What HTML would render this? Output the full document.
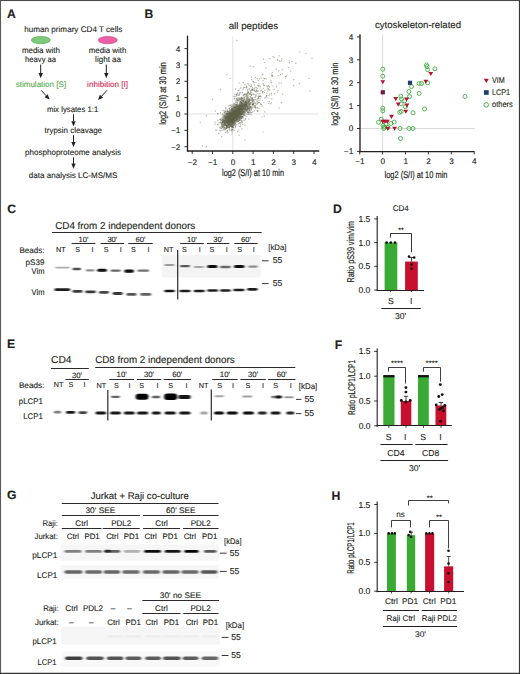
<!DOCTYPE html>
<html><head><meta charset="utf-8"><style>
html,body{margin:0;padding:0;background:#fff;}
svg{display:block;}
text{font-family:"Liberation Sans",sans-serif;stroke:#231f20;stroke-width:0.12px;text-rendering:geometricPrecision;}
</style></head><body>
<svg width="520" height="674" viewBox="0 0 520 674" fill="#231f20">
<defs><filter id="bl" x="-20%" y="-100%" width="140%" height="300%"><feGaussianBlur stdDeviation="0.9 0.55"/></filter></defs>
<rect x="0" y="0" width="520" height="674" fill="#fff"/>
<text x="7.0" y="18.1" font-size="12.2" font-weight="bold">A</text>
<text x="73.3" y="31.7" font-size="8.1" text-anchor="middle" textLength="98" lengthAdjust="spacingAndGlyphs">human primary CD4 T cells</text>
<ellipse cx="40.8" cy="40.1" rx="9.5" ry="3.6" fill="#7ccb7a" stroke="#5aa65a" stroke-width="0.7"/>
<ellipse cx="107.7" cy="40.1" rx="9.6" ry="3.6" fill="#ee5fa4" stroke="#c44a86" stroke-width="0.7"/>
<text x="40.9" y="52.5" font-size="8.1" text-anchor="middle" textLength="38" lengthAdjust="spacingAndGlyphs">media with</text>
<text x="40.6" y="62.2" font-size="8.1" text-anchor="middle" textLength="31" lengthAdjust="spacingAndGlyphs">heavy aa</text>
<text x="107.5" y="52.5" font-size="8.1" text-anchor="middle" textLength="37.5" lengthAdjust="spacingAndGlyphs">media with</text>
<text x="108.1" y="62.2" font-size="8.1" text-anchor="middle" textLength="26" lengthAdjust="spacingAndGlyphs">light aa</text>
<line x1="40.7" y1="64.5" x2="40.7" y2="73.1" stroke="#231f20" stroke-width="1.0"/>
<path d="M40.70,78.30 L38.55,73.10 L42.85,73.10Z" fill="#231f20"/>
<line x1="106.3" y1="64.5" x2="106.3" y2="73.1" stroke="#231f20" stroke-width="1.0"/>
<path d="M106.30,78.30 L104.15,73.10 L108.45,73.10Z" fill="#231f20"/>
<text x="40.9" y="86.8" font-size="8.1" text-anchor="middle" fill="#5aad4e" style="stroke:#5aad4e" textLength="50.5" lengthAdjust="spacingAndGlyphs">stimulation [S]</text>
<text x="107.6" y="86.8" font-size="8.1" text-anchor="middle" fill="#d42a55" style="stroke:#d42a55" textLength="41" lengthAdjust="spacingAndGlyphs">inhibition [I]</text>
<line x1="41.2" y1="90.3" x2="46.1145114585624" y2="95.74106625769407" stroke="#231f20" stroke-width="1.0"/>
<path d="M49.60,99.60 L44.52,97.18 L47.71,94.30Z" fill="#231f20"/>
<line x1="107" y1="90.3" x2="101.51730599779873" y2="96.27004458017471" stroke="#231f20" stroke-width="1.0"/>
<path d="M98.00,100.10 L99.93,94.82 L103.10,97.72Z" fill="#231f20"/>
<text x="72.6" y="111.9" font-size="8.1" text-anchor="middle" textLength="51.3" lengthAdjust="spacingAndGlyphs">mix lysates 1:1</text>
<line x1="73.5" y1="114.3" x2="73.5" y2="121.2" stroke="#231f20" stroke-width="1.0"/>
<path d="M73.50,126.40 L71.35,121.20 L75.65,121.20Z" fill="#231f20"/>
<text x="73.3" y="133" font-size="8.1" text-anchor="middle" textLength="57.5" lengthAdjust="spacingAndGlyphs">trypsin cleavage</text>
<line x1="73.5" y1="135.3" x2="73.5" y2="141.9" stroke="#231f20" stroke-width="1.0"/>
<path d="M73.50,147.10 L71.35,141.90 L75.65,141.90Z" fill="#231f20"/>
<text x="73.1" y="154.5" font-size="8.1" text-anchor="middle" textLength="96" lengthAdjust="spacingAndGlyphs">phosphoproteome analysis</text>
<line x1="73.5" y1="157.3" x2="73.5" y2="163.60000000000002" stroke="#231f20" stroke-width="1.0"/>
<path d="M73.50,168.80 L71.35,163.60 L75.65,163.60Z" fill="#231f20"/>
<text x="73.1" y="177.5" font-size="8.1" text-anchor="middle" textLength="88.5" lengthAdjust="spacingAndGlyphs">data analysis LC-MS/MS</text>
<text x="144.4" y="17.7" font-size="12.2" font-weight="bold">B</text>
<line x1="232.8" y1="36.5" x2="232.8" y2="151" stroke="#d4d4d4" stroke-width="0.7" />
<line x1="187.5" y1="114" x2="319" y2="114" stroke="#d4d4d4" stroke-width="0.7" />
<path d="M233.0 117.3h1.2v1.2h-1.2zM227.1 124.6h1.2v1.2h-1.2zM235.8 114.0h1.2v1.2h-1.2zM229.1 115.1h1.2v1.2h-1.2zM231.0 113.8h1.2v1.2h-1.2zM235.6 110.1h1.2v1.2h-1.2zM219.1 118.8h1.2v1.2h-1.2zM237.4 113.1h1.2v1.2h-1.2zM230.3 124.5h1.2v1.2h-1.2zM231.0 121.1h1.2v1.2h-1.2zM230.8 120.0h1.2v1.2h-1.2zM238.8 111.7h1.2v1.2h-1.2zM228.4 120.8h1.2v1.2h-1.2zM232.0 115.9h1.2v1.2h-1.2zM232.9 117.9h1.2v1.2h-1.2zM238.2 110.6h1.2v1.2h-1.2zM235.8 115.0h1.2v1.2h-1.2zM230.9 112.7h1.2v1.2h-1.2zM236.4 113.5h1.2v1.2h-1.2zM241.0 106.1h1.2v1.2h-1.2zM235.0 117.4h1.2v1.2h-1.2zM232.2 115.8h1.2v1.2h-1.2zM224.2 121.5h1.2v1.2h-1.2zM227.4 117.7h1.2v1.2h-1.2zM220.9 123.7h1.2v1.2h-1.2zM241.1 112.4h1.2v1.2h-1.2zM238.3 113.6h1.2v1.2h-1.2zM227.5 117.3h1.2v1.2h-1.2zM226.2 126.2h1.2v1.2h-1.2zM247.8 104.7h1.2v1.2h-1.2zM234.0 116.3h1.2v1.2h-1.2zM230.3 117.9h1.2v1.2h-1.2zM233.8 110.4h1.2v1.2h-1.2zM230.7 119.7h1.2v1.2h-1.2zM234.0 117.2h1.2v1.2h-1.2zM233.4 118.4h1.2v1.2h-1.2zM234.5 113.9h1.2v1.2h-1.2zM236.4 111.6h1.2v1.2h-1.2zM224.2 123.8h1.2v1.2h-1.2zM244.4 108.6h1.2v1.2h-1.2zM231.6 115.3h1.2v1.2h-1.2zM226.5 122.5h1.2v1.2h-1.2zM238.1 111.3h1.2v1.2h-1.2zM246.2 100.7h1.2v1.2h-1.2zM239.6 112.4h1.2v1.2h-1.2zM240.1 108.2h1.2v1.2h-1.2zM240.1 105.3h1.2v1.2h-1.2zM244.5 108.4h1.2v1.2h-1.2zM222.8 118.7h1.2v1.2h-1.2zM235.5 111.8h1.2v1.2h-1.2zM236.0 114.3h1.2v1.2h-1.2zM232.8 116.9h1.2v1.2h-1.2zM238.2 111.3h1.2v1.2h-1.2zM243.0 102.9h1.2v1.2h-1.2zM234.9 106.1h1.2v1.2h-1.2zM228.2 121.4h1.2v1.2h-1.2zM235.4 113.8h1.2v1.2h-1.2zM236.6 108.5h1.2v1.2h-1.2zM223.8 116.3h1.2v1.2h-1.2zM237.8 109.7h1.2v1.2h-1.2zM223.1 116.5h1.2v1.2h-1.2zM224.4 109.7h1.2v1.2h-1.2zM233.6 114.9h1.2v1.2h-1.2zM240.2 109.4h1.2v1.2h-1.2zM235.4 113.1h1.2v1.2h-1.2zM233.2 118.0h1.2v1.2h-1.2zM231.5 118.7h1.2v1.2h-1.2zM233.1 118.6h1.2v1.2h-1.2zM242.1 98.0h1.2v1.2h-1.2zM229.1 111.1h1.2v1.2h-1.2zM243.7 111.5h1.2v1.2h-1.2zM225.2 124.2h1.2v1.2h-1.2zM235.8 109.1h1.2v1.2h-1.2zM235.8 118.0h1.2v1.2h-1.2zM236.1 112.9h1.2v1.2h-1.2zM233.3 119.8h1.2v1.2h-1.2zM227.2 124.5h1.2v1.2h-1.2zM231.1 120.6h1.2v1.2h-1.2zM246.2 98.1h1.2v1.2h-1.2zM227.9 124.7h1.2v1.2h-1.2zM241.2 108.4h1.2v1.2h-1.2zM228.4 122.5h1.2v1.2h-1.2zM231.2 117.4h1.2v1.2h-1.2zM231.6 116.5h1.2v1.2h-1.2zM221.7 127.0h1.2v1.2h-1.2zM233.5 112.6h1.2v1.2h-1.2zM225.0 115.3h1.2v1.2h-1.2zM251.8 104.3h1.2v1.2h-1.2zM232.5 114.4h1.2v1.2h-1.2zM228.0 117.3h1.2v1.2h-1.2zM237.1 116.4h1.2v1.2h-1.2zM237.7 105.3h1.2v1.2h-1.2zM237.8 119.3h1.2v1.2h-1.2zM238.4 115.2h1.2v1.2h-1.2zM244.7 103.8h1.2v1.2h-1.2zM226.4 114.3h1.2v1.2h-1.2zM233.7 114.0h1.2v1.2h-1.2zM226.0 117.6h1.2v1.2h-1.2zM237.9 115.8h1.2v1.2h-1.2zM228.1 114.6h1.2v1.2h-1.2zM242.8 100.4h1.2v1.2h-1.2zM235.9 113.4h1.2v1.2h-1.2zM239.4 107.7h1.2v1.2h-1.2zM234.2 112.7h1.2v1.2h-1.2zM238.1 114.5h1.2v1.2h-1.2zM244.0 107.7h1.2v1.2h-1.2zM236.0 115.3h1.2v1.2h-1.2zM232.3 118.9h1.2v1.2h-1.2zM235.4 110.8h1.2v1.2h-1.2zM232.9 117.6h1.2v1.2h-1.2zM238.7 115.0h1.2v1.2h-1.2zM240.4 112.2h1.2v1.2h-1.2zM231.4 110.5h1.2v1.2h-1.2zM229.6 116.3h1.2v1.2h-1.2zM220.9 128.1h1.2v1.2h-1.2zM226.3 121.5h1.2v1.2h-1.2zM232.8 116.5h1.2v1.2h-1.2zM239.0 107.4h1.2v1.2h-1.2zM240.7 118.0h1.2v1.2h-1.2zM234.6 111.0h1.2v1.2h-1.2zM228.4 122.3h1.2v1.2h-1.2zM232.4 115.3h1.2v1.2h-1.2zM239.7 104.4h1.2v1.2h-1.2zM225.0 121.9h1.2v1.2h-1.2zM227.8 120.6h1.2v1.2h-1.2zM235.3 112.5h1.2v1.2h-1.2zM234.1 113.4h1.2v1.2h-1.2zM229.1 121.5h1.2v1.2h-1.2zM232.8 118.6h1.2v1.2h-1.2zM237.1 111.2h1.2v1.2h-1.2zM230.6 115.1h1.2v1.2h-1.2zM234.5 107.2h1.2v1.2h-1.2zM236.3 112.4h1.2v1.2h-1.2zM231.8 117.4h1.2v1.2h-1.2zM234.2 114.5h1.2v1.2h-1.2zM225.8 117.8h1.2v1.2h-1.2zM233.4 120.9h1.2v1.2h-1.2zM231.0 121.6h1.2v1.2h-1.2zM227.0 113.9h1.2v1.2h-1.2zM222.6 120.4h1.2v1.2h-1.2zM233.8 106.7h1.2v1.2h-1.2zM239.4 115.3h1.2v1.2h-1.2zM244.2 107.9h1.2v1.2h-1.2zM239.9 114.0h1.2v1.2h-1.2zM232.8 113.0h1.2v1.2h-1.2zM232.2 111.7h1.2v1.2h-1.2zM222.9 122.4h1.2v1.2h-1.2zM221.8 118.5h1.2v1.2h-1.2zM241.1 102.0h1.2v1.2h-1.2zM229.9 115.2h1.2v1.2h-1.2zM232.6 115.0h1.2v1.2h-1.2zM247.0 106.6h1.2v1.2h-1.2zM229.3 113.8h1.2v1.2h-1.2zM233.0 123.2h1.2v1.2h-1.2zM228.5 129.2h1.2v1.2h-1.2zM233.3 111.4h1.2v1.2h-1.2zM240.7 113.9h1.2v1.2h-1.2zM233.6 109.6h1.2v1.2h-1.2zM232.4 115.8h1.2v1.2h-1.2zM240.4 108.0h1.2v1.2h-1.2zM245.8 105.5h1.2v1.2h-1.2zM237.0 118.8h1.2v1.2h-1.2zM237.2 106.3h1.2v1.2h-1.2zM239.9 112.5h1.2v1.2h-1.2zM232.3 112.3h1.2v1.2h-1.2zM245.2 100.5h1.2v1.2h-1.2zM242.5 104.4h1.2v1.2h-1.2zM221.7 124.1h1.2v1.2h-1.2zM239.3 107.5h1.2v1.2h-1.2zM240.8 110.1h1.2v1.2h-1.2zM233.3 117.7h1.2v1.2h-1.2zM236.1 123.9h1.2v1.2h-1.2zM237.4 112.7h1.2v1.2h-1.2zM229.3 112.2h1.2v1.2h-1.2zM221.2 127.1h1.2v1.2h-1.2zM230.2 121.3h1.2v1.2h-1.2zM231.0 116.3h1.2v1.2h-1.2zM227.2 119.1h1.2v1.2h-1.2zM230.4 125.8h1.2v1.2h-1.2zM228.1 122.2h1.2v1.2h-1.2zM238.3 106.0h1.2v1.2h-1.2zM226.8 117.3h1.2v1.2h-1.2zM235.2 108.5h1.2v1.2h-1.2zM236.5 113.4h1.2v1.2h-1.2zM232.1 112.5h1.2v1.2h-1.2zM246.3 104.8h1.2v1.2h-1.2zM233.6 111.4h1.2v1.2h-1.2zM225.3 123.6h1.2v1.2h-1.2zM232.2 116.8h1.2v1.2h-1.2zM241.0 112.5h1.2v1.2h-1.2zM228.3 127.1h1.2v1.2h-1.2zM232.0 118.5h1.2v1.2h-1.2zM228.8 118.0h1.2v1.2h-1.2zM233.4 116.2h1.2v1.2h-1.2zM237.6 113.0h1.2v1.2h-1.2zM230.2 116.1h1.2v1.2h-1.2zM238.5 110.5h1.2v1.2h-1.2zM235.3 106.8h1.2v1.2h-1.2zM232.3 114.1h1.2v1.2h-1.2zM228.7 111.8h1.2v1.2h-1.2zM227.2 113.9h1.2v1.2h-1.2zM233.3 117.0h1.2v1.2h-1.2zM240.0 112.3h1.2v1.2h-1.2zM238.0 112.5h1.2v1.2h-1.2zM232.3 117.8h1.2v1.2h-1.2zM230.9 118.3h1.2v1.2h-1.2zM243.8 105.6h1.2v1.2h-1.2zM233.0 117.6h1.2v1.2h-1.2zM234.2 108.2h1.2v1.2h-1.2zM223.5 128.5h1.2v1.2h-1.2zM234.7 119.4h1.2v1.2h-1.2zM228.5 118.3h1.2v1.2h-1.2zM233.3 113.6h1.2v1.2h-1.2zM237.2 111.5h1.2v1.2h-1.2zM236.8 113.1h1.2v1.2h-1.2zM237.0 116.5h1.2v1.2h-1.2zM232.3 113.9h1.2v1.2h-1.2zM232.8 114.0h1.2v1.2h-1.2zM236.5 107.9h1.2v1.2h-1.2zM227.3 110.9h1.2v1.2h-1.2zM237.5 114.9h1.2v1.2h-1.2zM232.1 117.7h1.2v1.2h-1.2zM233.2 114.0h1.2v1.2h-1.2zM238.7 111.2h1.2v1.2h-1.2zM241.0 107.4h1.2v1.2h-1.2zM235.4 118.1h1.2v1.2h-1.2zM232.0 118.8h1.2v1.2h-1.2zM228.0 118.9h1.2v1.2h-1.2zM245.3 103.3h1.2v1.2h-1.2zM237.4 109.3h1.2v1.2h-1.2zM240.3 109.8h1.2v1.2h-1.2zM223.2 120.0h1.2v1.2h-1.2zM238.3 114.6h1.2v1.2h-1.2zM239.6 110.1h1.2v1.2h-1.2zM235.1 113.0h1.2v1.2h-1.2zM226.5 120.4h1.2v1.2h-1.2zM229.9 107.1h1.2v1.2h-1.2zM237.3 110.7h1.2v1.2h-1.2zM236.4 113.9h1.2v1.2h-1.2zM233.1 110.8h1.2v1.2h-1.2zM226.8 126.4h1.2v1.2h-1.2zM235.0 125.8h1.2v1.2h-1.2zM223.7 125.2h1.2v1.2h-1.2zM234.6 111.6h1.2v1.2h-1.2zM236.8 112.8h1.2v1.2h-1.2zM232.2 115.0h1.2v1.2h-1.2zM238.9 112.6h1.2v1.2h-1.2zM241.8 116.9h1.2v1.2h-1.2zM233.0 115.7h1.2v1.2h-1.2zM224.9 128.7h1.2v1.2h-1.2zM231.8 118.6h1.2v1.2h-1.2zM233.2 125.0h1.2v1.2h-1.2zM230.1 114.1h1.2v1.2h-1.2zM226.3 123.0h1.2v1.2h-1.2zM241.7 113.3h1.2v1.2h-1.2zM237.0 113.7h1.2v1.2h-1.2zM225.4 123.8h1.2v1.2h-1.2zM238.1 115.2h1.2v1.2h-1.2zM237.1 115.2h1.2v1.2h-1.2zM233.5 111.2h1.2v1.2h-1.2zM231.4 112.8h1.2v1.2h-1.2zM224.2 125.4h1.2v1.2h-1.2zM230.9 110.3h1.2v1.2h-1.2zM229.6 114.0h1.2v1.2h-1.2zM251.0 97.7h1.2v1.2h-1.2zM237.5 105.2h1.2v1.2h-1.2zM233.1 112.5h1.2v1.2h-1.2zM234.4 120.0h1.2v1.2h-1.2zM234.1 112.9h1.2v1.2h-1.2zM234.0 112.3h1.2v1.2h-1.2zM231.0 115.0h1.2v1.2h-1.2zM236.7 109.6h1.2v1.2h-1.2zM239.9 110.8h1.2v1.2h-1.2zM233.9 117.9h1.2v1.2h-1.2zM236.2 120.6h1.2v1.2h-1.2zM232.6 119.5h1.2v1.2h-1.2zM227.6 118.0h1.2v1.2h-1.2zM244.2 112.5h1.2v1.2h-1.2zM239.6 111.7h1.2v1.2h-1.2zM223.3 124.8h1.2v1.2h-1.2zM239.4 109.6h1.2v1.2h-1.2zM236.2 117.6h1.2v1.2h-1.2zM238.1 108.6h1.2v1.2h-1.2zM231.8 126.1h1.2v1.2h-1.2zM236.1 106.2h1.2v1.2h-1.2zM239.3 105.1h1.2v1.2h-1.2zM235.6 111.9h1.2v1.2h-1.2zM227.3 115.0h1.2v1.2h-1.2zM232.2 120.7h1.2v1.2h-1.2zM232.8 117.9h1.2v1.2h-1.2zM241.8 110.7h1.2v1.2h-1.2zM230.3 120.8h1.2v1.2h-1.2zM226.0 124.3h1.2v1.2h-1.2zM241.8 109.0h1.2v1.2h-1.2zM229.0 127.6h1.2v1.2h-1.2zM233.0 117.2h1.2v1.2h-1.2zM231.9 112.9h1.2v1.2h-1.2zM233.9 116.7h1.2v1.2h-1.2zM233.2 116.2h1.2v1.2h-1.2zM237.7 112.5h1.2v1.2h-1.2zM233.2 117.1h1.2v1.2h-1.2zM229.5 116.3h1.2v1.2h-1.2zM230.3 111.7h1.2v1.2h-1.2zM241.0 104.8h1.2v1.2h-1.2zM238.2 112.8h1.2v1.2h-1.2zM232.1 108.5h1.2v1.2h-1.2zM241.8 111.1h1.2v1.2h-1.2zM222.5 115.7h1.2v1.2h-1.2zM239.9 109.9h1.2v1.2h-1.2zM238.9 116.5h1.2v1.2h-1.2zM225.6 117.8h1.2v1.2h-1.2zM235.4 112.7h1.2v1.2h-1.2zM239.6 114.9h1.2v1.2h-1.2zM244.2 101.0h1.2v1.2h-1.2zM240.0 113.2h1.2v1.2h-1.2zM241.9 112.1h1.2v1.2h-1.2zM235.8 115.4h1.2v1.2h-1.2zM234.1 114.6h1.2v1.2h-1.2zM238.7 111.1h1.2v1.2h-1.2zM236.9 113.2h1.2v1.2h-1.2zM226.9 115.6h1.2v1.2h-1.2zM236.0 116.2h1.2v1.2h-1.2zM238.7 118.9h1.2v1.2h-1.2zM241.8 105.4h1.2v1.2h-1.2zM223.7 121.9h1.2v1.2h-1.2zM232.7 114.6h1.2v1.2h-1.2zM232.7 117.0h1.2v1.2h-1.2zM233.0 114.7h1.2v1.2h-1.2zM228.7 112.3h1.2v1.2h-1.2zM227.5 123.0h1.2v1.2h-1.2zM237.4 99.6h1.2v1.2h-1.2zM230.9 108.8h1.2v1.2h-1.2zM226.0 121.1h1.2v1.2h-1.2zM237.9 110.6h1.2v1.2h-1.2zM242.6 106.7h1.2v1.2h-1.2zM234.3 114.2h1.2v1.2h-1.2zM233.6 118.6h1.2v1.2h-1.2zM236.8 105.6h1.2v1.2h-1.2zM235.6 114.1h1.2v1.2h-1.2zM230.8 122.4h1.2v1.2h-1.2zM232.1 113.2h1.2v1.2h-1.2zM233.8 115.4h1.2v1.2h-1.2zM235.3 113.9h1.2v1.2h-1.2zM234.2 112.5h1.2v1.2h-1.2zM232.2 114.4h1.2v1.2h-1.2zM227.9 116.2h1.2v1.2h-1.2zM241.2 104.8h1.2v1.2h-1.2zM231.2 117.8h1.2v1.2h-1.2zM221.4 126.0h1.2v1.2h-1.2zM233.0 119.0h1.2v1.2h-1.2zM225.1 120.6h1.2v1.2h-1.2zM234.8 115.9h1.2v1.2h-1.2zM247.0 104.1h1.2v1.2h-1.2zM228.0 116.2h1.2v1.2h-1.2zM230.0 117.1h1.2v1.2h-1.2zM226.0 115.7h1.2v1.2h-1.2zM236.7 110.8h1.2v1.2h-1.2zM235.8 115.6h1.2v1.2h-1.2zM231.0 118.2h1.2v1.2h-1.2zM224.7 113.3h1.2v1.2h-1.2zM240.7 108.0h1.2v1.2h-1.2zM234.3 113.8h1.2v1.2h-1.2zM235.8 113.0h1.2v1.2h-1.2zM238.9 107.1h1.2v1.2h-1.2zM239.5 114.7h1.2v1.2h-1.2zM229.7 116.2h1.2v1.2h-1.2zM222.7 119.7h1.2v1.2h-1.2zM232.9 111.9h1.2v1.2h-1.2zM230.5 118.4h1.2v1.2h-1.2zM229.8 118.7h1.2v1.2h-1.2zM230.9 116.0h1.2v1.2h-1.2zM243.5 107.5h1.2v1.2h-1.2zM235.4 113.7h1.2v1.2h-1.2zM235.9 111.9h1.2v1.2h-1.2zM231.9 114.2h1.2v1.2h-1.2zM234.9 110.4h1.2v1.2h-1.2zM222.6 120.2h1.2v1.2h-1.2zM239.5 117.6h1.2v1.2h-1.2zM233.5 111.8h1.2v1.2h-1.2zM234.8 111.9h1.2v1.2h-1.2zM231.5 108.6h1.2v1.2h-1.2zM231.7 113.8h1.2v1.2h-1.2zM233.5 122.5h1.2v1.2h-1.2zM231.8 119.4h1.2v1.2h-1.2zM224.0 123.0h1.2v1.2h-1.2zM225.9 113.1h1.2v1.2h-1.2zM240.7 107.5h1.2v1.2h-1.2zM223.1 125.0h1.2v1.2h-1.2zM234.6 116.9h1.2v1.2h-1.2zM230.2 117.8h1.2v1.2h-1.2zM234.6 113.0h1.2v1.2h-1.2zM232.1 122.1h1.2v1.2h-1.2zM233.2 119.5h1.2v1.2h-1.2zM235.0 114.6h1.2v1.2h-1.2zM232.6 115.4h1.2v1.2h-1.2zM227.1 111.1h1.2v1.2h-1.2zM235.3 114.7h1.2v1.2h-1.2zM239.5 106.2h1.2v1.2h-1.2zM229.1 118.3h1.2v1.2h-1.2zM238.1 111.3h1.2v1.2h-1.2zM225.4 107.4h1.2v1.2h-1.2zM225.8 111.8h1.2v1.2h-1.2zM235.9 117.9h1.2v1.2h-1.2zM231.7 114.7h1.2v1.2h-1.2zM238.5 104.7h1.2v1.2h-1.2zM229.0 125.2h1.2v1.2h-1.2zM239.6 100.8h1.2v1.2h-1.2zM228.9 119.7h1.2v1.2h-1.2zM235.3 111.6h1.2v1.2h-1.2zM242.6 110.9h1.2v1.2h-1.2zM231.4 104.6h1.2v1.2h-1.2zM241.6 105.8h1.2v1.2h-1.2zM234.0 112.9h1.2v1.2h-1.2zM240.7 116.0h1.2v1.2h-1.2zM243.9 101.8h1.2v1.2h-1.2zM224.6 126.9h1.2v1.2h-1.2zM236.3 119.3h1.2v1.2h-1.2zM239.2 107.4h1.2v1.2h-1.2zM231.5 131.2h1.2v1.2h-1.2zM234.3 114.3h1.2v1.2h-1.2zM232.9 114.9h1.2v1.2h-1.2zM238.2 110.5h1.2v1.2h-1.2zM231.1 114.3h1.2v1.2h-1.2zM242.9 104.9h1.2v1.2h-1.2zM220.9 119.9h1.2v1.2h-1.2zM230.5 111.9h1.2v1.2h-1.2zM228.2 122.7h1.2v1.2h-1.2zM219.3 127.6h1.2v1.2h-1.2zM234.5 104.5h1.2v1.2h-1.2zM226.7 114.3h1.2v1.2h-1.2zM233.6 119.9h1.2v1.2h-1.2zM242.7 110.9h1.2v1.2h-1.2zM230.5 118.1h1.2v1.2h-1.2zM222.2 119.8h1.2v1.2h-1.2zM235.7 104.2h1.2v1.2h-1.2zM239.3 108.7h1.2v1.2h-1.2zM228.5 120.5h1.2v1.2h-1.2zM228.1 118.8h1.2v1.2h-1.2zM223.6 110.7h1.2v1.2h-1.2zM241.2 120.5h1.2v1.2h-1.2zM217.2 113.2h1.2v1.2h-1.2zM222.3 109.8h1.2v1.2h-1.2zM234.2 108.4h1.2v1.2h-1.2zM227.9 116.9h1.2v1.2h-1.2zM244.4 105.2h1.2v1.2h-1.2zM234.5 123.7h1.2v1.2h-1.2zM241.7 121.8h1.2v1.2h-1.2zM241.0 109.8h1.2v1.2h-1.2zM221.1 136.1h1.2v1.2h-1.2zM226.7 112.6h1.2v1.2h-1.2zM224.4 117.2h1.2v1.2h-1.2zM233.5 121.5h1.2v1.2h-1.2zM224.8 127.2h1.2v1.2h-1.2zM242.9 115.2h1.2v1.2h-1.2zM226.0 123.4h1.2v1.2h-1.2zM221.9 121.0h1.2v1.2h-1.2zM229.5 112.6h1.2v1.2h-1.2zM234.3 109.9h1.2v1.2h-1.2zM239.5 125.9h1.2v1.2h-1.2zM251.5 106.3h1.2v1.2h-1.2zM237.7 123.1h1.2v1.2h-1.2zM246.0 104.4h1.2v1.2h-1.2zM238.0 105.9h1.2v1.2h-1.2zM231.5 123.9h1.2v1.2h-1.2zM231.0 110.8h1.2v1.2h-1.2zM229.9 118.1h1.2v1.2h-1.2zM222.3 125.6h1.2v1.2h-1.2zM229.8 112.8h1.2v1.2h-1.2zM248.5 108.5h1.2v1.2h-1.2zM231.3 126.8h1.2v1.2h-1.2zM246.3 104.9h1.2v1.2h-1.2zM233.2 107.2h1.2v1.2h-1.2zM233.9 111.9h1.2v1.2h-1.2zM225.0 111.0h1.2v1.2h-1.2zM228.2 114.4h1.2v1.2h-1.2zM249.2 103.0h1.2v1.2h-1.2zM278.6 60.1h1.2v1.2h-1.2zM249.0 99.8h1.2v1.2h-1.2zM252.3 103.0h1.2v1.2h-1.2zM242.5 104.1h1.2v1.2h-1.2zM245.7 103.5h1.2v1.2h-1.2zM248.6 85.0h1.2v1.2h-1.2zM244.4 107.0h1.2v1.2h-1.2zM308.4 77.9h1.2v1.2h-1.2zM267.7 84.7h1.2v1.2h-1.2zM259.0 95.9h1.2v1.2h-1.2zM255.0 102.4h1.2v1.2h-1.2zM266.6 88.4h1.2v1.2h-1.2zM241.0 101.7h1.2v1.2h-1.2zM244.9 102.2h1.2v1.2h-1.2zM247.4 111.6h1.2v1.2h-1.2zM273.8 93.3h1.2v1.2h-1.2zM248.1 83.3h1.2v1.2h-1.2zM243.7 98.8h1.2v1.2h-1.2zM254.7 96.3h1.2v1.2h-1.2zM258.2 85.2h1.2v1.2h-1.2zM266.0 85.2h1.2v1.2h-1.2zM248.6 103.6h1.2v1.2h-1.2zM247.0 100.2h1.2v1.2h-1.2zM236.0 97.9h1.2v1.2h-1.2zM249.0 93.1h1.2v1.2h-1.2zM241.8 91.8h1.2v1.2h-1.2zM277.1 91.6h1.2v1.2h-1.2zM236.7 92.0h1.2v1.2h-1.2zM260.6 89.6h1.2v1.2h-1.2zM247.9 103.1h1.2v1.2h-1.2zM252.2 111.1h1.2v1.2h-1.2zM273.5 88.8h1.2v1.2h-1.2zM268.8 86.4h1.2v1.2h-1.2zM250.4 100.1h1.2v1.2h-1.2zM240.4 98.4h1.2v1.2h-1.2zM259.8 95.8h1.2v1.2h-1.2zM257.2 110.5h1.2v1.2h-1.2zM253.9 105.1h1.2v1.2h-1.2zM242.4 98.3h1.2v1.2h-1.2zM257.7 98.0h1.2v1.2h-1.2zM246.5 106.1h1.2v1.2h-1.2zM248.5 102.4h1.2v1.2h-1.2zM247.3 90.6h1.2v1.2h-1.2zM248.8 103.4h1.2v1.2h-1.2zM255.0 108.3h1.2v1.2h-1.2zM252.5 93.7h1.2v1.2h-1.2zM249.2 88.5h1.2v1.2h-1.2zM233.8 98.4h1.2v1.2h-1.2zM257.8 102.1h1.2v1.2h-1.2zM251.0 79.0h1.2v1.2h-1.2zM246.0 86.5h1.2v1.2h-1.2zM246.1 100.6h1.2v1.2h-1.2zM272.3 85.4h1.2v1.2h-1.2zM235.8 95.3h1.2v1.2h-1.2zM244.6 106.4h1.2v1.2h-1.2zM247.2 92.2h1.2v1.2h-1.2zM253.2 99.6h1.2v1.2h-1.2zM247.4 104.6h1.2v1.2h-1.2zM253.3 102.9h1.2v1.2h-1.2zM265.9 85.3h1.2v1.2h-1.2zM270.8 102.3h1.2v1.2h-1.2zM262.4 80.1h1.2v1.2h-1.2zM241.4 92.3h1.2v1.2h-1.2zM248.8 109.8h1.2v1.2h-1.2zM284.9 75.9h1.2v1.2h-1.2zM247.9 99.6h1.2v1.2h-1.2zM245.6 100.8h1.2v1.2h-1.2zM259.3 92.7h1.2v1.2h-1.2zM241.9 104.0h1.2v1.2h-1.2zM256.1 86.9h1.2v1.2h-1.2zM249.7 112.2h1.2v1.2h-1.2zM248.5 98.2h1.2v1.2h-1.2zM268.4 94.7h1.2v1.2h-1.2zM258.3 83.3h1.2v1.2h-1.2zM243.8 105.5h1.2v1.2h-1.2zM244.7 100.0h1.2v1.2h-1.2zM258.3 100.0h1.2v1.2h-1.2zM246.3 106.0h1.2v1.2h-1.2zM272.2 75.9h1.2v1.2h-1.2zM260.5 77.6h1.2v1.2h-1.2zM201.8 145.3h1.2v1.2h-1.2zM311.4 57.8h1.2v1.2h-1.2zM244.4 139.6h1.2v1.2h-1.2zM293.1 79.1h1.2v1.2h-1.2z" fill="#55583f" fill-opacity="0.42"/>
<path d="M231.5 115.4h1.2v1.2h-1.2zM237.2 113.1h1.2v1.2h-1.2zM233.6 121.6h1.2v1.2h-1.2zM233.3 119.9h1.2v1.2h-1.2zM236.0 112.0h1.2v1.2h-1.2zM228.5 114.5h1.2v1.2h-1.2zM233.8 111.4h1.2v1.2h-1.2zM228.5 125.0h1.2v1.2h-1.2zM236.1 111.5h1.2v1.2h-1.2zM240.9 105.5h1.2v1.2h-1.2zM241.6 110.1h1.2v1.2h-1.2zM245.7 103.9h1.2v1.2h-1.2zM236.0 113.2h1.2v1.2h-1.2zM219.4 126.8h1.2v1.2h-1.2zM234.1 103.1h1.2v1.2h-1.2zM235.9 118.6h1.2v1.2h-1.2zM222.9 119.1h1.2v1.2h-1.2zM241.0 113.8h1.2v1.2h-1.2zM239.9 104.1h1.2v1.2h-1.2zM221.6 125.0h1.2v1.2h-1.2zM245.3 109.5h1.2v1.2h-1.2zM230.9 118.3h1.2v1.2h-1.2zM240.7 110.7h1.2v1.2h-1.2zM225.8 122.0h1.2v1.2h-1.2zM234.0 112.4h1.2v1.2h-1.2zM230.8 115.4h1.2v1.2h-1.2zM228.8 119.1h1.2v1.2h-1.2zM251.2 101.7h1.2v1.2h-1.2zM233.7 111.7h1.2v1.2h-1.2zM224.8 117.8h1.2v1.2h-1.2zM229.5 118.2h1.2v1.2h-1.2zM233.0 115.8h1.2v1.2h-1.2zM224.4 124.0h1.2v1.2h-1.2zM236.5 112.4h1.2v1.2h-1.2zM234.0 118.6h1.2v1.2h-1.2zM239.0 109.3h1.2v1.2h-1.2zM233.5 117.5h1.2v1.2h-1.2zM229.2 113.2h1.2v1.2h-1.2zM233.3 107.7h1.2v1.2h-1.2zM226.0 120.1h1.2v1.2h-1.2zM231.3 113.7h1.2v1.2h-1.2zM231.2 111.3h1.2v1.2h-1.2zM227.0 115.6h1.2v1.2h-1.2zM239.9 108.8h1.2v1.2h-1.2zM235.9 111.7h1.2v1.2h-1.2zM229.9 119.3h1.2v1.2h-1.2zM236.2 110.1h1.2v1.2h-1.2zM235.4 122.1h1.2v1.2h-1.2zM239.2 107.2h1.2v1.2h-1.2zM229.3 119.6h1.2v1.2h-1.2zM240.8 116.0h1.2v1.2h-1.2zM235.1 116.3h1.2v1.2h-1.2zM236.0 111.8h1.2v1.2h-1.2zM233.8 113.8h1.2v1.2h-1.2zM237.3 110.4h1.2v1.2h-1.2zM244.0 105.9h1.2v1.2h-1.2zM226.6 120.7h1.2v1.2h-1.2zM235.2 116.1h1.2v1.2h-1.2zM234.0 115.3h1.2v1.2h-1.2zM233.7 111.8h1.2v1.2h-1.2zM238.4 113.1h1.2v1.2h-1.2zM237.2 109.5h1.2v1.2h-1.2zM234.3 117.7h1.2v1.2h-1.2zM229.2 125.6h1.2v1.2h-1.2zM236.4 110.3h1.2v1.2h-1.2zM243.1 105.2h1.2v1.2h-1.2zM229.3 121.0h1.2v1.2h-1.2zM232.9 113.7h1.2v1.2h-1.2zM233.9 116.0h1.2v1.2h-1.2zM231.1 115.3h1.2v1.2h-1.2zM228.7 117.8h1.2v1.2h-1.2zM236.4 104.2h1.2v1.2h-1.2zM236.2 119.1h1.2v1.2h-1.2zM230.2 115.7h1.2v1.2h-1.2zM230.1 121.3h1.2v1.2h-1.2zM231.8 119.7h1.2v1.2h-1.2zM227.5 125.4h1.2v1.2h-1.2zM237.4 113.4h1.2v1.2h-1.2zM231.7 116.6h1.2v1.2h-1.2zM233.8 112.1h1.2v1.2h-1.2zM232.7 114.4h1.2v1.2h-1.2zM229.2 120.5h1.2v1.2h-1.2zM239.1 112.3h1.2v1.2h-1.2zM228.6 119.5h1.2v1.2h-1.2zM235.6 111.3h1.2v1.2h-1.2zM222.6 125.5h1.2v1.2h-1.2zM241.4 113.1h1.2v1.2h-1.2zM228.5 116.7h1.2v1.2h-1.2zM233.7 111.7h1.2v1.2h-1.2zM222.9 124.6h1.2v1.2h-1.2zM229.8 117.0h1.2v1.2h-1.2zM231.1 118.9h1.2v1.2h-1.2zM240.8 108.7h1.2v1.2h-1.2zM226.4 121.6h1.2v1.2h-1.2zM230.7 112.9h1.2v1.2h-1.2zM230.8 114.3h1.2v1.2h-1.2zM234.5 116.7h1.2v1.2h-1.2zM221.7 116.7h1.2v1.2h-1.2zM246.7 105.7h1.2v1.2h-1.2zM227.5 114.3h1.2v1.2h-1.2zM237.2 112.8h1.2v1.2h-1.2zM232.0 113.4h1.2v1.2h-1.2zM235.8 107.9h1.2v1.2h-1.2zM233.6 112.3h1.2v1.2h-1.2zM231.3 123.3h1.2v1.2h-1.2zM227.1 114.3h1.2v1.2h-1.2zM237.4 108.0h1.2v1.2h-1.2zM242.8 111.9h1.2v1.2h-1.2zM236.6 114.8h1.2v1.2h-1.2zM242.0 105.1h1.2v1.2h-1.2zM237.2 112.7h1.2v1.2h-1.2zM228.7 123.3h1.2v1.2h-1.2zM236.0 107.2h1.2v1.2h-1.2zM229.7 120.6h1.2v1.2h-1.2zM240.9 108.5h1.2v1.2h-1.2zM234.4 109.4h1.2v1.2h-1.2zM234.5 117.8h1.2v1.2h-1.2zM238.9 116.6h1.2v1.2h-1.2zM231.5 121.4h1.2v1.2h-1.2zM231.7 118.7h1.2v1.2h-1.2zM229.2 115.8h1.2v1.2h-1.2zM248.0 100.9h1.2v1.2h-1.2zM243.1 112.7h1.2v1.2h-1.2zM225.8 125.6h1.2v1.2h-1.2zM223.1 123.1h1.2v1.2h-1.2zM226.6 117.1h1.2v1.2h-1.2zM229.1 113.5h1.2v1.2h-1.2zM234.0 111.2h1.2v1.2h-1.2zM233.9 119.5h1.2v1.2h-1.2zM238.9 106.6h1.2v1.2h-1.2zM228.6 115.6h1.2v1.2h-1.2zM229.2 117.8h1.2v1.2h-1.2zM233.5 109.7h1.2v1.2h-1.2zM230.1 115.9h1.2v1.2h-1.2zM231.0 114.2h1.2v1.2h-1.2zM223.8 126.7h1.2v1.2h-1.2zM242.6 112.6h1.2v1.2h-1.2zM228.3 116.8h1.2v1.2h-1.2zM232.5 120.6h1.2v1.2h-1.2zM233.3 111.7h1.2v1.2h-1.2zM229.1 117.7h1.2v1.2h-1.2zM236.5 110.5h1.2v1.2h-1.2zM232.3 112.9h1.2v1.2h-1.2zM231.3 120.9h1.2v1.2h-1.2zM228.6 117.5h1.2v1.2h-1.2zM241.5 104.4h1.2v1.2h-1.2zM223.5 127.3h1.2v1.2h-1.2zM229.1 115.5h1.2v1.2h-1.2zM233.6 113.5h1.2v1.2h-1.2zM224.7 119.8h1.2v1.2h-1.2zM231.2 114.3h1.2v1.2h-1.2zM235.3 108.1h1.2v1.2h-1.2zM243.8 111.0h1.2v1.2h-1.2zM249.2 106.5h1.2v1.2h-1.2zM246.5 101.6h1.2v1.2h-1.2zM233.5 114.9h1.2v1.2h-1.2zM231.1 114.4h1.2v1.2h-1.2zM234.6 115.1h1.2v1.2h-1.2zM237.6 108.1h1.2v1.2h-1.2zM228.7 121.2h1.2v1.2h-1.2zM239.1 107.7h1.2v1.2h-1.2zM236.0 112.6h1.2v1.2h-1.2zM236.4 112.4h1.2v1.2h-1.2zM231.9 113.8h1.2v1.2h-1.2zM235.4 116.5h1.2v1.2h-1.2zM235.4 117.1h1.2v1.2h-1.2zM239.7 106.2h1.2v1.2h-1.2zM229.5 116.5h1.2v1.2h-1.2zM234.9 117.9h1.2v1.2h-1.2zM235.1 108.3h1.2v1.2h-1.2zM236.9 116.2h1.2v1.2h-1.2zM234.3 120.7h1.2v1.2h-1.2zM241.7 104.8h1.2v1.2h-1.2zM231.3 112.3h1.2v1.2h-1.2zM227.9 118.5h1.2v1.2h-1.2zM231.3 119.3h1.2v1.2h-1.2zM236.9 109.6h1.2v1.2h-1.2zM240.4 104.4h1.2v1.2h-1.2zM228.4 115.3h1.2v1.2h-1.2zM238.5 109.6h1.2v1.2h-1.2zM235.2 101.7h1.2v1.2h-1.2zM229.4 129.2h1.2v1.2h-1.2zM230.5 115.3h1.2v1.2h-1.2zM232.4 113.9h1.2v1.2h-1.2zM230.4 114.1h1.2v1.2h-1.2zM220.3 122.7h1.2v1.2h-1.2zM220.5 121.4h1.2v1.2h-1.2zM234.6 116.1h1.2v1.2h-1.2zM243.7 109.8h1.2v1.2h-1.2zM238.0 112.0h1.2v1.2h-1.2zM241.8 116.1h1.2v1.2h-1.2zM229.8 116.6h1.2v1.2h-1.2zM232.2 117.1h1.2v1.2h-1.2zM233.3 117.6h1.2v1.2h-1.2zM242.5 106.9h1.2v1.2h-1.2zM245.9 108.3h1.2v1.2h-1.2zM230.3 115.9h1.2v1.2h-1.2zM233.5 115.9h1.2v1.2h-1.2zM229.7 114.7h1.2v1.2h-1.2zM228.0 117.0h1.2v1.2h-1.2zM235.4 118.0h1.2v1.2h-1.2zM228.4 113.9h1.2v1.2h-1.2zM232.1 122.6h1.2v1.2h-1.2zM232.2 118.1h1.2v1.2h-1.2zM234.1 114.4h1.2v1.2h-1.2zM232.5 115.5h1.2v1.2h-1.2zM234.4 110.9h1.2v1.2h-1.2zM233.9 111.0h1.2v1.2h-1.2zM242.1 100.5h1.2v1.2h-1.2zM234.9 113.9h1.2v1.2h-1.2zM228.1 119.7h1.2v1.2h-1.2zM234.8 115.0h1.2v1.2h-1.2zM227.8 115.4h1.2v1.2h-1.2zM229.0 115.2h1.2v1.2h-1.2zM237.3 107.7h1.2v1.2h-1.2zM240.1 111.3h1.2v1.2h-1.2zM242.4 105.4h1.2v1.2h-1.2zM235.6 116.5h1.2v1.2h-1.2zM241.5 102.6h1.2v1.2h-1.2zM232.4 114.6h1.2v1.2h-1.2zM235.0 108.6h1.2v1.2h-1.2zM236.6 108.0h1.2v1.2h-1.2zM241.1 114.0h1.2v1.2h-1.2zM240.1 116.6h1.2v1.2h-1.2zM233.1 115.8h1.2v1.2h-1.2zM220.7 125.7h1.2v1.2h-1.2zM232.6 107.7h1.2v1.2h-1.2zM238.8 110.7h1.2v1.2h-1.2zM229.0 120.5h1.2v1.2h-1.2zM238.7 106.9h1.2v1.2h-1.2zM236.0 110.2h1.2v1.2h-1.2zM230.3 115.8h1.2v1.2h-1.2zM237.1 107.0h1.2v1.2h-1.2zM241.9 107.9h1.2v1.2h-1.2zM225.4 118.5h1.2v1.2h-1.2zM225.7 120.4h1.2v1.2h-1.2zM230.1 119.1h1.2v1.2h-1.2zM232.4 114.0h1.2v1.2h-1.2zM227.8 111.2h1.2v1.2h-1.2zM232.6 123.5h1.2v1.2h-1.2zM240.0 106.3h1.2v1.2h-1.2zM237.4 116.0h1.2v1.2h-1.2zM240.5 113.0h1.2v1.2h-1.2zM240.7 97.5h1.2v1.2h-1.2zM231.5 115.0h1.2v1.2h-1.2zM229.7 118.4h1.2v1.2h-1.2zM239.9 114.0h1.2v1.2h-1.2zM238.0 105.7h1.2v1.2h-1.2zM227.8 114.8h1.2v1.2h-1.2zM231.0 119.8h1.2v1.2h-1.2zM235.1 115.0h1.2v1.2h-1.2zM242.9 105.3h1.2v1.2h-1.2zM226.4 120.9h1.2v1.2h-1.2zM227.6 120.0h1.2v1.2h-1.2zM227.4 122.2h1.2v1.2h-1.2zM238.8 111.8h1.2v1.2h-1.2zM232.2 113.6h1.2v1.2h-1.2zM237.1 112.0h1.2v1.2h-1.2zM232.6 110.1h1.2v1.2h-1.2zM230.3 121.4h1.2v1.2h-1.2zM227.4 120.0h1.2v1.2h-1.2zM229.0 121.0h1.2v1.2h-1.2zM237.2 112.9h1.2v1.2h-1.2zM242.7 107.6h1.2v1.2h-1.2zM234.2 117.1h1.2v1.2h-1.2zM234.8 111.0h1.2v1.2h-1.2zM238.5 107.2h1.2v1.2h-1.2zM233.1 109.9h1.2v1.2h-1.2zM230.0 116.7h1.2v1.2h-1.2zM236.0 110.8h1.2v1.2h-1.2zM242.8 107.6h1.2v1.2h-1.2zM234.0 112.2h1.2v1.2h-1.2zM230.4 113.5h1.2v1.2h-1.2zM230.8 112.6h1.2v1.2h-1.2zM234.4 111.4h1.2v1.2h-1.2zM236.7 118.2h1.2v1.2h-1.2zM240.6 108.6h1.2v1.2h-1.2zM232.2 122.9h1.2v1.2h-1.2zM239.1 113.4h1.2v1.2h-1.2zM247.7 101.5h1.2v1.2h-1.2zM229.1 118.7h1.2v1.2h-1.2zM234.8 113.2h1.2v1.2h-1.2zM232.0 117.2h1.2v1.2h-1.2zM243.5 104.5h1.2v1.2h-1.2zM242.8 109.0h1.2v1.2h-1.2zM235.2 106.6h1.2v1.2h-1.2zM242.6 104.2h1.2v1.2h-1.2zM229.1 123.7h1.2v1.2h-1.2zM235.5 106.5h1.2v1.2h-1.2zM230.9 123.6h1.2v1.2h-1.2zM244.7 105.4h1.2v1.2h-1.2zM239.2 107.6h1.2v1.2h-1.2zM235.1 116.9h1.2v1.2h-1.2zM223.9 127.9h1.2v1.2h-1.2zM245.0 105.9h1.2v1.2h-1.2zM243.8 101.9h1.2v1.2h-1.2zM227.9 119.1h1.2v1.2h-1.2zM223.6 121.1h1.2v1.2h-1.2zM233.8 118.3h1.2v1.2h-1.2zM230.8 119.9h1.2v1.2h-1.2zM231.2 112.4h1.2v1.2h-1.2zM232.8 114.2h1.2v1.2h-1.2zM227.9 124.2h1.2v1.2h-1.2zM232.4 119.3h1.2v1.2h-1.2zM239.6 110.3h1.2v1.2h-1.2zM240.8 112.4h1.2v1.2h-1.2zM228.6 114.1h1.2v1.2h-1.2zM233.1 111.4h1.2v1.2h-1.2zM223.9 121.8h1.2v1.2h-1.2zM239.9 115.9h1.2v1.2h-1.2zM228.1 118.0h1.2v1.2h-1.2zM230.9 117.6h1.2v1.2h-1.2zM228.0 119.8h1.2v1.2h-1.2zM228.7 113.1h1.2v1.2h-1.2zM238.1 109.9h1.2v1.2h-1.2zM220.2 130.2h1.2v1.2h-1.2zM246.5 102.9h1.2v1.2h-1.2zM237.6 115.9h1.2v1.2h-1.2zM223.3 118.9h1.2v1.2h-1.2zM227.9 121.7h1.2v1.2h-1.2zM236.7 117.4h1.2v1.2h-1.2zM232.1 108.7h1.2v1.2h-1.2zM237.9 116.3h1.2v1.2h-1.2zM240.7 114.3h1.2v1.2h-1.2zM226.6 121.5h1.2v1.2h-1.2zM235.1 106.6h1.2v1.2h-1.2zM228.1 112.2h1.2v1.2h-1.2zM236.2 112.9h1.2v1.2h-1.2zM240.7 103.4h1.2v1.2h-1.2zM234.9 116.8h1.2v1.2h-1.2zM231.6 113.3h1.2v1.2h-1.2zM232.8 110.6h1.2v1.2h-1.2zM221.3 124.6h1.2v1.2h-1.2zM224.1 112.0h1.2v1.2h-1.2zM235.9 115.4h1.2v1.2h-1.2zM232.4 117.5h1.2v1.2h-1.2zM229.2 114.8h1.2v1.2h-1.2zM229.9 115.4h1.2v1.2h-1.2zM238.7 109.0h1.2v1.2h-1.2zM242.6 111.1h1.2v1.2h-1.2zM236.0 114.9h1.2v1.2h-1.2zM231.4 117.5h1.2v1.2h-1.2zM231.6 120.2h1.2v1.2h-1.2zM239.0 107.4h1.2v1.2h-1.2zM229.8 119.5h1.2v1.2h-1.2zM240.1 108.8h1.2v1.2h-1.2zM235.2 110.0h1.2v1.2h-1.2zM239.9 114.7h1.2v1.2h-1.2zM219.0 129.9h1.2v1.2h-1.2zM231.9 121.4h1.2v1.2h-1.2zM237.2 113.3h1.2v1.2h-1.2zM227.6 118.3h1.2v1.2h-1.2zM234.3 114.4h1.2v1.2h-1.2zM237.5 112.8h1.2v1.2h-1.2zM230.4 114.8h1.2v1.2h-1.2zM240.0 108.5h1.2v1.2h-1.2zM225.9 127.9h1.2v1.2h-1.2zM236.5 112.2h1.2v1.2h-1.2zM232.4 115.9h1.2v1.2h-1.2zM239.8 115.0h1.2v1.2h-1.2zM231.0 114.0h1.2v1.2h-1.2zM246.7 107.8h1.2v1.2h-1.2zM235.3 114.4h1.2v1.2h-1.2zM236.8 112.2h1.2v1.2h-1.2zM233.2 108.1h1.2v1.2h-1.2zM235.1 117.4h1.2v1.2h-1.2zM236.3 115.3h1.2v1.2h-1.2zM233.2 121.0h1.2v1.2h-1.2zM240.0 111.6h1.2v1.2h-1.2zM230.3 115.4h1.2v1.2h-1.2zM227.6 122.2h1.2v1.2h-1.2zM231.8 112.0h1.2v1.2h-1.2zM239.1 113.4h1.2v1.2h-1.2zM236.1 118.8h1.2v1.2h-1.2zM243.2 114.7h1.2v1.2h-1.2zM240.7 113.5h1.2v1.2h-1.2zM237.6 109.5h1.2v1.2h-1.2zM229.1 122.2h1.2v1.2h-1.2zM229.0 115.9h1.2v1.2h-1.2zM240.9 104.7h1.2v1.2h-1.2zM236.2 115.6h1.2v1.2h-1.2zM229.1 120.1h1.2v1.2h-1.2zM230.8 116.6h1.2v1.2h-1.2zM241.1 105.4h1.2v1.2h-1.2zM232.7 111.8h1.2v1.2h-1.2zM236.3 115.2h1.2v1.2h-1.2zM233.0 112.7h1.2v1.2h-1.2zM242.1 100.2h1.2v1.2h-1.2zM229.4 121.1h1.2v1.2h-1.2zM222.4 120.4h1.2v1.2h-1.2zM238.4 108.3h1.2v1.2h-1.2zM234.7 116.2h1.2v1.2h-1.2zM238.1 114.4h1.2v1.2h-1.2zM224.4 113.6h1.2v1.2h-1.2zM236.1 106.8h1.2v1.2h-1.2zM238.2 113.1h1.2v1.2h-1.2zM239.4 104.4h1.2v1.2h-1.2zM229.3 119.4h1.2v1.2h-1.2zM232.2 122.6h1.2v1.2h-1.2zM229.2 112.5h1.2v1.2h-1.2zM232.4 118.0h1.2v1.2h-1.2zM237.9 113.3h1.2v1.2h-1.2zM253.9 90.3h1.2v1.2h-1.2zM226.5 126.8h1.2v1.2h-1.2zM237.8 114.1h1.2v1.2h-1.2zM222.3 120.6h1.2v1.2h-1.2zM229.3 104.9h1.2v1.2h-1.2zM235.1 111.6h1.2v1.2h-1.2zM232.0 112.7h1.2v1.2h-1.2zM229.8 113.0h1.2v1.2h-1.2zM224.4 128.0h1.2v1.2h-1.2zM231.0 113.1h1.2v1.2h-1.2zM228.0 122.2h1.2v1.2h-1.2zM233.4 118.7h1.2v1.2h-1.2zM224.9 116.2h1.2v1.2h-1.2zM246.7 97.3h1.2v1.2h-1.2zM222.0 121.8h1.2v1.2h-1.2zM227.5 118.7h1.2v1.2h-1.2zM224.9 116.1h1.2v1.2h-1.2zM228.7 117.8h1.2v1.2h-1.2zM241.6 109.1h1.2v1.2h-1.2zM245.6 115.9h1.2v1.2h-1.2zM233.3 95.8h1.2v1.2h-1.2zM229.4 115.0h1.2v1.2h-1.2zM241.6 114.4h1.2v1.2h-1.2zM233.0 110.1h1.2v1.2h-1.2zM239.3 104.0h1.2v1.2h-1.2zM235.6 117.1h1.2v1.2h-1.2zM243.2 114.1h1.2v1.2h-1.2zM230.4 114.9h1.2v1.2h-1.2zM228.9 114.5h1.2v1.2h-1.2zM229.7 118.9h1.2v1.2h-1.2zM224.2 112.9h1.2v1.2h-1.2zM233.1 124.9h1.2v1.2h-1.2zM247.8 113.5h1.2v1.2h-1.2zM239.9 100.9h1.2v1.2h-1.2zM231.8 123.1h1.2v1.2h-1.2zM228.6 107.6h1.2v1.2h-1.2zM224.8 124.8h1.2v1.2h-1.2zM223.6 115.0h1.2v1.2h-1.2zM232.3 110.6h1.2v1.2h-1.2zM235.1 100.4h1.2v1.2h-1.2zM235.5 99.6h1.2v1.2h-1.2zM240.7 108.5h1.2v1.2h-1.2zM227.5 116.5h1.2v1.2h-1.2zM225.0 117.6h1.2v1.2h-1.2zM238.7 119.8h1.2v1.2h-1.2zM240.0 119.0h1.2v1.2h-1.2zM242.2 110.7h1.2v1.2h-1.2zM237.2 110.5h1.2v1.2h-1.2zM234.3 117.1h1.2v1.2h-1.2zM238.7 107.6h1.2v1.2h-1.2zM231.2 126.0h1.2v1.2h-1.2zM228.9 113.7h1.2v1.2h-1.2zM239.7 113.5h1.2v1.2h-1.2zM232.3 122.3h1.2v1.2h-1.2zM233.7 110.5h1.2v1.2h-1.2zM236.3 107.7h1.2v1.2h-1.2zM240.6 98.8h1.2v1.2h-1.2zM224.1 120.6h1.2v1.2h-1.2zM233.2 109.8h1.2v1.2h-1.2zM224.9 107.4h1.2v1.2h-1.2zM223.0 124.6h1.2v1.2h-1.2zM238.8 117.6h1.2v1.2h-1.2zM236.1 101.7h1.2v1.2h-1.2zM243.4 120.1h1.2v1.2h-1.2zM250.4 99.7h1.2v1.2h-1.2zM223.4 119.9h1.2v1.2h-1.2zM233.9 112.5h1.2v1.2h-1.2zM230.8 113.6h1.2v1.2h-1.2zM226.8 130.9h1.2v1.2h-1.2zM239.9 115.4h1.2v1.2h-1.2zM231.2 128.8h1.2v1.2h-1.2zM241.4 117.5h1.2v1.2h-1.2zM231.5 110.3h1.2v1.2h-1.2zM254.5 102.6h1.2v1.2h-1.2zM270.9 92.7h1.2v1.2h-1.2zM240.2 101.0h1.2v1.2h-1.2zM250.1 93.7h1.2v1.2h-1.2zM243.8 104.7h1.2v1.2h-1.2zM250.4 114.1h1.2v1.2h-1.2zM241.8 98.8h1.2v1.2h-1.2zM239.9 98.4h1.2v1.2h-1.2zM262.9 58.8h1.2v1.2h-1.2zM256.7 98.6h1.2v1.2h-1.2zM281.7 69.0h1.2v1.2h-1.2zM298.7 83.1h1.2v1.2h-1.2zM257.2 84.8h1.2v1.2h-1.2zM245.3 100.3h1.2v1.2h-1.2zM249.0 100.1h1.2v1.2h-1.2zM256.8 100.7h1.2v1.2h-1.2zM262.8 87.8h1.2v1.2h-1.2zM249.6 90.6h1.2v1.2h-1.2zM242.5 82.4h1.2v1.2h-1.2zM251.8 88.9h1.2v1.2h-1.2zM281.1 60.1h1.2v1.2h-1.2zM239.1 97.4h1.2v1.2h-1.2zM242.5 106.0h1.2v1.2h-1.2zM248.4 111.6h1.2v1.2h-1.2zM273.5 57.1h1.2v1.2h-1.2zM262.1 92.5h1.2v1.2h-1.2zM279.4 60.9h1.2v1.2h-1.2zM244.8 108.9h1.2v1.2h-1.2zM252.5 81.1h1.2v1.2h-1.2zM245.1 102.4h1.2v1.2h-1.2zM248.1 104.2h1.2v1.2h-1.2zM241.8 100.4h1.2v1.2h-1.2zM237.3 93.1h1.2v1.2h-1.2zM253.5 89.6h1.2v1.2h-1.2zM240.7 102.8h1.2v1.2h-1.2zM239.8 92.0h1.2v1.2h-1.2zM249.1 105.6h1.2v1.2h-1.2zM243.5 94.0h1.2v1.2h-1.2zM247.2 100.4h1.2v1.2h-1.2zM248.4 99.0h1.2v1.2h-1.2zM251.4 88.9h1.2v1.2h-1.2zM236.2 98.8h1.2v1.2h-1.2zM251.6 98.9h1.2v1.2h-1.2zM243.9 101.8h1.2v1.2h-1.2zM235.7 94.1h1.2v1.2h-1.2zM241.9 98.1h1.2v1.2h-1.2zM249.6 108.1h1.2v1.2h-1.2zM247.8 107.5h1.2v1.2h-1.2zM263.9 92.1h1.2v1.2h-1.2zM234.9 88.3h1.2v1.2h-1.2zM247.2 95.9h1.2v1.2h-1.2zM258.0 96.2h1.2v1.2h-1.2zM238.2 98.5h1.2v1.2h-1.2zM256.6 88.1h1.2v1.2h-1.2zM245.8 110.1h1.2v1.2h-1.2zM255.5 99.6h1.2v1.2h-1.2zM244.0 105.4h1.2v1.2h-1.2zM246.1 94.3h1.2v1.2h-1.2zM252.6 99.4h1.2v1.2h-1.2zM246.0 98.6h1.2v1.2h-1.2zM244.3 87.1h1.2v1.2h-1.2zM250.4 103.6h1.2v1.2h-1.2zM278.4 55.2h1.2v1.2h-1.2zM240.9 98.0h1.2v1.2h-1.2zM247.7 91.5h1.2v1.2h-1.2zM236.4 100.2h1.2v1.2h-1.2zM252.6 102.6h1.2v1.2h-1.2zM250.4 102.3h1.2v1.2h-1.2zM258.8 101.9h1.2v1.2h-1.2zM245.7 85.4h1.2v1.2h-1.2zM247.3 98.7h1.2v1.2h-1.2zM248.5 101.3h1.2v1.2h-1.2zM270.5 81.7h1.2v1.2h-1.2zM236.7 98.6h1.2v1.2h-1.2zM262.2 73.6h1.2v1.2h-1.2zM256.5 100.9h1.2v1.2h-1.2zM246.6 98.7h1.2v1.2h-1.2zM242.1 99.8h1.2v1.2h-1.2zM248.9 104.0h1.2v1.2h-1.2zM264.3 111.2h1.2v1.2h-1.2zM219.9 89.0h1.2v1.2h-1.2zM205.8 146.1h1.2v1.2h-1.2zM309.3 90.5h1.2v1.2h-1.2zM238.3 134.7h1.2v1.2h-1.2z" fill="#55583f" fill-opacity="0.42"/>
<path d="M228.4 118.9h1.2v1.2h-1.2zM221.7 119.4h1.2v1.2h-1.2zM238.9 114.2h1.2v1.2h-1.2zM229.9 119.3h1.2v1.2h-1.2zM228.0 123.6h1.2v1.2h-1.2zM227.6 118.5h1.2v1.2h-1.2zM229.9 122.3h1.2v1.2h-1.2zM239.9 110.5h1.2v1.2h-1.2zM236.4 114.4h1.2v1.2h-1.2zM226.4 121.2h1.2v1.2h-1.2zM235.5 113.3h1.2v1.2h-1.2zM230.4 116.2h1.2v1.2h-1.2zM232.5 118.4h1.2v1.2h-1.2zM236.7 106.7h1.2v1.2h-1.2zM236.6 105.6h1.2v1.2h-1.2zM238.8 108.2h1.2v1.2h-1.2zM234.8 109.4h1.2v1.2h-1.2zM232.2 122.4h1.2v1.2h-1.2zM242.9 111.4h1.2v1.2h-1.2zM226.2 125.4h1.2v1.2h-1.2zM231.9 120.0h1.2v1.2h-1.2zM243.8 104.6h1.2v1.2h-1.2zM234.9 116.6h1.2v1.2h-1.2zM228.4 121.3h1.2v1.2h-1.2zM239.3 112.0h1.2v1.2h-1.2zM241.0 100.0h1.2v1.2h-1.2zM236.6 115.0h1.2v1.2h-1.2zM231.6 105.9h1.2v1.2h-1.2zM244.7 110.9h1.2v1.2h-1.2zM245.2 107.0h1.2v1.2h-1.2zM236.7 113.1h1.2v1.2h-1.2zM233.6 115.4h1.2v1.2h-1.2zM230.3 120.9h1.2v1.2h-1.2zM243.4 107.7h1.2v1.2h-1.2zM238.6 113.4h1.2v1.2h-1.2zM228.1 120.9h1.2v1.2h-1.2zM227.0 118.7h1.2v1.2h-1.2zM245.0 105.3h1.2v1.2h-1.2zM222.4 121.4h1.2v1.2h-1.2zM226.0 117.8h1.2v1.2h-1.2zM238.0 111.6h1.2v1.2h-1.2zM231.4 115.5h1.2v1.2h-1.2zM229.9 115.2h1.2v1.2h-1.2zM234.9 103.6h1.2v1.2h-1.2zM234.0 109.8h1.2v1.2h-1.2zM238.1 113.0h1.2v1.2h-1.2zM231.4 119.7h1.2v1.2h-1.2zM234.8 116.6h1.2v1.2h-1.2zM232.3 114.6h1.2v1.2h-1.2zM234.1 120.5h1.2v1.2h-1.2zM229.9 118.3h1.2v1.2h-1.2zM222.5 122.1h1.2v1.2h-1.2zM226.5 121.6h1.2v1.2h-1.2zM242.9 106.6h1.2v1.2h-1.2zM236.6 113.1h1.2v1.2h-1.2zM239.2 118.1h1.2v1.2h-1.2zM231.6 118.5h1.2v1.2h-1.2zM241.3 105.3h1.2v1.2h-1.2zM232.4 119.4h1.2v1.2h-1.2zM238.4 116.6h1.2v1.2h-1.2zM242.3 116.7h1.2v1.2h-1.2zM243.0 114.0h1.2v1.2h-1.2zM235.8 111.8h1.2v1.2h-1.2zM237.0 114.9h1.2v1.2h-1.2zM228.6 110.8h1.2v1.2h-1.2zM238.9 106.3h1.2v1.2h-1.2zM236.0 111.1h1.2v1.2h-1.2zM239.6 115.1h1.2v1.2h-1.2zM240.2 110.7h1.2v1.2h-1.2zM234.4 110.9h1.2v1.2h-1.2zM225.4 130.6h1.2v1.2h-1.2zM238.4 110.7h1.2v1.2h-1.2zM235.5 112.1h1.2v1.2h-1.2zM238.5 109.9h1.2v1.2h-1.2zM231.2 115.6h1.2v1.2h-1.2zM241.0 96.8h1.2v1.2h-1.2zM230.8 118.0h1.2v1.2h-1.2zM222.0 125.0h1.2v1.2h-1.2zM237.5 108.9h1.2v1.2h-1.2zM236.4 115.9h1.2v1.2h-1.2zM233.9 112.6h1.2v1.2h-1.2zM241.7 107.4h1.2v1.2h-1.2zM239.7 110.9h1.2v1.2h-1.2zM235.9 111.6h1.2v1.2h-1.2zM231.8 107.2h1.2v1.2h-1.2zM235.9 115.4h1.2v1.2h-1.2zM240.3 111.3h1.2v1.2h-1.2zM233.0 112.1h1.2v1.2h-1.2zM220.0 119.1h1.2v1.2h-1.2zM237.1 113.2h1.2v1.2h-1.2zM227.8 117.2h1.2v1.2h-1.2zM241.8 106.8h1.2v1.2h-1.2zM231.2 118.7h1.2v1.2h-1.2zM233.4 112.4h1.2v1.2h-1.2zM230.7 113.0h1.2v1.2h-1.2zM227.7 119.0h1.2v1.2h-1.2zM227.8 110.5h1.2v1.2h-1.2zM225.1 124.6h1.2v1.2h-1.2zM234.4 114.5h1.2v1.2h-1.2zM241.5 108.9h1.2v1.2h-1.2zM234.7 114.2h1.2v1.2h-1.2zM233.1 119.0h1.2v1.2h-1.2zM239.6 109.5h1.2v1.2h-1.2zM237.2 111.1h1.2v1.2h-1.2zM237.4 120.7h1.2v1.2h-1.2zM228.8 116.7h1.2v1.2h-1.2zM229.1 125.0h1.2v1.2h-1.2zM226.3 116.2h1.2v1.2h-1.2zM226.8 113.8h1.2v1.2h-1.2zM248.4 106.1h1.2v1.2h-1.2zM232.6 116.3h1.2v1.2h-1.2zM237.2 108.6h1.2v1.2h-1.2zM228.2 116.5h1.2v1.2h-1.2zM228.3 117.0h1.2v1.2h-1.2zM241.7 112.6h1.2v1.2h-1.2zM226.2 127.3h1.2v1.2h-1.2zM239.5 109.1h1.2v1.2h-1.2zM231.6 118.4h1.2v1.2h-1.2zM234.3 107.1h1.2v1.2h-1.2zM231.1 118.3h1.2v1.2h-1.2zM241.8 102.9h1.2v1.2h-1.2zM229.9 115.7h1.2v1.2h-1.2zM224.6 119.1h1.2v1.2h-1.2zM229.2 117.9h1.2v1.2h-1.2zM244.6 103.9h1.2v1.2h-1.2zM241.6 107.6h1.2v1.2h-1.2zM231.7 123.4h1.2v1.2h-1.2zM234.2 110.4h1.2v1.2h-1.2zM225.1 117.8h1.2v1.2h-1.2zM225.6 116.5h1.2v1.2h-1.2zM232.5 113.8h1.2v1.2h-1.2zM233.7 118.6h1.2v1.2h-1.2zM237.7 108.3h1.2v1.2h-1.2zM234.1 114.7h1.2v1.2h-1.2zM231.6 114.0h1.2v1.2h-1.2zM238.2 120.6h1.2v1.2h-1.2zM231.6 116.7h1.2v1.2h-1.2zM229.4 123.6h1.2v1.2h-1.2zM243.6 103.5h1.2v1.2h-1.2zM237.8 110.4h1.2v1.2h-1.2zM236.5 105.7h1.2v1.2h-1.2zM225.7 118.6h1.2v1.2h-1.2zM222.3 121.7h1.2v1.2h-1.2zM230.0 121.1h1.2v1.2h-1.2zM232.2 115.9h1.2v1.2h-1.2zM234.7 103.9h1.2v1.2h-1.2zM234.6 112.8h1.2v1.2h-1.2zM231.0 118.0h1.2v1.2h-1.2zM232.2 109.8h1.2v1.2h-1.2zM238.4 112.0h1.2v1.2h-1.2zM247.4 102.9h1.2v1.2h-1.2zM229.7 119.6h1.2v1.2h-1.2zM234.8 117.6h1.2v1.2h-1.2zM246.4 104.8h1.2v1.2h-1.2zM238.1 112.0h1.2v1.2h-1.2zM234.6 109.3h1.2v1.2h-1.2zM235.8 113.2h1.2v1.2h-1.2zM230.6 113.4h1.2v1.2h-1.2zM235.2 110.6h1.2v1.2h-1.2zM242.2 110.5h1.2v1.2h-1.2zM227.2 120.5h1.2v1.2h-1.2zM230.9 114.7h1.2v1.2h-1.2zM227.8 120.6h1.2v1.2h-1.2zM235.3 104.4h1.2v1.2h-1.2zM223.3 129.4h1.2v1.2h-1.2zM228.7 116.6h1.2v1.2h-1.2zM233.7 106.6h1.2v1.2h-1.2zM228.0 119.7h1.2v1.2h-1.2zM230.4 117.4h1.2v1.2h-1.2zM225.8 119.9h1.2v1.2h-1.2zM230.4 121.5h1.2v1.2h-1.2zM235.0 114.5h1.2v1.2h-1.2zM237.7 113.5h1.2v1.2h-1.2zM232.1 109.9h1.2v1.2h-1.2zM231.6 108.4h1.2v1.2h-1.2zM232.0 108.5h1.2v1.2h-1.2zM236.1 105.5h1.2v1.2h-1.2zM215.1 129.5h1.2v1.2h-1.2zM239.0 111.5h1.2v1.2h-1.2zM224.0 122.8h1.2v1.2h-1.2zM236.5 108.9h1.2v1.2h-1.2zM231.8 115.4h1.2v1.2h-1.2zM227.3 121.0h1.2v1.2h-1.2zM236.8 112.8h1.2v1.2h-1.2zM236.9 114.2h1.2v1.2h-1.2zM228.2 122.1h1.2v1.2h-1.2zM221.9 126.6h1.2v1.2h-1.2zM232.3 117.9h1.2v1.2h-1.2zM232.3 118.3h1.2v1.2h-1.2zM233.8 112.5h1.2v1.2h-1.2zM229.8 118.3h1.2v1.2h-1.2zM234.5 112.2h1.2v1.2h-1.2zM241.9 113.5h1.2v1.2h-1.2zM242.1 110.8h1.2v1.2h-1.2zM229.3 115.6h1.2v1.2h-1.2zM229.2 112.5h1.2v1.2h-1.2zM235.0 108.7h1.2v1.2h-1.2zM235.9 107.9h1.2v1.2h-1.2zM229.2 111.3h1.2v1.2h-1.2zM242.8 107.5h1.2v1.2h-1.2zM240.8 106.2h1.2v1.2h-1.2zM235.1 116.2h1.2v1.2h-1.2zM224.6 121.5h1.2v1.2h-1.2zM238.2 111.2h1.2v1.2h-1.2zM242.8 105.1h1.2v1.2h-1.2zM239.2 106.2h1.2v1.2h-1.2zM239.2 114.4h1.2v1.2h-1.2zM231.1 120.9h1.2v1.2h-1.2zM227.8 120.6h1.2v1.2h-1.2zM230.9 118.3h1.2v1.2h-1.2zM232.4 119.5h1.2v1.2h-1.2zM232.9 119.4h1.2v1.2h-1.2zM234.0 119.3h1.2v1.2h-1.2zM242.2 109.1h1.2v1.2h-1.2zM244.7 108.8h1.2v1.2h-1.2zM231.1 116.2h1.2v1.2h-1.2zM244.4 108.5h1.2v1.2h-1.2zM241.3 107.4h1.2v1.2h-1.2zM240.9 113.2h1.2v1.2h-1.2zM230.9 116.1h1.2v1.2h-1.2zM234.4 114.4h1.2v1.2h-1.2zM226.6 114.7h1.2v1.2h-1.2zM229.3 115.2h1.2v1.2h-1.2zM231.7 115.9h1.2v1.2h-1.2zM221.4 129.8h1.2v1.2h-1.2zM234.7 113.4h1.2v1.2h-1.2zM240.3 105.6h1.2v1.2h-1.2zM232.5 126.7h1.2v1.2h-1.2zM228.9 117.9h1.2v1.2h-1.2zM237.0 112.4h1.2v1.2h-1.2zM233.6 115.5h1.2v1.2h-1.2zM226.7 111.0h1.2v1.2h-1.2zM236.1 110.8h1.2v1.2h-1.2zM232.5 119.8h1.2v1.2h-1.2zM233.0 116.8h1.2v1.2h-1.2zM228.7 117.3h1.2v1.2h-1.2zM221.4 125.3h1.2v1.2h-1.2zM236.5 112.1h1.2v1.2h-1.2zM234.4 114.7h1.2v1.2h-1.2zM242.7 109.7h1.2v1.2h-1.2zM235.5 115.8h1.2v1.2h-1.2zM243.1 111.9h1.2v1.2h-1.2zM227.7 117.9h1.2v1.2h-1.2zM233.3 115.7h1.2v1.2h-1.2zM231.5 124.5h1.2v1.2h-1.2zM231.6 117.4h1.2v1.2h-1.2zM241.6 111.9h1.2v1.2h-1.2zM234.0 116.7h1.2v1.2h-1.2zM226.8 120.0h1.2v1.2h-1.2zM231.6 117.8h1.2v1.2h-1.2zM235.9 106.3h1.2v1.2h-1.2zM235.5 108.8h1.2v1.2h-1.2zM229.7 115.2h1.2v1.2h-1.2zM234.9 115.5h1.2v1.2h-1.2zM235.2 105.3h1.2v1.2h-1.2zM233.2 110.3h1.2v1.2h-1.2zM229.5 115.1h1.2v1.2h-1.2zM230.8 114.1h1.2v1.2h-1.2zM232.7 116.4h1.2v1.2h-1.2zM236.0 111.0h1.2v1.2h-1.2zM239.2 105.0h1.2v1.2h-1.2zM224.2 123.5h1.2v1.2h-1.2zM244.5 107.2h1.2v1.2h-1.2zM229.1 121.7h1.2v1.2h-1.2zM233.3 117.8h1.2v1.2h-1.2zM234.4 115.1h1.2v1.2h-1.2zM238.6 110.7h1.2v1.2h-1.2zM224.0 126.9h1.2v1.2h-1.2zM238.6 107.1h1.2v1.2h-1.2zM235.9 113.4h1.2v1.2h-1.2zM245.0 105.2h1.2v1.2h-1.2zM232.7 104.5h1.2v1.2h-1.2zM231.3 115.1h1.2v1.2h-1.2zM235.2 112.3h1.2v1.2h-1.2zM234.3 113.4h1.2v1.2h-1.2zM240.9 113.8h1.2v1.2h-1.2zM241.8 109.8h1.2v1.2h-1.2zM236.2 108.6h1.2v1.2h-1.2zM228.6 119.4h1.2v1.2h-1.2zM225.2 123.6h1.2v1.2h-1.2zM234.6 112.6h1.2v1.2h-1.2zM225.8 118.2h1.2v1.2h-1.2zM236.8 118.0h1.2v1.2h-1.2zM228.0 120.8h1.2v1.2h-1.2zM232.6 117.6h1.2v1.2h-1.2zM227.8 118.1h1.2v1.2h-1.2zM237.0 119.0h1.2v1.2h-1.2zM232.6 109.6h1.2v1.2h-1.2zM240.1 108.3h1.2v1.2h-1.2zM229.2 116.7h1.2v1.2h-1.2zM236.6 114.6h1.2v1.2h-1.2zM236.9 111.1h1.2v1.2h-1.2zM240.7 110.5h1.2v1.2h-1.2zM231.0 121.8h1.2v1.2h-1.2zM228.4 115.0h1.2v1.2h-1.2zM240.2 112.3h1.2v1.2h-1.2zM241.2 106.2h1.2v1.2h-1.2zM232.8 111.7h1.2v1.2h-1.2zM246.8 99.2h1.2v1.2h-1.2zM237.3 110.1h1.2v1.2h-1.2zM225.6 120.4h1.2v1.2h-1.2zM234.4 109.1h1.2v1.2h-1.2zM238.2 112.3h1.2v1.2h-1.2zM233.3 111.3h1.2v1.2h-1.2zM224.0 124.1h1.2v1.2h-1.2zM231.0 112.4h1.2v1.2h-1.2zM233.7 116.0h1.2v1.2h-1.2zM231.9 114.8h1.2v1.2h-1.2zM244.8 105.3h1.2v1.2h-1.2zM233.5 110.0h1.2v1.2h-1.2zM226.8 121.0h1.2v1.2h-1.2zM227.3 122.7h1.2v1.2h-1.2zM239.2 115.1h1.2v1.2h-1.2zM237.4 111.9h1.2v1.2h-1.2zM237.1 111.8h1.2v1.2h-1.2zM240.2 104.2h1.2v1.2h-1.2zM225.6 113.0h1.2v1.2h-1.2zM232.9 115.7h1.2v1.2h-1.2zM226.8 122.0h1.2v1.2h-1.2zM226.0 117.4h1.2v1.2h-1.2zM229.1 114.7h1.2v1.2h-1.2zM225.5 117.6h1.2v1.2h-1.2zM239.5 106.2h1.2v1.2h-1.2zM239.0 113.4h1.2v1.2h-1.2zM224.2 119.9h1.2v1.2h-1.2zM231.2 117.6h1.2v1.2h-1.2zM234.0 112.7h1.2v1.2h-1.2zM228.4 114.7h1.2v1.2h-1.2zM232.5 114.7h1.2v1.2h-1.2zM232.3 118.9h1.2v1.2h-1.2zM235.3 117.1h1.2v1.2h-1.2zM244.2 108.7h1.2v1.2h-1.2zM227.0 126.2h1.2v1.2h-1.2zM238.0 114.2h1.2v1.2h-1.2zM240.8 106.1h1.2v1.2h-1.2zM240.0 111.4h1.2v1.2h-1.2zM232.0 114.4h1.2v1.2h-1.2zM237.1 111.3h1.2v1.2h-1.2zM227.5 116.3h1.2v1.2h-1.2zM235.1 117.0h1.2v1.2h-1.2zM231.2 119.6h1.2v1.2h-1.2zM226.8 123.0h1.2v1.2h-1.2zM239.1 107.1h1.2v1.2h-1.2zM234.7 116.0h1.2v1.2h-1.2zM238.5 115.5h1.2v1.2h-1.2zM230.3 112.8h1.2v1.2h-1.2zM235.5 111.2h1.2v1.2h-1.2zM221.1 122.2h1.2v1.2h-1.2zM229.8 116.4h1.2v1.2h-1.2zM239.1 109.7h1.2v1.2h-1.2zM247.6 107.7h1.2v1.2h-1.2zM227.3 125.6h1.2v1.2h-1.2zM233.9 117.6h1.2v1.2h-1.2zM227.5 116.1h1.2v1.2h-1.2zM235.6 116.5h1.2v1.2h-1.2zM227.1 115.3h1.2v1.2h-1.2zM235.8 110.7h1.2v1.2h-1.2zM230.3 120.3h1.2v1.2h-1.2zM230.9 115.2h1.2v1.2h-1.2zM233.6 117.6h1.2v1.2h-1.2zM233.8 114.6h1.2v1.2h-1.2zM236.3 111.5h1.2v1.2h-1.2zM225.8 117.9h1.2v1.2h-1.2zM229.7 114.7h1.2v1.2h-1.2zM234.4 115.6h1.2v1.2h-1.2zM225.1 121.7h1.2v1.2h-1.2zM229.9 115.5h1.2v1.2h-1.2zM241.7 108.4h1.2v1.2h-1.2zM228.5 119.2h1.2v1.2h-1.2zM233.1 119.3h1.2v1.2h-1.2zM233.5 115.8h1.2v1.2h-1.2zM239.3 111.0h1.2v1.2h-1.2zM233.9 112.1h1.2v1.2h-1.2zM240.3 102.3h1.2v1.2h-1.2zM244.0 108.9h1.2v1.2h-1.2zM232.7 117.8h1.2v1.2h-1.2zM236.4 105.6h1.2v1.2h-1.2zM238.4 105.3h1.2v1.2h-1.2zM234.0 112.4h1.2v1.2h-1.2zM227.5 115.4h1.2v1.2h-1.2zM234.2 115.9h1.2v1.2h-1.2zM233.1 105.5h1.2v1.2h-1.2zM223.7 120.5h1.2v1.2h-1.2zM245.6 109.0h1.2v1.2h-1.2zM238.2 116.7h1.2v1.2h-1.2zM232.5 121.6h1.2v1.2h-1.2zM238.1 107.3h1.2v1.2h-1.2zM222.0 125.6h1.2v1.2h-1.2zM231.4 117.2h1.2v1.2h-1.2zM238.1 115.3h1.2v1.2h-1.2zM235.5 113.5h1.2v1.2h-1.2zM238.2 113.6h1.2v1.2h-1.2zM223.5 128.8h1.2v1.2h-1.2zM230.7 119.7h1.2v1.2h-1.2zM231.5 121.3h1.2v1.2h-1.2zM236.5 105.9h1.2v1.2h-1.2zM238.6 110.2h1.2v1.2h-1.2zM230.1 121.7h1.2v1.2h-1.2zM240.7 112.9h1.2v1.2h-1.2zM242.6 100.3h1.2v1.2h-1.2zM236.8 102.1h1.2v1.2h-1.2zM242.1 115.8h1.2v1.2h-1.2zM229.9 113.6h1.2v1.2h-1.2zM225.7 118.6h1.2v1.2h-1.2zM230.7 125.4h1.2v1.2h-1.2zM226.5 132.4h1.2v1.2h-1.2zM243.6 103.9h1.2v1.2h-1.2zM241.2 101.5h1.2v1.2h-1.2zM234.6 117.3h1.2v1.2h-1.2zM228.0 115.0h1.2v1.2h-1.2zM227.5 131.8h1.2v1.2h-1.2zM226.7 115.7h1.2v1.2h-1.2zM225.2 110.6h1.2v1.2h-1.2zM238.6 105.9h1.2v1.2h-1.2zM234.6 107.0h1.2v1.2h-1.2zM243.9 114.3h1.2v1.2h-1.2zM229.1 116.6h1.2v1.2h-1.2zM238.4 110.8h1.2v1.2h-1.2zM235.6 103.8h1.2v1.2h-1.2zM230.3 117.7h1.2v1.2h-1.2zM238.6 108.3h1.2v1.2h-1.2zM251.7 107.2h1.2v1.2h-1.2zM246.3 110.1h1.2v1.2h-1.2zM227.3 111.2h1.2v1.2h-1.2zM224.5 119.2h1.2v1.2h-1.2zM242.4 110.7h1.2v1.2h-1.2zM235.7 115.2h1.2v1.2h-1.2zM234.7 119.9h1.2v1.2h-1.2zM242.7 108.8h1.2v1.2h-1.2zM233.5 114.3h1.2v1.2h-1.2zM229.7 125.5h1.2v1.2h-1.2zM226.0 114.2h1.2v1.2h-1.2zM214.5 123.6h1.2v1.2h-1.2zM231.8 125.5h1.2v1.2h-1.2zM230.7 113.7h1.2v1.2h-1.2zM235.6 104.9h1.2v1.2h-1.2zM228.3 117.0h1.2v1.2h-1.2zM230.2 108.7h1.2v1.2h-1.2zM239.1 117.4h1.2v1.2h-1.2zM223.0 116.3h1.2v1.2h-1.2zM233.4 118.0h1.2v1.2h-1.2zM229.2 122.0h1.2v1.2h-1.2zM231.0 119.4h1.2v1.2h-1.2zM233.0 116.0h1.2v1.2h-1.2zM244.8 118.0h1.2v1.2h-1.2zM238.6 113.4h1.2v1.2h-1.2zM232.8 116.9h1.2v1.2h-1.2zM228.2 105.3h1.2v1.2h-1.2zM233.6 115.1h1.2v1.2h-1.2zM226.3 121.3h1.2v1.2h-1.2zM238.7 107.4h1.2v1.2h-1.2zM231.8 119.1h1.2v1.2h-1.2zM238.6 110.6h1.2v1.2h-1.2zM229.7 115.2h1.2v1.2h-1.2zM225.7 113.7h1.2v1.2h-1.2zM244.7 100.7h1.2v1.2h-1.2zM233.1 106.8h1.2v1.2h-1.2zM240.1 109.3h1.2v1.2h-1.2zM240.5 107.1h1.2v1.2h-1.2zM234.1 110.8h1.2v1.2h-1.2zM227.6 113.2h1.2v1.2h-1.2zM232.9 119.5h1.2v1.2h-1.2zM242.7 117.3h1.2v1.2h-1.2zM245.9 102.4h1.2v1.2h-1.2zM222.2 113.1h1.2v1.2h-1.2zM232.2 118.9h1.2v1.2h-1.2zM234.9 115.4h1.2v1.2h-1.2zM231.9 122.7h1.2v1.2h-1.2zM234.9 116.6h1.2v1.2h-1.2zM233.8 115.3h1.2v1.2h-1.2zM231.5 120.9h1.2v1.2h-1.2zM236.3 106.9h1.2v1.2h-1.2zM234.3 113.8h1.2v1.2h-1.2zM223.9 114.8h1.2v1.2h-1.2zM221.3 122.8h1.2v1.2h-1.2zM252.3 104.2h1.2v1.2h-1.2zM247.8 100.6h1.2v1.2h-1.2zM240.1 87.3h1.2v1.2h-1.2zM267.9 102.9h1.2v1.2h-1.2zM246.4 105.2h1.2v1.2h-1.2zM268.8 101.1h1.2v1.2h-1.2zM252.0 100.3h1.2v1.2h-1.2zM238.0 99.9h1.2v1.2h-1.2zM247.7 105.4h1.2v1.2h-1.2zM237.5 97.1h1.2v1.2h-1.2zM243.6 96.5h1.2v1.2h-1.2zM266.1 94.8h1.2v1.2h-1.2zM247.7 97.0h1.2v1.2h-1.2zM246.8 109.1h1.2v1.2h-1.2zM256.7 110.0h1.2v1.2h-1.2zM250.2 98.2h1.2v1.2h-1.2zM246.6 82.9h1.2v1.2h-1.2zM260.9 103.7h1.2v1.2h-1.2zM263.2 101.9h1.2v1.2h-1.2zM270.9 82.1h1.2v1.2h-1.2zM248.3 108.5h1.2v1.2h-1.2zM241.5 97.6h1.2v1.2h-1.2zM252.1 103.7h1.2v1.2h-1.2zM247.0 93.0h1.2v1.2h-1.2zM246.8 110.5h1.2v1.2h-1.2zM250.0 91.8h1.2v1.2h-1.2zM246.2 87.5h1.2v1.2h-1.2zM255.4 95.2h1.2v1.2h-1.2zM278.3 70.2h1.2v1.2h-1.2zM252.5 101.0h1.2v1.2h-1.2zM253.8 89.6h1.2v1.2h-1.2zM247.0 111.8h1.2v1.2h-1.2zM251.4 88.5h1.2v1.2h-1.2zM261.7 99.7h1.2v1.2h-1.2zM248.8 103.4h1.2v1.2h-1.2zM253.1 103.6h1.2v1.2h-1.2zM245.5 102.3h1.2v1.2h-1.2zM254.3 99.0h1.2v1.2h-1.2zM268.2 89.0h1.2v1.2h-1.2zM258.2 107.9h1.2v1.2h-1.2zM266.8 86.3h1.2v1.2h-1.2zM288.9 62.0h1.2v1.2h-1.2zM238.6 82.4h1.2v1.2h-1.2zM241.3 97.0h1.2v1.2h-1.2zM253.3 81.7h1.2v1.2h-1.2zM236.6 99.8h1.2v1.2h-1.2zM247.5 107.4h1.2v1.2h-1.2zM281.0 58.3h1.2v1.2h-1.2zM255.7 90.0h1.2v1.2h-1.2zM255.7 94.3h1.2v1.2h-1.2zM242.5 106.5h1.2v1.2h-1.2zM238.6 97.9h1.2v1.2h-1.2zM264.3 97.5h1.2v1.2h-1.2zM252.2 88.4h1.2v1.2h-1.2zM263.0 84.4h1.2v1.2h-1.2zM246.8 97.4h1.2v1.2h-1.2zM265.5 78.2h1.2v1.2h-1.2zM257.5 96.0h1.2v1.2h-1.2zM244.5 104.8h1.2v1.2h-1.2zM269.2 58.0h1.2v1.2h-1.2zM244.9 107.2h1.2v1.2h-1.2zM250.8 76.6h1.2v1.2h-1.2zM279.8 74.1h1.2v1.2h-1.2zM245.0 109.1h1.2v1.2h-1.2zM234.4 95.8h1.2v1.2h-1.2zM249.8 86.0h1.2v1.2h-1.2zM244.3 84.1h1.2v1.2h-1.2zM246.4 110.4h1.2v1.2h-1.2zM262.2 91.1h1.2v1.2h-1.2zM252.6 81.1h1.2v1.2h-1.2zM242.7 94.4h1.2v1.2h-1.2zM245.0 95.5h1.2v1.2h-1.2zM263.7 85.0h1.2v1.2h-1.2zM260.5 103.7h1.2v1.2h-1.2zM271.8 71.8h1.2v1.2h-1.2zM238.6 94.0h1.2v1.2h-1.2zM250.4 91.7h1.2v1.2h-1.2zM250.9 94.5h1.2v1.2h-1.2zM248.0 100.8h1.2v1.2h-1.2zM252.3 89.6h1.2v1.2h-1.2zM278.5 107.2h1.2v1.2h-1.2zM236.3 39.8h1.2v1.2h-1.2zM285.0 77.4h1.2v1.2h-1.2zM291.1 61.1h1.2v1.2h-1.2z" fill="#55583f" fill-opacity="0.42"/>
<path d="M240.6 109.3h1.2v1.2h-1.2zM228.1 118.2h1.2v1.2h-1.2zM228.8 116.4h1.2v1.2h-1.2zM232.6 109.4h1.2v1.2h-1.2zM239.1 113.0h1.2v1.2h-1.2zM236.6 103.3h1.2v1.2h-1.2zM240.0 108.9h1.2v1.2h-1.2zM222.6 123.0h1.2v1.2h-1.2zM236.3 116.6h1.2v1.2h-1.2zM231.9 115.1h1.2v1.2h-1.2zM235.3 115.3h1.2v1.2h-1.2zM235.0 117.0h1.2v1.2h-1.2zM233.8 112.3h1.2v1.2h-1.2zM234.8 117.3h1.2v1.2h-1.2zM234.1 107.9h1.2v1.2h-1.2zM247.0 96.5h1.2v1.2h-1.2zM225.4 116.8h1.2v1.2h-1.2zM238.6 108.8h1.2v1.2h-1.2zM241.4 106.1h1.2v1.2h-1.2zM233.8 111.9h1.2v1.2h-1.2zM222.2 121.6h1.2v1.2h-1.2zM238.4 113.9h1.2v1.2h-1.2zM231.8 111.6h1.2v1.2h-1.2zM222.8 126.8h1.2v1.2h-1.2zM237.8 111.8h1.2v1.2h-1.2zM240.9 117.2h1.2v1.2h-1.2zM232.6 114.8h1.2v1.2h-1.2zM237.8 112.3h1.2v1.2h-1.2zM225.2 120.2h1.2v1.2h-1.2zM245.5 106.0h1.2v1.2h-1.2zM237.4 111.7h1.2v1.2h-1.2zM230.0 113.0h1.2v1.2h-1.2zM222.7 114.7h1.2v1.2h-1.2zM234.3 116.3h1.2v1.2h-1.2zM237.4 121.2h1.2v1.2h-1.2zM237.6 115.2h1.2v1.2h-1.2zM230.2 112.0h1.2v1.2h-1.2zM237.8 106.8h1.2v1.2h-1.2zM227.4 115.1h1.2v1.2h-1.2zM232.8 115.4h1.2v1.2h-1.2zM231.4 114.0h1.2v1.2h-1.2zM237.2 113.6h1.2v1.2h-1.2zM227.7 120.0h1.2v1.2h-1.2zM230.2 119.0h1.2v1.2h-1.2zM238.0 106.0h1.2v1.2h-1.2zM233.2 122.2h1.2v1.2h-1.2zM241.0 107.2h1.2v1.2h-1.2zM230.1 117.9h1.2v1.2h-1.2zM230.4 113.3h1.2v1.2h-1.2zM237.5 110.3h1.2v1.2h-1.2zM245.8 94.8h1.2v1.2h-1.2zM231.1 112.9h1.2v1.2h-1.2zM234.8 111.2h1.2v1.2h-1.2zM237.1 108.3h1.2v1.2h-1.2zM225.7 121.6h1.2v1.2h-1.2zM229.4 116.1h1.2v1.2h-1.2zM232.5 115.4h1.2v1.2h-1.2zM233.3 115.8h1.2v1.2h-1.2zM230.7 115.0h1.2v1.2h-1.2zM234.8 123.1h1.2v1.2h-1.2zM234.9 114.3h1.2v1.2h-1.2zM232.7 114.5h1.2v1.2h-1.2zM236.8 110.8h1.2v1.2h-1.2zM234.1 113.5h1.2v1.2h-1.2zM232.6 118.4h1.2v1.2h-1.2zM234.3 113.6h1.2v1.2h-1.2zM233.1 108.7h1.2v1.2h-1.2zM234.0 115.7h1.2v1.2h-1.2zM229.8 114.1h1.2v1.2h-1.2zM228.2 118.3h1.2v1.2h-1.2zM229.7 118.3h1.2v1.2h-1.2zM236.9 113.1h1.2v1.2h-1.2zM226.2 118.8h1.2v1.2h-1.2zM230.7 115.1h1.2v1.2h-1.2zM240.6 113.0h1.2v1.2h-1.2zM232.2 118.1h1.2v1.2h-1.2zM240.8 107.8h1.2v1.2h-1.2zM240.0 111.2h1.2v1.2h-1.2zM238.3 106.7h1.2v1.2h-1.2zM228.4 119.4h1.2v1.2h-1.2zM226.9 118.3h1.2v1.2h-1.2zM229.9 118.5h1.2v1.2h-1.2zM231.8 116.3h1.2v1.2h-1.2zM240.0 97.5h1.2v1.2h-1.2zM239.0 110.8h1.2v1.2h-1.2zM229.0 119.0h1.2v1.2h-1.2zM228.8 116.4h1.2v1.2h-1.2zM240.7 107.2h1.2v1.2h-1.2zM225.7 119.4h1.2v1.2h-1.2zM232.3 115.2h1.2v1.2h-1.2zM245.9 109.5h1.2v1.2h-1.2zM228.4 118.3h1.2v1.2h-1.2zM244.0 106.8h1.2v1.2h-1.2zM233.4 118.1h1.2v1.2h-1.2zM234.6 115.5h1.2v1.2h-1.2zM232.5 110.9h1.2v1.2h-1.2zM231.3 113.3h1.2v1.2h-1.2zM226.4 114.2h1.2v1.2h-1.2zM246.7 107.4h1.2v1.2h-1.2zM230.4 123.5h1.2v1.2h-1.2zM236.3 105.8h1.2v1.2h-1.2zM237.9 110.7h1.2v1.2h-1.2zM227.1 123.8h1.2v1.2h-1.2zM228.8 108.1h1.2v1.2h-1.2zM233.9 117.1h1.2v1.2h-1.2zM230.6 120.0h1.2v1.2h-1.2zM236.1 116.6h1.2v1.2h-1.2zM238.2 113.9h1.2v1.2h-1.2zM236.1 114.1h1.2v1.2h-1.2zM239.0 111.6h1.2v1.2h-1.2zM228.7 123.8h1.2v1.2h-1.2zM224.7 120.5h1.2v1.2h-1.2zM233.3 120.2h1.2v1.2h-1.2zM224.1 115.7h1.2v1.2h-1.2zM238.9 107.5h1.2v1.2h-1.2zM238.4 115.8h1.2v1.2h-1.2zM228.3 122.9h1.2v1.2h-1.2zM242.8 110.6h1.2v1.2h-1.2zM229.7 119.2h1.2v1.2h-1.2zM242.6 105.7h1.2v1.2h-1.2zM244.9 106.0h1.2v1.2h-1.2zM236.5 113.1h1.2v1.2h-1.2zM224.5 116.1h1.2v1.2h-1.2zM234.6 115.8h1.2v1.2h-1.2zM227.8 121.4h1.2v1.2h-1.2zM224.4 115.1h1.2v1.2h-1.2zM231.4 120.3h1.2v1.2h-1.2zM229.4 118.7h1.2v1.2h-1.2zM243.1 106.7h1.2v1.2h-1.2zM238.5 106.7h1.2v1.2h-1.2zM234.4 114.8h1.2v1.2h-1.2zM233.1 119.1h1.2v1.2h-1.2zM239.2 109.4h1.2v1.2h-1.2zM242.2 106.2h1.2v1.2h-1.2zM243.9 106.5h1.2v1.2h-1.2zM232.8 114.8h1.2v1.2h-1.2zM231.0 121.1h1.2v1.2h-1.2zM241.7 104.1h1.2v1.2h-1.2zM228.9 117.2h1.2v1.2h-1.2zM229.0 121.8h1.2v1.2h-1.2zM224.9 115.0h1.2v1.2h-1.2zM230.4 118.4h1.2v1.2h-1.2zM236.9 108.0h1.2v1.2h-1.2zM234.7 114.4h1.2v1.2h-1.2zM252.0 98.8h1.2v1.2h-1.2zM233.7 115.6h1.2v1.2h-1.2zM228.2 117.7h1.2v1.2h-1.2zM249.6 95.9h1.2v1.2h-1.2zM220.2 118.5h1.2v1.2h-1.2zM234.1 116.2h1.2v1.2h-1.2zM240.4 117.2h1.2v1.2h-1.2zM234.1 109.9h1.2v1.2h-1.2zM237.2 113.7h1.2v1.2h-1.2zM230.4 115.4h1.2v1.2h-1.2zM234.4 113.0h1.2v1.2h-1.2zM237.7 114.6h1.2v1.2h-1.2zM227.4 117.8h1.2v1.2h-1.2zM232.2 114.6h1.2v1.2h-1.2zM241.1 114.2h1.2v1.2h-1.2zM234.2 106.5h1.2v1.2h-1.2zM232.2 115.8h1.2v1.2h-1.2zM241.4 107.4h1.2v1.2h-1.2zM233.8 116.5h1.2v1.2h-1.2zM230.8 120.1h1.2v1.2h-1.2zM233.3 106.4h1.2v1.2h-1.2zM231.3 116.6h1.2v1.2h-1.2zM234.0 113.5h1.2v1.2h-1.2zM237.3 109.9h1.2v1.2h-1.2zM236.2 113.5h1.2v1.2h-1.2zM239.1 115.3h1.2v1.2h-1.2zM238.8 109.7h1.2v1.2h-1.2zM236.0 109.0h1.2v1.2h-1.2zM231.4 121.7h1.2v1.2h-1.2zM235.3 111.8h1.2v1.2h-1.2zM228.4 117.3h1.2v1.2h-1.2zM228.1 120.1h1.2v1.2h-1.2zM236.7 110.8h1.2v1.2h-1.2zM227.3 120.4h1.2v1.2h-1.2zM229.8 121.4h1.2v1.2h-1.2zM237.2 114.1h1.2v1.2h-1.2zM237.3 113.7h1.2v1.2h-1.2zM228.1 123.9h1.2v1.2h-1.2zM235.5 118.6h1.2v1.2h-1.2zM224.0 123.1h1.2v1.2h-1.2zM246.1 107.3h1.2v1.2h-1.2zM233.8 115.6h1.2v1.2h-1.2zM235.5 116.8h1.2v1.2h-1.2zM237.7 109.9h1.2v1.2h-1.2zM236.5 114.8h1.2v1.2h-1.2zM226.2 124.7h1.2v1.2h-1.2zM231.1 117.7h1.2v1.2h-1.2zM227.1 120.6h1.2v1.2h-1.2zM232.9 120.7h1.2v1.2h-1.2zM234.3 118.0h1.2v1.2h-1.2zM228.9 122.4h1.2v1.2h-1.2zM235.0 113.5h1.2v1.2h-1.2zM230.9 114.2h1.2v1.2h-1.2zM237.9 111.2h1.2v1.2h-1.2zM233.7 116.3h1.2v1.2h-1.2zM229.2 121.1h1.2v1.2h-1.2zM229.4 118.0h1.2v1.2h-1.2zM227.9 119.9h1.2v1.2h-1.2zM240.1 113.4h1.2v1.2h-1.2zM239.2 115.0h1.2v1.2h-1.2zM242.9 108.6h1.2v1.2h-1.2zM222.1 119.2h1.2v1.2h-1.2zM236.9 103.5h1.2v1.2h-1.2zM230.0 123.9h1.2v1.2h-1.2zM237.4 113.7h1.2v1.2h-1.2zM233.0 114.9h1.2v1.2h-1.2zM225.5 116.1h1.2v1.2h-1.2zM245.0 101.6h1.2v1.2h-1.2zM238.9 107.9h1.2v1.2h-1.2zM230.9 121.2h1.2v1.2h-1.2zM234.1 116.0h1.2v1.2h-1.2zM232.1 117.0h1.2v1.2h-1.2zM231.7 118.0h1.2v1.2h-1.2zM236.0 115.5h1.2v1.2h-1.2zM231.8 122.3h1.2v1.2h-1.2zM224.0 122.0h1.2v1.2h-1.2zM243.7 109.3h1.2v1.2h-1.2zM234.0 114.0h1.2v1.2h-1.2zM230.7 117.9h1.2v1.2h-1.2zM237.6 114.0h1.2v1.2h-1.2zM236.7 112.2h1.2v1.2h-1.2zM224.4 121.2h1.2v1.2h-1.2zM233.8 120.9h1.2v1.2h-1.2zM229.0 119.7h1.2v1.2h-1.2zM234.9 114.6h1.2v1.2h-1.2zM218.1 124.2h1.2v1.2h-1.2zM237.0 114.0h1.2v1.2h-1.2zM231.2 116.0h1.2v1.2h-1.2zM232.6 121.6h1.2v1.2h-1.2zM229.3 117.0h1.2v1.2h-1.2zM236.0 114.1h1.2v1.2h-1.2zM231.4 113.6h1.2v1.2h-1.2zM233.9 114.7h1.2v1.2h-1.2zM240.5 109.5h1.2v1.2h-1.2zM232.5 112.7h1.2v1.2h-1.2zM242.1 108.4h1.2v1.2h-1.2zM235.0 117.6h1.2v1.2h-1.2zM235.2 110.7h1.2v1.2h-1.2zM222.6 121.5h1.2v1.2h-1.2zM248.9 106.4h1.2v1.2h-1.2zM227.0 112.9h1.2v1.2h-1.2zM251.8 98.0h1.2v1.2h-1.2zM230.9 117.3h1.2v1.2h-1.2zM233.8 115.9h1.2v1.2h-1.2zM222.9 114.5h1.2v1.2h-1.2zM233.8 114.4h1.2v1.2h-1.2zM234.4 113.1h1.2v1.2h-1.2zM216.8 124.1h1.2v1.2h-1.2zM227.3 117.2h1.2v1.2h-1.2zM238.6 107.4h1.2v1.2h-1.2zM233.9 113.4h1.2v1.2h-1.2zM231.5 117.2h1.2v1.2h-1.2zM229.6 118.2h1.2v1.2h-1.2zM233.0 117.9h1.2v1.2h-1.2zM229.7 119.9h1.2v1.2h-1.2zM241.7 105.3h1.2v1.2h-1.2zM241.4 107.7h1.2v1.2h-1.2zM226.5 115.7h1.2v1.2h-1.2zM235.8 113.5h1.2v1.2h-1.2zM244.0 104.1h1.2v1.2h-1.2zM235.9 108.3h1.2v1.2h-1.2zM228.3 119.0h1.2v1.2h-1.2zM228.1 119.3h1.2v1.2h-1.2zM225.6 125.5h1.2v1.2h-1.2zM233.1 110.6h1.2v1.2h-1.2zM231.4 107.0h1.2v1.2h-1.2zM233.7 117.4h1.2v1.2h-1.2zM232.6 116.3h1.2v1.2h-1.2zM233.7 112.7h1.2v1.2h-1.2zM224.3 124.7h1.2v1.2h-1.2zM220.1 121.9h1.2v1.2h-1.2zM233.4 116.3h1.2v1.2h-1.2zM240.4 111.8h1.2v1.2h-1.2zM235.5 114.2h1.2v1.2h-1.2zM237.1 115.0h1.2v1.2h-1.2zM225.4 120.1h1.2v1.2h-1.2zM229.5 117.3h1.2v1.2h-1.2zM233.6 111.2h1.2v1.2h-1.2zM231.0 115.1h1.2v1.2h-1.2zM231.1 108.3h1.2v1.2h-1.2zM241.1 105.8h1.2v1.2h-1.2zM234.7 107.1h1.2v1.2h-1.2zM235.0 115.9h1.2v1.2h-1.2zM242.1 103.4h1.2v1.2h-1.2zM236.1 112.3h1.2v1.2h-1.2zM238.0 111.9h1.2v1.2h-1.2zM238.1 109.1h1.2v1.2h-1.2zM233.8 112.2h1.2v1.2h-1.2zM235.9 108.6h1.2v1.2h-1.2zM228.7 116.6h1.2v1.2h-1.2zM226.9 123.5h1.2v1.2h-1.2zM231.6 116.0h1.2v1.2h-1.2zM233.3 109.1h1.2v1.2h-1.2zM239.6 112.4h1.2v1.2h-1.2zM236.8 114.7h1.2v1.2h-1.2zM241.2 115.6h1.2v1.2h-1.2zM231.6 113.3h1.2v1.2h-1.2zM230.3 125.6h1.2v1.2h-1.2zM221.4 118.3h1.2v1.2h-1.2zM241.7 114.1h1.2v1.2h-1.2zM227.8 115.7h1.2v1.2h-1.2zM240.7 102.3h1.2v1.2h-1.2zM223.9 119.7h1.2v1.2h-1.2zM234.4 110.7h1.2v1.2h-1.2zM237.4 112.7h1.2v1.2h-1.2zM243.9 105.7h1.2v1.2h-1.2zM239.0 117.3h1.2v1.2h-1.2zM229.7 114.2h1.2v1.2h-1.2zM236.2 115.0h1.2v1.2h-1.2zM245.2 103.7h1.2v1.2h-1.2zM230.5 124.6h1.2v1.2h-1.2zM225.1 124.2h1.2v1.2h-1.2zM239.2 108.5h1.2v1.2h-1.2zM235.0 106.9h1.2v1.2h-1.2zM235.9 115.3h1.2v1.2h-1.2zM231.9 116.9h1.2v1.2h-1.2zM244.8 110.4h1.2v1.2h-1.2zM235.9 112.7h1.2v1.2h-1.2zM236.4 110.2h1.2v1.2h-1.2zM243.5 109.1h1.2v1.2h-1.2zM235.3 113.6h1.2v1.2h-1.2zM230.2 115.7h1.2v1.2h-1.2zM231.8 119.0h1.2v1.2h-1.2zM227.8 119.9h1.2v1.2h-1.2zM225.7 115.2h1.2v1.2h-1.2zM239.7 111.0h1.2v1.2h-1.2zM237.6 111.0h1.2v1.2h-1.2zM233.3 120.2h1.2v1.2h-1.2zM223.7 114.6h1.2v1.2h-1.2zM227.5 114.9h1.2v1.2h-1.2zM225.8 119.1h1.2v1.2h-1.2zM241.4 105.6h1.2v1.2h-1.2zM237.3 109.3h1.2v1.2h-1.2zM235.4 111.5h1.2v1.2h-1.2zM234.3 115.4h1.2v1.2h-1.2zM230.8 117.1h1.2v1.2h-1.2zM228.1 116.5h1.2v1.2h-1.2zM236.2 113.1h1.2v1.2h-1.2zM237.6 111.9h1.2v1.2h-1.2zM234.8 111.3h1.2v1.2h-1.2zM232.5 117.3h1.2v1.2h-1.2zM236.3 116.7h1.2v1.2h-1.2zM237.1 116.6h1.2v1.2h-1.2zM229.2 122.6h1.2v1.2h-1.2zM234.0 111.8h1.2v1.2h-1.2zM242.3 112.5h1.2v1.2h-1.2zM236.0 114.0h1.2v1.2h-1.2zM224.8 116.4h1.2v1.2h-1.2zM244.0 102.5h1.2v1.2h-1.2zM233.0 106.9h1.2v1.2h-1.2zM225.8 121.5h1.2v1.2h-1.2zM230.4 115.7h1.2v1.2h-1.2zM230.9 113.5h1.2v1.2h-1.2zM241.3 109.4h1.2v1.2h-1.2zM228.8 127.1h1.2v1.2h-1.2zM234.2 109.0h1.2v1.2h-1.2zM240.2 113.6h1.2v1.2h-1.2zM232.4 120.1h1.2v1.2h-1.2zM236.1 119.3h1.2v1.2h-1.2zM231.1 114.2h1.2v1.2h-1.2zM227.8 115.9h1.2v1.2h-1.2zM243.1 106.4h1.2v1.2h-1.2zM236.7 113.9h1.2v1.2h-1.2zM235.1 113.8h1.2v1.2h-1.2zM229.5 113.7h1.2v1.2h-1.2zM227.9 113.5h1.2v1.2h-1.2zM245.4 101.7h1.2v1.2h-1.2zM248.7 105.4h1.2v1.2h-1.2zM240.9 113.5h1.2v1.2h-1.2zM222.5 127.5h1.2v1.2h-1.2zM232.6 118.2h1.2v1.2h-1.2zM227.5 124.5h1.2v1.2h-1.2zM234.7 117.4h1.2v1.2h-1.2zM238.3 119.1h1.2v1.2h-1.2zM228.6 118.7h1.2v1.2h-1.2zM245.8 104.9h1.2v1.2h-1.2zM233.1 115.9h1.2v1.2h-1.2zM233.5 120.1h1.2v1.2h-1.2zM227.6 120.1h1.2v1.2h-1.2zM241.5 107.9h1.2v1.2h-1.2zM233.2 112.3h1.2v1.2h-1.2zM238.4 114.5h1.2v1.2h-1.2zM229.8 110.2h1.2v1.2h-1.2zM230.3 117.0h1.2v1.2h-1.2zM238.6 109.7h1.2v1.2h-1.2zM228.4 113.1h1.2v1.2h-1.2zM232.8 109.5h1.2v1.2h-1.2zM229.1 116.8h1.2v1.2h-1.2zM222.4 126.7h1.2v1.2h-1.2zM230.2 119.8h1.2v1.2h-1.2zM237.4 108.8h1.2v1.2h-1.2zM225.6 119.3h1.2v1.2h-1.2zM228.1 120.8h1.2v1.2h-1.2zM232.7 112.4h1.2v1.2h-1.2zM237.2 111.4h1.2v1.2h-1.2zM221.7 123.6h1.2v1.2h-1.2zM214.4 121.6h1.2v1.2h-1.2zM217.1 112.9h1.2v1.2h-1.2zM237.0 115.3h1.2v1.2h-1.2zM236.7 104.4h1.2v1.2h-1.2zM246.1 102.5h1.2v1.2h-1.2zM246.4 96.9h1.2v1.2h-1.2zM235.2 124.9h1.2v1.2h-1.2zM245.6 113.2h1.2v1.2h-1.2zM235.4 106.7h1.2v1.2h-1.2zM230.8 130.1h1.2v1.2h-1.2zM230.7 118.1h1.2v1.2h-1.2zM240.4 122.1h1.2v1.2h-1.2zM233.5 129.8h1.2v1.2h-1.2zM231.5 110.9h1.2v1.2h-1.2zM250.9 107.2h1.2v1.2h-1.2zM226.4 119.1h1.2v1.2h-1.2zM235.9 107.4h1.2v1.2h-1.2zM239.5 113.1h1.2v1.2h-1.2zM232.3 124.0h1.2v1.2h-1.2zM233.7 104.6h1.2v1.2h-1.2zM232.3 115.5h1.2v1.2h-1.2zM239.9 124.2h1.2v1.2h-1.2zM235.0 117.6h1.2v1.2h-1.2zM232.0 129.1h1.2v1.2h-1.2zM229.7 123.6h1.2v1.2h-1.2zM231.6 121.2h1.2v1.2h-1.2zM240.4 111.2h1.2v1.2h-1.2zM239.3 102.4h1.2v1.2h-1.2zM233.4 117.9h1.2v1.2h-1.2zM238.3 117.6h1.2v1.2h-1.2zM231.2 118.9h1.2v1.2h-1.2zM232.3 109.9h1.2v1.2h-1.2zM245.7 106.0h1.2v1.2h-1.2zM241.2 128.2h1.2v1.2h-1.2zM231.0 125.1h1.2v1.2h-1.2zM242.1 104.0h1.2v1.2h-1.2zM236.6 120.7h1.2v1.2h-1.2zM242.2 123.8h1.2v1.2h-1.2zM232.8 120.6h1.2v1.2h-1.2zM234.3 116.7h1.2v1.2h-1.2zM230.4 105.6h1.2v1.2h-1.2zM236.9 130.7h1.2v1.2h-1.2zM230.4 110.3h1.2v1.2h-1.2zM231.3 126.4h1.2v1.2h-1.2zM236.0 109.1h1.2v1.2h-1.2zM234.7 120.9h1.2v1.2h-1.2zM230.1 104.5h1.2v1.2h-1.2zM226.7 119.2h1.2v1.2h-1.2zM236.7 113.4h1.2v1.2h-1.2zM231.0 128.4h1.2v1.2h-1.2zM244.7 111.0h1.2v1.2h-1.2zM223.9 114.5h1.2v1.2h-1.2zM242.1 103.2h1.2v1.2h-1.2zM229.0 116.1h1.2v1.2h-1.2zM221.4 117.8h1.2v1.2h-1.2zM230.1 115.0h1.2v1.2h-1.2zM248.8 101.0h1.2v1.2h-1.2zM236.3 113.1h1.2v1.2h-1.2zM231.8 110.3h1.2v1.2h-1.2zM227.1 112.9h1.2v1.2h-1.2zM236.7 116.9h1.2v1.2h-1.2zM233.1 125.4h1.2v1.2h-1.2zM232.6 126.9h1.2v1.2h-1.2zM240.3 122.6h1.2v1.2h-1.2zM227.7 125.1h1.2v1.2h-1.2zM241.7 115.9h1.2v1.2h-1.2zM229.2 109.0h1.2v1.2h-1.2zM244.7 107.9h1.2v1.2h-1.2zM234.8 116.7h1.2v1.2h-1.2zM233.5 117.9h1.2v1.2h-1.2zM252.8 103.7h1.2v1.2h-1.2zM225.1 114.6h1.2v1.2h-1.2zM223.7 116.6h1.2v1.2h-1.2zM241.3 108.0h1.2v1.2h-1.2zM246.0 110.6h1.2v1.2h-1.2zM249.8 106.1h1.2v1.2h-1.2zM239.6 101.6h1.2v1.2h-1.2zM275.9 86.0h1.2v1.2h-1.2zM246.9 108.9h1.2v1.2h-1.2zM245.2 104.9h1.2v1.2h-1.2zM254.5 106.7h1.2v1.2h-1.2zM250.1 107.0h1.2v1.2h-1.2zM256.6 90.9h1.2v1.2h-1.2zM238.8 98.2h1.2v1.2h-1.2zM244.5 106.9h1.2v1.2h-1.2zM258.4 94.6h1.2v1.2h-1.2zM263.3 84.2h1.2v1.2h-1.2zM266.1 92.3h1.2v1.2h-1.2zM250.6 109.3h1.2v1.2h-1.2zM248.1 101.6h1.2v1.2h-1.2zM290.1 70.6h1.2v1.2h-1.2zM241.2 102.0h1.2v1.2h-1.2zM247.4 92.1h1.2v1.2h-1.2zM245.6 96.2h1.2v1.2h-1.2zM251.7 100.2h1.2v1.2h-1.2zM244.0 108.4h1.2v1.2h-1.2zM254.4 94.3h1.2v1.2h-1.2zM272.5 55.9h1.2v1.2h-1.2zM251.8 104.2h1.2v1.2h-1.2zM240.9 98.0h1.2v1.2h-1.2zM280.7 82.2h1.2v1.2h-1.2zM251.8 98.3h1.2v1.2h-1.2zM244.2 97.5h1.2v1.2h-1.2zM253.2 106.3h1.2v1.2h-1.2zM262.4 83.0h1.2v1.2h-1.2zM259.7 85.7h1.2v1.2h-1.2zM236.9 99.3h1.2v1.2h-1.2zM242.8 87.5h1.2v1.2h-1.2zM265.9 95.8h1.2v1.2h-1.2zM240.9 103.9h1.2v1.2h-1.2zM245.8 104.0h1.2v1.2h-1.2zM243.2 98.6h1.2v1.2h-1.2zM242.6 100.3h1.2v1.2h-1.2zM240.6 102.3h1.2v1.2h-1.2zM265.4 67.5h1.2v1.2h-1.2zM257.7 80.1h1.2v1.2h-1.2zM252.6 104.6h1.2v1.2h-1.2zM252.5 104.5h1.2v1.2h-1.2zM288.6 60.3h1.2v1.2h-1.2zM253.0 99.6h1.2v1.2h-1.2zM242.6 101.3h1.2v1.2h-1.2zM257.0 107.3h1.2v1.2h-1.2zM248.3 88.6h1.2v1.2h-1.2zM260.0 95.6h1.2v1.2h-1.2zM250.3 96.2h1.2v1.2h-1.2zM246.0 95.5h1.2v1.2h-1.2zM255.8 89.2h1.2v1.2h-1.2zM248.5 109.5h1.2v1.2h-1.2zM275.6 68.6h1.2v1.2h-1.2zM270.3 79.9h1.2v1.2h-1.2zM266.1 95.1h1.2v1.2h-1.2zM271.0 73.4h1.2v1.2h-1.2zM254.6 106.1h1.2v1.2h-1.2zM251.2 92.6h1.2v1.2h-1.2zM282.1 93.6h1.2v1.2h-1.2zM259.4 87.4h1.2v1.2h-1.2zM247.5 103.7h1.2v1.2h-1.2zM255.7 91.3h1.2v1.2h-1.2zM240.6 104.4h1.2v1.2h-1.2zM247.0 111.8h1.2v1.2h-1.2zM243.8 104.9h1.2v1.2h-1.2zM245.9 93.5h1.2v1.2h-1.2zM263.6 77.7h1.2v1.2h-1.2zM267.3 90.3h1.2v1.2h-1.2zM271.3 75.1h1.2v1.2h-1.2zM249.5 103.6h1.2v1.2h-1.2zM242.6 100.9h1.2v1.2h-1.2zM260.2 96.2h1.2v1.2h-1.2zM248.4 98.4h1.2v1.2h-1.2zM250.8 94.3h1.2v1.2h-1.2zM247.1 107.1h1.2v1.2h-1.2zM239.1 103.1h1.2v1.2h-1.2zM251.3 112.0h1.2v1.2h-1.2zM244.5 93.9h1.2v1.2h-1.2zM245.8 107.1h1.2v1.2h-1.2zM199.7 121.9h1.2v1.2h-1.2zM226.1 74.2h1.2v1.2h-1.2zM280.9 102.0h1.2v1.2h-1.2zM276.9 59.4h1.2v1.2h-1.2z" fill="#55583f" fill-opacity="0.42"/>
<path d="M239.8 109.4h1.2v1.2h-1.2zM234.9 113.1h1.2v1.2h-1.2zM231.4 116.4h1.2v1.2h-1.2zM236.2 117.4h1.2v1.2h-1.2zM242.4 107.3h1.2v1.2h-1.2zM226.8 122.3h1.2v1.2h-1.2zM235.5 114.4h1.2v1.2h-1.2zM234.4 106.3h1.2v1.2h-1.2zM229.2 117.3h1.2v1.2h-1.2zM239.3 104.6h1.2v1.2h-1.2zM232.9 116.4h1.2v1.2h-1.2zM232.4 117.4h1.2v1.2h-1.2zM248.2 101.5h1.2v1.2h-1.2zM241.3 113.0h1.2v1.2h-1.2zM236.7 116.4h1.2v1.2h-1.2zM238.0 109.1h1.2v1.2h-1.2zM242.2 109.1h1.2v1.2h-1.2zM226.8 127.1h1.2v1.2h-1.2zM231.8 120.6h1.2v1.2h-1.2zM234.9 116.8h1.2v1.2h-1.2zM226.2 126.4h1.2v1.2h-1.2zM229.7 113.3h1.2v1.2h-1.2zM224.5 121.0h1.2v1.2h-1.2zM226.2 114.0h1.2v1.2h-1.2zM242.4 108.5h1.2v1.2h-1.2zM230.3 120.8h1.2v1.2h-1.2zM227.7 119.0h1.2v1.2h-1.2zM244.0 106.0h1.2v1.2h-1.2zM235.3 113.7h1.2v1.2h-1.2zM229.6 119.6h1.2v1.2h-1.2zM233.3 118.1h1.2v1.2h-1.2zM237.8 114.7h1.2v1.2h-1.2zM231.6 123.1h1.2v1.2h-1.2zM244.9 107.3h1.2v1.2h-1.2zM240.0 107.3h1.2v1.2h-1.2zM237.8 110.5h1.2v1.2h-1.2zM227.0 112.9h1.2v1.2h-1.2zM228.6 112.1h1.2v1.2h-1.2zM233.9 115.3h1.2v1.2h-1.2zM232.8 108.9h1.2v1.2h-1.2zM226.8 110.2h1.2v1.2h-1.2zM231.3 113.4h1.2v1.2h-1.2zM231.1 117.5h1.2v1.2h-1.2zM241.5 116.3h1.2v1.2h-1.2zM239.0 117.9h1.2v1.2h-1.2zM243.0 105.3h1.2v1.2h-1.2zM231.7 119.8h1.2v1.2h-1.2zM228.6 126.9h1.2v1.2h-1.2zM230.4 111.9h1.2v1.2h-1.2zM229.5 115.8h1.2v1.2h-1.2zM231.1 117.8h1.2v1.2h-1.2zM229.6 121.2h1.2v1.2h-1.2zM234.3 117.0h1.2v1.2h-1.2zM233.1 115.1h1.2v1.2h-1.2zM240.8 105.1h1.2v1.2h-1.2zM237.4 113.0h1.2v1.2h-1.2zM233.7 118.8h1.2v1.2h-1.2zM226.2 122.1h1.2v1.2h-1.2zM232.8 109.0h1.2v1.2h-1.2zM230.2 118.1h1.2v1.2h-1.2zM239.4 110.3h1.2v1.2h-1.2zM229.1 115.6h1.2v1.2h-1.2zM230.8 123.4h1.2v1.2h-1.2zM227.9 124.3h1.2v1.2h-1.2zM240.3 106.4h1.2v1.2h-1.2zM236.2 116.6h1.2v1.2h-1.2zM234.5 107.4h1.2v1.2h-1.2zM241.0 108.3h1.2v1.2h-1.2zM235.9 116.5h1.2v1.2h-1.2zM231.6 113.9h1.2v1.2h-1.2zM233.5 109.1h1.2v1.2h-1.2zM240.4 106.9h1.2v1.2h-1.2zM236.3 115.8h1.2v1.2h-1.2zM233.3 117.5h1.2v1.2h-1.2zM230.9 119.1h1.2v1.2h-1.2zM231.4 114.1h1.2v1.2h-1.2zM223.2 118.1h1.2v1.2h-1.2zM233.3 104.8h1.2v1.2h-1.2zM233.7 112.4h1.2v1.2h-1.2zM237.4 112.9h1.2v1.2h-1.2zM229.1 116.5h1.2v1.2h-1.2zM230.5 110.6h1.2v1.2h-1.2zM231.3 115.6h1.2v1.2h-1.2zM228.5 112.2h1.2v1.2h-1.2zM232.1 113.7h1.2v1.2h-1.2zM237.1 111.7h1.2v1.2h-1.2zM236.5 107.9h1.2v1.2h-1.2zM230.8 122.8h1.2v1.2h-1.2zM233.2 115.2h1.2v1.2h-1.2zM238.7 109.5h1.2v1.2h-1.2zM234.5 116.0h1.2v1.2h-1.2zM228.3 116.3h1.2v1.2h-1.2zM240.8 107.8h1.2v1.2h-1.2zM246.2 104.5h1.2v1.2h-1.2zM234.0 115.4h1.2v1.2h-1.2zM235.5 118.6h1.2v1.2h-1.2zM235.8 109.9h1.2v1.2h-1.2zM227.5 123.2h1.2v1.2h-1.2zM232.7 117.4h1.2v1.2h-1.2zM234.5 105.9h1.2v1.2h-1.2zM224.5 118.0h1.2v1.2h-1.2zM234.9 119.7h1.2v1.2h-1.2zM231.6 121.8h1.2v1.2h-1.2zM240.1 108.2h1.2v1.2h-1.2zM229.2 114.4h1.2v1.2h-1.2zM234.6 112.5h1.2v1.2h-1.2zM224.8 122.0h1.2v1.2h-1.2zM231.7 111.2h1.2v1.2h-1.2zM235.1 116.7h1.2v1.2h-1.2zM243.2 104.2h1.2v1.2h-1.2zM229.0 114.7h1.2v1.2h-1.2zM230.9 118.7h1.2v1.2h-1.2zM239.4 111.2h1.2v1.2h-1.2zM239.4 114.2h1.2v1.2h-1.2zM241.0 110.4h1.2v1.2h-1.2zM229.2 123.4h1.2v1.2h-1.2zM232.3 118.5h1.2v1.2h-1.2zM233.5 109.2h1.2v1.2h-1.2zM230.6 117.0h1.2v1.2h-1.2zM234.0 117.2h1.2v1.2h-1.2zM239.7 104.5h1.2v1.2h-1.2zM237.8 117.5h1.2v1.2h-1.2zM232.1 108.5h1.2v1.2h-1.2zM231.6 116.7h1.2v1.2h-1.2zM225.2 116.2h1.2v1.2h-1.2zM231.8 126.5h1.2v1.2h-1.2zM224.7 122.4h1.2v1.2h-1.2zM220.2 127.5h1.2v1.2h-1.2zM237.1 107.8h1.2v1.2h-1.2zM226.4 118.0h1.2v1.2h-1.2zM230.7 108.5h1.2v1.2h-1.2zM222.6 118.2h1.2v1.2h-1.2zM221.3 121.6h1.2v1.2h-1.2zM247.9 107.7h1.2v1.2h-1.2zM227.2 113.2h1.2v1.2h-1.2zM242.0 106.8h1.2v1.2h-1.2zM227.8 122.7h1.2v1.2h-1.2zM228.9 117.9h1.2v1.2h-1.2zM226.2 125.7h1.2v1.2h-1.2zM234.2 106.1h1.2v1.2h-1.2zM232.8 116.8h1.2v1.2h-1.2zM236.4 118.7h1.2v1.2h-1.2zM227.4 121.6h1.2v1.2h-1.2zM238.8 109.3h1.2v1.2h-1.2zM235.9 108.7h1.2v1.2h-1.2zM235.6 115.1h1.2v1.2h-1.2zM247.6 107.7h1.2v1.2h-1.2zM234.1 115.3h1.2v1.2h-1.2zM236.7 112.3h1.2v1.2h-1.2zM230.5 118.0h1.2v1.2h-1.2zM238.2 103.6h1.2v1.2h-1.2zM230.6 116.0h1.2v1.2h-1.2zM234.5 110.6h1.2v1.2h-1.2zM229.6 119.1h1.2v1.2h-1.2zM230.9 113.9h1.2v1.2h-1.2zM235.9 110.7h1.2v1.2h-1.2zM234.1 116.9h1.2v1.2h-1.2zM233.5 111.3h1.2v1.2h-1.2zM232.2 117.8h1.2v1.2h-1.2zM232.9 121.1h1.2v1.2h-1.2zM237.0 110.6h1.2v1.2h-1.2zM227.0 118.9h1.2v1.2h-1.2zM231.7 117.7h1.2v1.2h-1.2zM234.9 109.1h1.2v1.2h-1.2zM234.1 106.8h1.2v1.2h-1.2zM229.1 121.1h1.2v1.2h-1.2zM229.6 116.1h1.2v1.2h-1.2zM233.7 120.1h1.2v1.2h-1.2zM233.9 118.3h1.2v1.2h-1.2zM228.1 121.4h1.2v1.2h-1.2zM234.8 111.0h1.2v1.2h-1.2zM239.4 110.4h1.2v1.2h-1.2zM223.7 119.1h1.2v1.2h-1.2zM233.4 114.5h1.2v1.2h-1.2zM228.9 120.6h1.2v1.2h-1.2zM236.8 114.6h1.2v1.2h-1.2zM226.0 126.2h1.2v1.2h-1.2zM229.5 115.0h1.2v1.2h-1.2zM222.7 121.7h1.2v1.2h-1.2zM243.6 103.6h1.2v1.2h-1.2zM227.5 120.4h1.2v1.2h-1.2zM233.6 120.5h1.2v1.2h-1.2zM216.1 129.4h1.2v1.2h-1.2zM224.3 119.0h1.2v1.2h-1.2zM228.5 117.8h1.2v1.2h-1.2zM242.0 102.8h1.2v1.2h-1.2zM231.1 114.2h1.2v1.2h-1.2zM230.7 116.8h1.2v1.2h-1.2zM233.9 115.4h1.2v1.2h-1.2zM233.2 112.7h1.2v1.2h-1.2zM230.7 114.5h1.2v1.2h-1.2zM235.7 119.5h1.2v1.2h-1.2zM240.7 110.8h1.2v1.2h-1.2zM239.8 104.6h1.2v1.2h-1.2zM230.6 114.6h1.2v1.2h-1.2zM236.4 114.1h1.2v1.2h-1.2zM227.9 122.8h1.2v1.2h-1.2zM243.5 109.4h1.2v1.2h-1.2zM238.3 108.5h1.2v1.2h-1.2zM235.5 111.8h1.2v1.2h-1.2zM239.0 110.6h1.2v1.2h-1.2zM237.5 109.2h1.2v1.2h-1.2zM227.6 117.9h1.2v1.2h-1.2zM231.3 117.5h1.2v1.2h-1.2zM240.4 107.2h1.2v1.2h-1.2zM229.9 115.8h1.2v1.2h-1.2zM241.4 113.1h1.2v1.2h-1.2zM233.9 115.5h1.2v1.2h-1.2zM231.1 116.3h1.2v1.2h-1.2zM236.0 105.4h1.2v1.2h-1.2zM235.4 111.4h1.2v1.2h-1.2zM239.6 100.3h1.2v1.2h-1.2zM229.4 116.0h1.2v1.2h-1.2zM229.5 121.3h1.2v1.2h-1.2zM229.4 118.2h1.2v1.2h-1.2zM226.0 125.2h1.2v1.2h-1.2zM239.9 107.0h1.2v1.2h-1.2zM229.8 114.2h1.2v1.2h-1.2zM226.0 115.2h1.2v1.2h-1.2zM246.4 107.9h1.2v1.2h-1.2zM238.5 114.4h1.2v1.2h-1.2zM232.7 117.5h1.2v1.2h-1.2zM234.8 110.0h1.2v1.2h-1.2zM227.7 121.6h1.2v1.2h-1.2zM230.0 115.3h1.2v1.2h-1.2zM237.7 105.4h1.2v1.2h-1.2zM230.4 112.9h1.2v1.2h-1.2zM234.9 116.3h1.2v1.2h-1.2zM233.6 118.0h1.2v1.2h-1.2zM230.9 122.8h1.2v1.2h-1.2zM230.9 114.6h1.2v1.2h-1.2zM233.7 106.7h1.2v1.2h-1.2zM228.7 116.2h1.2v1.2h-1.2zM232.5 115.8h1.2v1.2h-1.2zM232.6 113.8h1.2v1.2h-1.2zM227.9 113.5h1.2v1.2h-1.2zM226.9 122.2h1.2v1.2h-1.2zM230.0 117.4h1.2v1.2h-1.2zM239.8 107.9h1.2v1.2h-1.2zM227.9 125.0h1.2v1.2h-1.2zM235.0 115.9h1.2v1.2h-1.2zM229.5 111.1h1.2v1.2h-1.2zM240.4 116.1h1.2v1.2h-1.2zM246.4 102.4h1.2v1.2h-1.2zM234.6 113.4h1.2v1.2h-1.2zM233.1 122.8h1.2v1.2h-1.2zM231.8 120.2h1.2v1.2h-1.2zM240.6 108.9h1.2v1.2h-1.2zM237.4 106.1h1.2v1.2h-1.2zM221.9 120.4h1.2v1.2h-1.2zM230.1 114.7h1.2v1.2h-1.2zM236.9 117.1h1.2v1.2h-1.2zM237.3 116.4h1.2v1.2h-1.2zM227.1 120.3h1.2v1.2h-1.2zM229.3 124.1h1.2v1.2h-1.2zM224.8 131.9h1.2v1.2h-1.2zM231.6 119.3h1.2v1.2h-1.2zM233.7 112.9h1.2v1.2h-1.2zM230.6 114.2h1.2v1.2h-1.2zM230.5 122.0h1.2v1.2h-1.2zM228.6 120.6h1.2v1.2h-1.2zM232.4 116.4h1.2v1.2h-1.2zM230.7 112.2h1.2v1.2h-1.2zM234.7 111.9h1.2v1.2h-1.2zM228.2 119.7h1.2v1.2h-1.2zM228.4 120.8h1.2v1.2h-1.2zM228.7 118.1h1.2v1.2h-1.2zM239.8 109.9h1.2v1.2h-1.2zM227.2 115.5h1.2v1.2h-1.2zM228.8 122.5h1.2v1.2h-1.2zM228.7 117.7h1.2v1.2h-1.2zM230.3 121.9h1.2v1.2h-1.2zM247.4 94.5h1.2v1.2h-1.2zM226.9 118.3h1.2v1.2h-1.2zM231.0 125.4h1.2v1.2h-1.2zM230.9 116.6h1.2v1.2h-1.2zM232.0 119.3h1.2v1.2h-1.2zM234.6 112.2h1.2v1.2h-1.2zM235.1 115.1h1.2v1.2h-1.2zM237.9 117.1h1.2v1.2h-1.2zM224.4 119.8h1.2v1.2h-1.2zM233.5 110.5h1.2v1.2h-1.2zM232.7 117.4h1.2v1.2h-1.2zM230.4 112.0h1.2v1.2h-1.2zM232.0 114.0h1.2v1.2h-1.2zM235.4 110.3h1.2v1.2h-1.2zM230.3 118.7h1.2v1.2h-1.2zM232.0 117.2h1.2v1.2h-1.2zM233.6 110.7h1.2v1.2h-1.2zM229.6 114.4h1.2v1.2h-1.2zM239.4 117.3h1.2v1.2h-1.2zM233.1 115.1h1.2v1.2h-1.2zM228.8 126.0h1.2v1.2h-1.2zM225.8 121.6h1.2v1.2h-1.2zM238.5 105.6h1.2v1.2h-1.2zM229.3 123.2h1.2v1.2h-1.2zM228.0 127.4h1.2v1.2h-1.2zM234.9 111.6h1.2v1.2h-1.2zM236.4 110.9h1.2v1.2h-1.2zM225.9 124.7h1.2v1.2h-1.2zM229.9 125.3h1.2v1.2h-1.2zM234.4 116.9h1.2v1.2h-1.2zM226.1 117.5h1.2v1.2h-1.2zM227.1 120.1h1.2v1.2h-1.2zM229.7 121.6h1.2v1.2h-1.2zM229.0 111.6h1.2v1.2h-1.2zM234.1 116.9h1.2v1.2h-1.2zM241.5 106.8h1.2v1.2h-1.2zM228.9 116.6h1.2v1.2h-1.2zM240.5 108.6h1.2v1.2h-1.2zM243.7 104.3h1.2v1.2h-1.2zM232.7 117.8h1.2v1.2h-1.2zM225.2 120.6h1.2v1.2h-1.2zM229.2 113.3h1.2v1.2h-1.2zM233.2 110.7h1.2v1.2h-1.2zM235.9 113.8h1.2v1.2h-1.2zM230.7 113.5h1.2v1.2h-1.2zM232.0 116.5h1.2v1.2h-1.2zM236.9 109.1h1.2v1.2h-1.2zM232.3 114.6h1.2v1.2h-1.2zM231.4 115.9h1.2v1.2h-1.2zM243.1 104.0h1.2v1.2h-1.2zM234.2 114.7h1.2v1.2h-1.2zM240.3 102.0h1.2v1.2h-1.2zM229.0 118.3h1.2v1.2h-1.2zM231.6 117.5h1.2v1.2h-1.2zM232.3 113.6h1.2v1.2h-1.2zM229.4 121.9h1.2v1.2h-1.2zM226.2 125.5h1.2v1.2h-1.2zM241.3 106.2h1.2v1.2h-1.2zM240.2 102.0h1.2v1.2h-1.2zM231.2 120.8h1.2v1.2h-1.2zM237.4 112.3h1.2v1.2h-1.2zM229.6 111.8h1.2v1.2h-1.2zM225.5 119.1h1.2v1.2h-1.2zM235.5 119.7h1.2v1.2h-1.2zM233.5 113.8h1.2v1.2h-1.2zM227.5 116.1h1.2v1.2h-1.2zM245.0 103.9h1.2v1.2h-1.2zM237.0 118.5h1.2v1.2h-1.2zM234.0 113.2h1.2v1.2h-1.2zM230.5 118.0h1.2v1.2h-1.2zM230.3 112.6h1.2v1.2h-1.2zM238.0 111.8h1.2v1.2h-1.2zM239.7 108.1h1.2v1.2h-1.2zM226.0 118.6h1.2v1.2h-1.2zM234.7 112.5h1.2v1.2h-1.2zM247.8 101.2h1.2v1.2h-1.2zM239.7 108.5h1.2v1.2h-1.2zM241.2 107.0h1.2v1.2h-1.2zM226.7 120.8h1.2v1.2h-1.2zM237.2 110.1h1.2v1.2h-1.2zM229.4 121.3h1.2v1.2h-1.2zM236.6 111.0h1.2v1.2h-1.2zM243.3 107.9h1.2v1.2h-1.2zM242.2 104.1h1.2v1.2h-1.2zM226.1 116.2h1.2v1.2h-1.2zM239.4 106.8h1.2v1.2h-1.2zM230.5 110.0h1.2v1.2h-1.2zM236.8 104.6h1.2v1.2h-1.2zM237.5 110.8h1.2v1.2h-1.2zM233.0 119.0h1.2v1.2h-1.2zM230.8 113.7h1.2v1.2h-1.2zM232.8 108.4h1.2v1.2h-1.2zM236.7 113.5h1.2v1.2h-1.2zM235.8 115.8h1.2v1.2h-1.2zM230.9 109.7h1.2v1.2h-1.2zM230.4 117.6h1.2v1.2h-1.2zM232.7 113.6h1.2v1.2h-1.2zM231.3 120.1h1.2v1.2h-1.2zM239.4 112.1h1.2v1.2h-1.2zM238.3 110.9h1.2v1.2h-1.2zM230.2 119.6h1.2v1.2h-1.2zM229.1 117.0h1.2v1.2h-1.2zM235.3 117.5h1.2v1.2h-1.2zM236.2 108.0h1.2v1.2h-1.2zM231.5 119.4h1.2v1.2h-1.2zM233.3 103.1h1.2v1.2h-1.2zM233.8 111.0h1.2v1.2h-1.2zM227.6 119.3h1.2v1.2h-1.2zM233.0 112.4h1.2v1.2h-1.2zM237.0 108.4h1.2v1.2h-1.2zM226.9 125.5h1.2v1.2h-1.2zM227.7 123.1h1.2v1.2h-1.2zM242.5 97.1h1.2v1.2h-1.2zM226.2 122.0h1.2v1.2h-1.2zM229.9 125.4h1.2v1.2h-1.2zM224.7 118.0h1.2v1.2h-1.2zM228.3 113.3h1.2v1.2h-1.2zM228.3 113.6h1.2v1.2h-1.2zM239.1 112.7h1.2v1.2h-1.2zM236.6 114.1h1.2v1.2h-1.2zM230.4 118.3h1.2v1.2h-1.2zM229.6 114.8h1.2v1.2h-1.2zM230.3 119.3h1.2v1.2h-1.2zM231.3 125.2h1.2v1.2h-1.2zM230.0 124.8h1.2v1.2h-1.2zM231.5 119.7h1.2v1.2h-1.2zM244.4 106.5h1.2v1.2h-1.2zM247.0 106.2h1.2v1.2h-1.2zM235.8 113.0h1.2v1.2h-1.2zM231.4 133.4h1.2v1.2h-1.2zM232.8 125.6h1.2v1.2h-1.2zM233.6 121.3h1.2v1.2h-1.2zM230.5 108.5h1.2v1.2h-1.2zM227.3 116.5h1.2v1.2h-1.2zM237.9 120.9h1.2v1.2h-1.2zM218.4 122.3h1.2v1.2h-1.2zM229.6 112.7h1.2v1.2h-1.2zM251.7 87.0h1.2v1.2h-1.2zM231.0 112.8h1.2v1.2h-1.2zM242.0 108.0h1.2v1.2h-1.2zM236.7 115.4h1.2v1.2h-1.2zM236.0 109.3h1.2v1.2h-1.2zM231.3 105.8h1.2v1.2h-1.2zM236.9 114.9h1.2v1.2h-1.2zM249.8 92.9h1.2v1.2h-1.2zM224.6 116.4h1.2v1.2h-1.2zM238.3 129.4h1.2v1.2h-1.2zM219.9 112.1h1.2v1.2h-1.2zM226.9 129.8h1.2v1.2h-1.2zM227.9 119.6h1.2v1.2h-1.2zM232.0 124.8h1.2v1.2h-1.2zM235.2 117.2h1.2v1.2h-1.2zM235.8 112.7h1.2v1.2h-1.2zM230.9 111.8h1.2v1.2h-1.2zM244.9 109.3h1.2v1.2h-1.2zM231.1 119.1h1.2v1.2h-1.2zM226.6 109.3h1.2v1.2h-1.2zM235.7 115.6h1.2v1.2h-1.2zM243.3 109.1h1.2v1.2h-1.2zM242.2 100.2h1.2v1.2h-1.2zM232.5 112.1h1.2v1.2h-1.2zM232.9 115.6h1.2v1.2h-1.2zM235.3 112.9h1.2v1.2h-1.2zM240.2 104.7h1.2v1.2h-1.2zM227.2 120.8h1.2v1.2h-1.2zM227.5 120.2h1.2v1.2h-1.2zM232.2 126.1h1.2v1.2h-1.2zM233.0 116.7h1.2v1.2h-1.2zM228.1 120.7h1.2v1.2h-1.2zM237.0 115.4h1.2v1.2h-1.2zM250.1 109.5h1.2v1.2h-1.2zM234.0 124.3h1.2v1.2h-1.2zM224.2 118.7h1.2v1.2h-1.2zM231.6 129.3h1.2v1.2h-1.2zM238.7 122.9h1.2v1.2h-1.2zM232.5 112.2h1.2v1.2h-1.2zM232.1 122.1h1.2v1.2h-1.2zM244.6 119.1h1.2v1.2h-1.2zM227.6 119.2h1.2v1.2h-1.2zM229.1 121.8h1.2v1.2h-1.2zM226.1 113.9h1.2v1.2h-1.2zM228.1 119.7h1.2v1.2h-1.2zM228.4 117.4h1.2v1.2h-1.2zM231.4 115.5h1.2v1.2h-1.2zM226.0 127.6h1.2v1.2h-1.2zM229.8 115.7h1.2v1.2h-1.2zM241.6 100.3h1.2v1.2h-1.2zM230.8 109.1h1.2v1.2h-1.2zM238.6 107.4h1.2v1.2h-1.2zM226.7 114.8h1.2v1.2h-1.2zM239.7 112.0h1.2v1.2h-1.2zM224.2 120.6h1.2v1.2h-1.2zM236.8 109.9h1.2v1.2h-1.2zM240.3 116.1h1.2v1.2h-1.2zM228.7 118.2h1.2v1.2h-1.2zM229.9 114.1h1.2v1.2h-1.2zM229.1 119.5h1.2v1.2h-1.2zM223.6 111.8h1.2v1.2h-1.2zM226.8 120.8h1.2v1.2h-1.2zM227.2 123.4h1.2v1.2h-1.2zM233.9 106.9h1.2v1.2h-1.2zM234.4 123.1h1.2v1.2h-1.2zM252.1 103.7h1.2v1.2h-1.2zM276.8 59.5h1.2v1.2h-1.2zM234.0 97.8h1.2v1.2h-1.2zM240.6 98.9h1.2v1.2h-1.2zM245.8 102.0h1.2v1.2h-1.2zM256.4 103.7h1.2v1.2h-1.2zM254.2 97.1h1.2v1.2h-1.2zM251.0 94.7h1.2v1.2h-1.2zM238.9 92.5h1.2v1.2h-1.2zM281.6 73.3h1.2v1.2h-1.2zM259.4 98.3h1.2v1.2h-1.2zM254.6 87.0h1.2v1.2h-1.2zM244.7 102.9h1.2v1.2h-1.2zM268.9 89.3h1.2v1.2h-1.2zM258.7 78.3h1.2v1.2h-1.2zM244.6 109.5h1.2v1.2h-1.2zM257.0 110.6h1.2v1.2h-1.2zM250.5 96.7h1.2v1.2h-1.2zM250.4 105.7h1.2v1.2h-1.2zM249.4 99.3h1.2v1.2h-1.2zM261.4 116.4h1.2v1.2h-1.2zM239.3 88.4h1.2v1.2h-1.2zM247.2 95.1h1.2v1.2h-1.2zM256.7 78.0h1.2v1.2h-1.2zM242.1 104.3h1.2v1.2h-1.2zM278.5 82.6h1.2v1.2h-1.2zM257.3 102.0h1.2v1.2h-1.2zM257.2 92.7h1.2v1.2h-1.2zM243.2 101.9h1.2v1.2h-1.2zM247.7 102.4h1.2v1.2h-1.2zM237.5 90.1h1.2v1.2h-1.2zM255.8 103.6h1.2v1.2h-1.2zM260.3 90.2h1.2v1.2h-1.2zM245.5 102.6h1.2v1.2h-1.2zM249.1 105.1h1.2v1.2h-1.2zM265.4 96.6h1.2v1.2h-1.2zM258.1 85.6h1.2v1.2h-1.2zM249.9 106.8h1.2v1.2h-1.2zM235.6 97.8h1.2v1.2h-1.2zM253.1 93.6h1.2v1.2h-1.2zM252.1 101.3h1.2v1.2h-1.2zM244.7 103.7h1.2v1.2h-1.2zM261.4 105.6h1.2v1.2h-1.2zM244.4 98.8h1.2v1.2h-1.2zM252.1 97.0h1.2v1.2h-1.2zM248.0 111.8h1.2v1.2h-1.2zM241.1 104.9h1.2v1.2h-1.2zM251.1 85.7h1.2v1.2h-1.2zM241.4 103.7h1.2v1.2h-1.2zM245.2 101.5h1.2v1.2h-1.2zM248.1 101.1h1.2v1.2h-1.2zM241.3 106.2h1.2v1.2h-1.2zM242.8 102.4h1.2v1.2h-1.2zM242.8 105.2h1.2v1.2h-1.2zM285.8 75.3h1.2v1.2h-1.2zM246.0 103.2h1.2v1.2h-1.2zM250.4 84.3h1.2v1.2h-1.2zM277.5 89.9h1.2v1.2h-1.2zM295.2 62.7h1.2v1.2h-1.2zM268.4 85.8h1.2v1.2h-1.2zM234.3 93.7h1.2v1.2h-1.2zM253.7 87.7h1.2v1.2h-1.2zM256.8 102.7h1.2v1.2h-1.2zM256.5 90.1h1.2v1.2h-1.2zM250.6 111.9h1.2v1.2h-1.2zM263.7 115.5h1.2v1.2h-1.2zM251.2 98.7h1.2v1.2h-1.2zM253.7 101.3h1.2v1.2h-1.2zM254.9 91.0h1.2v1.2h-1.2zM264.2 89.8h1.2v1.2h-1.2zM250.4 90.1h1.2v1.2h-1.2zM243.6 96.5h1.2v1.2h-1.2zM248.9 113.3h1.2v1.2h-1.2zM255.3 81.8h1.2v1.2h-1.2zM250.1 111.2h1.2v1.2h-1.2zM248.3 100.0h1.2v1.2h-1.2zM250.6 84.9h1.2v1.2h-1.2zM240.8 102.4h1.2v1.2h-1.2zM236.2 93.7h1.2v1.2h-1.2zM249.3 102.0h1.2v1.2h-1.2zM261.5 74.3h1.2v1.2h-1.2zM249.6 65.5h1.2v1.2h-1.2zM299.2 51.3h1.2v1.2h-1.2zM262.6 131.4h1.2v1.2h-1.2zM252.5 66.0h1.2v1.2h-1.2z" fill="#55583f" fill-opacity="0.42"/>
<path d="M235.9 113.1h1.2v1.2h-1.2zM234.9 110.6h1.2v1.2h-1.2zM237.4 111.8h1.2v1.2h-1.2zM223.1 123.8h1.2v1.2h-1.2zM231.2 111.6h1.2v1.2h-1.2zM242.9 107.7h1.2v1.2h-1.2zM243.8 106.9h1.2v1.2h-1.2zM234.4 118.0h1.2v1.2h-1.2zM239.4 108.9h1.2v1.2h-1.2zM238.0 105.0h1.2v1.2h-1.2zM236.6 111.6h1.2v1.2h-1.2zM238.7 99.0h1.2v1.2h-1.2zM230.4 117.4h1.2v1.2h-1.2zM224.5 122.3h1.2v1.2h-1.2zM232.9 116.1h1.2v1.2h-1.2zM235.4 115.7h1.2v1.2h-1.2zM239.9 104.4h1.2v1.2h-1.2zM231.5 114.2h1.2v1.2h-1.2zM234.1 114.6h1.2v1.2h-1.2zM236.4 117.3h1.2v1.2h-1.2zM227.4 120.8h1.2v1.2h-1.2zM232.8 119.8h1.2v1.2h-1.2zM237.5 108.4h1.2v1.2h-1.2zM236.9 110.2h1.2v1.2h-1.2zM231.6 108.1h1.2v1.2h-1.2zM244.0 103.7h1.2v1.2h-1.2zM238.6 110.0h1.2v1.2h-1.2zM234.0 116.4h1.2v1.2h-1.2zM229.3 114.9h1.2v1.2h-1.2zM221.5 123.6h1.2v1.2h-1.2zM231.8 113.0h1.2v1.2h-1.2zM235.4 112.1h1.2v1.2h-1.2zM228.6 114.0h1.2v1.2h-1.2zM237.0 106.8h1.2v1.2h-1.2zM239.1 119.8h1.2v1.2h-1.2zM239.3 111.1h1.2v1.2h-1.2zM231.2 119.4h1.2v1.2h-1.2zM239.7 112.3h1.2v1.2h-1.2zM238.4 112.7h1.2v1.2h-1.2zM227.3 120.8h1.2v1.2h-1.2zM228.7 119.7h1.2v1.2h-1.2zM232.4 115.5h1.2v1.2h-1.2zM235.4 111.1h1.2v1.2h-1.2zM237.7 115.7h1.2v1.2h-1.2zM232.2 116.1h1.2v1.2h-1.2zM233.9 112.5h1.2v1.2h-1.2zM233.6 115.9h1.2v1.2h-1.2zM238.7 104.5h1.2v1.2h-1.2zM233.5 116.0h1.2v1.2h-1.2zM228.1 118.7h1.2v1.2h-1.2zM234.9 114.9h1.2v1.2h-1.2zM231.5 119.4h1.2v1.2h-1.2zM230.4 120.4h1.2v1.2h-1.2zM227.8 126.3h1.2v1.2h-1.2zM225.6 117.0h1.2v1.2h-1.2zM226.0 117.4h1.2v1.2h-1.2zM240.6 106.1h1.2v1.2h-1.2zM230.8 118.9h1.2v1.2h-1.2zM230.0 118.1h1.2v1.2h-1.2zM236.3 116.1h1.2v1.2h-1.2zM240.4 102.7h1.2v1.2h-1.2zM231.6 119.3h1.2v1.2h-1.2zM234.0 110.3h1.2v1.2h-1.2zM232.8 114.2h1.2v1.2h-1.2zM235.9 118.8h1.2v1.2h-1.2zM245.9 99.6h1.2v1.2h-1.2zM228.8 117.1h1.2v1.2h-1.2zM232.3 126.1h1.2v1.2h-1.2zM226.0 118.0h1.2v1.2h-1.2zM234.8 116.5h1.2v1.2h-1.2zM235.9 112.2h1.2v1.2h-1.2zM237.5 109.0h1.2v1.2h-1.2zM236.8 113.6h1.2v1.2h-1.2zM232.8 110.4h1.2v1.2h-1.2zM233.8 123.9h1.2v1.2h-1.2zM246.0 102.5h1.2v1.2h-1.2zM241.7 109.6h1.2v1.2h-1.2zM235.2 115.0h1.2v1.2h-1.2zM232.7 112.7h1.2v1.2h-1.2zM227.3 112.3h1.2v1.2h-1.2zM229.1 121.7h1.2v1.2h-1.2zM230.7 118.2h1.2v1.2h-1.2zM228.8 112.3h1.2v1.2h-1.2zM244.4 114.7h1.2v1.2h-1.2zM236.0 110.3h1.2v1.2h-1.2zM244.6 111.8h1.2v1.2h-1.2zM222.6 121.5h1.2v1.2h-1.2zM230.9 118.2h1.2v1.2h-1.2zM236.7 112.0h1.2v1.2h-1.2zM238.7 111.9h1.2v1.2h-1.2zM241.8 109.8h1.2v1.2h-1.2zM240.7 104.9h1.2v1.2h-1.2zM235.8 111.6h1.2v1.2h-1.2zM231.9 109.9h1.2v1.2h-1.2zM232.1 121.9h1.2v1.2h-1.2zM236.9 110.7h1.2v1.2h-1.2zM238.5 118.6h1.2v1.2h-1.2zM228.8 117.9h1.2v1.2h-1.2zM235.0 113.4h1.2v1.2h-1.2zM245.7 105.9h1.2v1.2h-1.2zM229.3 116.4h1.2v1.2h-1.2zM231.7 119.1h1.2v1.2h-1.2zM229.7 117.9h1.2v1.2h-1.2zM225.0 123.6h1.2v1.2h-1.2zM241.5 110.4h1.2v1.2h-1.2zM233.9 113.7h1.2v1.2h-1.2zM230.4 111.9h1.2v1.2h-1.2zM239.4 112.0h1.2v1.2h-1.2zM230.3 117.6h1.2v1.2h-1.2zM230.5 113.3h1.2v1.2h-1.2zM228.0 116.8h1.2v1.2h-1.2zM227.4 112.5h1.2v1.2h-1.2zM231.9 110.0h1.2v1.2h-1.2zM232.2 112.0h1.2v1.2h-1.2zM225.2 121.4h1.2v1.2h-1.2zM249.5 106.9h1.2v1.2h-1.2zM238.1 116.8h1.2v1.2h-1.2zM227.8 121.4h1.2v1.2h-1.2zM234.3 110.6h1.2v1.2h-1.2zM233.7 118.9h1.2v1.2h-1.2zM243.2 111.0h1.2v1.2h-1.2zM232.6 117.5h1.2v1.2h-1.2zM239.1 115.1h1.2v1.2h-1.2zM230.9 117.8h1.2v1.2h-1.2zM231.3 120.0h1.2v1.2h-1.2zM227.6 120.2h1.2v1.2h-1.2zM236.9 115.6h1.2v1.2h-1.2zM225.5 116.7h1.2v1.2h-1.2zM238.5 110.8h1.2v1.2h-1.2zM228.5 114.5h1.2v1.2h-1.2zM229.1 115.9h1.2v1.2h-1.2zM241.2 108.7h1.2v1.2h-1.2zM239.5 108.1h1.2v1.2h-1.2zM245.5 107.1h1.2v1.2h-1.2zM232.1 114.4h1.2v1.2h-1.2zM233.4 113.3h1.2v1.2h-1.2zM242.5 111.5h1.2v1.2h-1.2zM250.0 102.3h1.2v1.2h-1.2zM230.3 122.3h1.2v1.2h-1.2zM244.9 105.3h1.2v1.2h-1.2zM224.1 121.7h1.2v1.2h-1.2zM232.7 111.1h1.2v1.2h-1.2zM235.9 114.8h1.2v1.2h-1.2zM241.5 110.3h1.2v1.2h-1.2zM229.2 117.7h1.2v1.2h-1.2zM235.2 113.7h1.2v1.2h-1.2zM235.6 117.9h1.2v1.2h-1.2zM234.9 117.1h1.2v1.2h-1.2zM228.8 109.7h1.2v1.2h-1.2zM234.6 115.9h1.2v1.2h-1.2zM239.0 112.6h1.2v1.2h-1.2zM234.2 115.3h1.2v1.2h-1.2zM238.6 113.7h1.2v1.2h-1.2zM234.4 116.5h1.2v1.2h-1.2zM234.2 113.9h1.2v1.2h-1.2zM230.4 116.8h1.2v1.2h-1.2zM225.5 118.5h1.2v1.2h-1.2zM236.2 105.2h1.2v1.2h-1.2zM230.8 121.3h1.2v1.2h-1.2zM229.8 123.1h1.2v1.2h-1.2zM235.2 114.7h1.2v1.2h-1.2zM231.6 114.7h1.2v1.2h-1.2zM223.2 120.6h1.2v1.2h-1.2zM227.3 126.8h1.2v1.2h-1.2zM240.7 109.1h1.2v1.2h-1.2zM236.5 112.0h1.2v1.2h-1.2zM230.1 115.2h1.2v1.2h-1.2zM240.8 111.2h1.2v1.2h-1.2zM233.9 117.3h1.2v1.2h-1.2zM227.7 117.5h1.2v1.2h-1.2zM227.3 119.3h1.2v1.2h-1.2zM227.3 123.3h1.2v1.2h-1.2zM234.0 109.7h1.2v1.2h-1.2zM231.3 111.5h1.2v1.2h-1.2zM230.9 114.0h1.2v1.2h-1.2zM240.0 112.4h1.2v1.2h-1.2zM235.1 113.2h1.2v1.2h-1.2zM231.4 121.1h1.2v1.2h-1.2zM239.3 107.9h1.2v1.2h-1.2zM230.9 117.2h1.2v1.2h-1.2zM235.8 114.8h1.2v1.2h-1.2zM238.2 110.0h1.2v1.2h-1.2zM227.9 118.4h1.2v1.2h-1.2zM234.2 114.3h1.2v1.2h-1.2zM229.4 120.0h1.2v1.2h-1.2zM233.3 123.0h1.2v1.2h-1.2zM233.6 122.4h1.2v1.2h-1.2zM228.2 119.1h1.2v1.2h-1.2zM229.4 115.6h1.2v1.2h-1.2zM231.3 122.1h1.2v1.2h-1.2zM237.9 107.1h1.2v1.2h-1.2zM230.0 122.1h1.2v1.2h-1.2zM231.5 120.4h1.2v1.2h-1.2zM239.1 103.6h1.2v1.2h-1.2zM234.8 110.3h1.2v1.2h-1.2zM233.6 118.4h1.2v1.2h-1.2zM233.2 115.2h1.2v1.2h-1.2zM240.8 116.2h1.2v1.2h-1.2zM240.0 105.5h1.2v1.2h-1.2zM232.7 114.3h1.2v1.2h-1.2zM231.2 118.4h1.2v1.2h-1.2zM234.3 122.0h1.2v1.2h-1.2zM230.5 110.0h1.2v1.2h-1.2zM232.9 119.4h1.2v1.2h-1.2zM240.0 111.2h1.2v1.2h-1.2zM234.4 116.0h1.2v1.2h-1.2zM234.9 107.4h1.2v1.2h-1.2zM226.0 119.9h1.2v1.2h-1.2zM231.0 114.9h1.2v1.2h-1.2zM232.5 111.5h1.2v1.2h-1.2zM233.9 118.6h1.2v1.2h-1.2zM240.5 106.4h1.2v1.2h-1.2zM231.3 124.0h1.2v1.2h-1.2zM228.1 118.5h1.2v1.2h-1.2zM227.4 121.1h1.2v1.2h-1.2zM225.1 121.0h1.2v1.2h-1.2zM232.6 113.4h1.2v1.2h-1.2zM237.6 106.9h1.2v1.2h-1.2zM238.6 112.3h1.2v1.2h-1.2zM230.2 115.2h1.2v1.2h-1.2zM234.4 119.8h1.2v1.2h-1.2zM223.6 124.5h1.2v1.2h-1.2zM236.8 107.4h1.2v1.2h-1.2zM231.1 119.6h1.2v1.2h-1.2zM234.8 118.2h1.2v1.2h-1.2zM226.6 117.3h1.2v1.2h-1.2zM228.9 116.4h1.2v1.2h-1.2zM232.6 117.4h1.2v1.2h-1.2zM229.8 113.3h1.2v1.2h-1.2zM226.5 125.3h1.2v1.2h-1.2zM231.5 118.3h1.2v1.2h-1.2zM232.8 117.3h1.2v1.2h-1.2zM229.7 115.2h1.2v1.2h-1.2zM238.7 107.1h1.2v1.2h-1.2zM233.6 110.6h1.2v1.2h-1.2zM232.3 112.4h1.2v1.2h-1.2zM232.1 112.2h1.2v1.2h-1.2zM237.7 109.1h1.2v1.2h-1.2zM228.9 116.4h1.2v1.2h-1.2zM241.2 108.9h1.2v1.2h-1.2zM230.7 111.6h1.2v1.2h-1.2zM234.1 117.7h1.2v1.2h-1.2zM230.7 123.0h1.2v1.2h-1.2zM241.5 112.1h1.2v1.2h-1.2zM237.8 117.6h1.2v1.2h-1.2zM239.8 111.7h1.2v1.2h-1.2zM237.0 109.3h1.2v1.2h-1.2zM229.6 121.4h1.2v1.2h-1.2zM230.9 119.4h1.2v1.2h-1.2zM235.8 118.0h1.2v1.2h-1.2zM227.5 116.5h1.2v1.2h-1.2zM231.0 113.2h1.2v1.2h-1.2zM236.7 120.4h1.2v1.2h-1.2zM233.5 111.9h1.2v1.2h-1.2zM233.5 112.8h1.2v1.2h-1.2zM229.4 114.6h1.2v1.2h-1.2zM232.8 115.9h1.2v1.2h-1.2zM224.0 118.0h1.2v1.2h-1.2zM229.1 122.3h1.2v1.2h-1.2zM233.0 116.6h1.2v1.2h-1.2zM234.6 110.0h1.2v1.2h-1.2zM228.3 115.2h1.2v1.2h-1.2zM242.6 107.7h1.2v1.2h-1.2zM232.5 120.0h1.2v1.2h-1.2zM238.5 110.8h1.2v1.2h-1.2zM228.3 117.9h1.2v1.2h-1.2zM235.6 119.9h1.2v1.2h-1.2zM231.7 115.5h1.2v1.2h-1.2zM233.7 117.3h1.2v1.2h-1.2zM237.2 119.9h1.2v1.2h-1.2zM230.2 117.1h1.2v1.2h-1.2zM237.0 116.3h1.2v1.2h-1.2zM238.9 107.4h1.2v1.2h-1.2zM236.5 112.9h1.2v1.2h-1.2zM231.8 115.3h1.2v1.2h-1.2zM224.2 121.7h1.2v1.2h-1.2zM230.7 115.4h1.2v1.2h-1.2zM227.4 120.9h1.2v1.2h-1.2zM238.1 118.4h1.2v1.2h-1.2zM237.1 113.7h1.2v1.2h-1.2zM232.1 114.7h1.2v1.2h-1.2zM233.8 114.1h1.2v1.2h-1.2zM235.9 115.0h1.2v1.2h-1.2zM238.5 115.1h1.2v1.2h-1.2zM235.5 104.2h1.2v1.2h-1.2zM239.6 107.4h1.2v1.2h-1.2zM223.2 125.5h1.2v1.2h-1.2zM224.9 116.9h1.2v1.2h-1.2zM227.7 117.7h1.2v1.2h-1.2zM225.5 116.4h1.2v1.2h-1.2zM222.8 119.9h1.2v1.2h-1.2zM244.0 113.0h1.2v1.2h-1.2zM238.2 106.3h1.2v1.2h-1.2zM237.6 107.9h1.2v1.2h-1.2zM232.7 114.5h1.2v1.2h-1.2zM229.5 116.1h1.2v1.2h-1.2zM228.4 113.8h1.2v1.2h-1.2zM231.7 114.0h1.2v1.2h-1.2zM233.0 119.2h1.2v1.2h-1.2zM225.2 117.6h1.2v1.2h-1.2zM229.1 118.5h1.2v1.2h-1.2zM241.0 109.4h1.2v1.2h-1.2zM232.1 112.1h1.2v1.2h-1.2zM224.4 116.0h1.2v1.2h-1.2zM235.8 120.3h1.2v1.2h-1.2zM224.1 117.3h1.2v1.2h-1.2zM234.5 115.5h1.2v1.2h-1.2zM237.5 113.2h1.2v1.2h-1.2zM232.6 120.3h1.2v1.2h-1.2zM232.0 116.8h1.2v1.2h-1.2zM237.9 109.5h1.2v1.2h-1.2zM231.0 119.1h1.2v1.2h-1.2zM242.2 104.8h1.2v1.2h-1.2zM234.7 117.3h1.2v1.2h-1.2zM236.0 113.3h1.2v1.2h-1.2zM227.1 119.2h1.2v1.2h-1.2zM233.8 107.1h1.2v1.2h-1.2zM237.1 107.8h1.2v1.2h-1.2zM241.1 110.4h1.2v1.2h-1.2zM228.9 120.0h1.2v1.2h-1.2zM240.5 119.8h1.2v1.2h-1.2zM235.2 113.4h1.2v1.2h-1.2zM232.4 113.9h1.2v1.2h-1.2zM244.7 103.6h1.2v1.2h-1.2zM232.9 115.6h1.2v1.2h-1.2zM240.1 107.3h1.2v1.2h-1.2zM219.5 121.7h1.2v1.2h-1.2zM223.3 117.6h1.2v1.2h-1.2zM243.6 113.4h1.2v1.2h-1.2zM240.8 104.5h1.2v1.2h-1.2zM232.5 121.9h1.2v1.2h-1.2zM236.3 111.3h1.2v1.2h-1.2zM235.2 121.7h1.2v1.2h-1.2zM234.8 116.5h1.2v1.2h-1.2zM233.3 116.3h1.2v1.2h-1.2zM235.2 114.7h1.2v1.2h-1.2zM233.9 111.7h1.2v1.2h-1.2zM230.5 115.5h1.2v1.2h-1.2zM247.4 108.5h1.2v1.2h-1.2zM234.1 118.0h1.2v1.2h-1.2zM225.2 116.3h1.2v1.2h-1.2zM236.2 116.4h1.2v1.2h-1.2zM239.7 100.9h1.2v1.2h-1.2zM237.9 108.2h1.2v1.2h-1.2zM233.8 114.9h1.2v1.2h-1.2zM242.6 111.4h1.2v1.2h-1.2zM234.1 115.2h1.2v1.2h-1.2zM236.2 116.6h1.2v1.2h-1.2zM240.6 117.9h1.2v1.2h-1.2zM235.2 117.5h1.2v1.2h-1.2zM234.3 113.0h1.2v1.2h-1.2zM238.1 108.6h1.2v1.2h-1.2zM236.4 105.8h1.2v1.2h-1.2zM246.3 105.9h1.2v1.2h-1.2zM227.8 117.1h1.2v1.2h-1.2zM236.0 116.5h1.2v1.2h-1.2zM237.1 113.1h1.2v1.2h-1.2zM231.2 122.0h1.2v1.2h-1.2zM226.8 116.9h1.2v1.2h-1.2zM229.8 116.9h1.2v1.2h-1.2zM235.7 118.9h1.2v1.2h-1.2zM229.8 118.8h1.2v1.2h-1.2zM230.2 118.1h1.2v1.2h-1.2zM241.2 110.0h1.2v1.2h-1.2zM230.8 116.5h1.2v1.2h-1.2zM226.2 117.2h1.2v1.2h-1.2zM225.6 112.4h1.2v1.2h-1.2zM242.4 102.3h1.2v1.2h-1.2zM239.3 110.6h1.2v1.2h-1.2zM243.4 100.6h1.2v1.2h-1.2zM229.1 116.7h1.2v1.2h-1.2zM232.5 113.5h1.2v1.2h-1.2zM237.4 112.9h1.2v1.2h-1.2zM226.6 123.0h1.2v1.2h-1.2zM236.5 111.6h1.2v1.2h-1.2zM243.4 105.3h1.2v1.2h-1.2zM232.2 117.3h1.2v1.2h-1.2zM228.7 112.7h1.2v1.2h-1.2zM236.2 105.4h1.2v1.2h-1.2zM231.9 122.4h1.2v1.2h-1.2zM235.5 113.3h1.2v1.2h-1.2zM238.9 105.3h1.2v1.2h-1.2zM230.4 115.4h1.2v1.2h-1.2zM231.7 117.3h1.2v1.2h-1.2zM229.8 120.0h1.2v1.2h-1.2zM246.4 109.9h1.2v1.2h-1.2zM234.0 115.1h1.2v1.2h-1.2zM228.8 121.9h1.2v1.2h-1.2zM235.1 116.2h1.2v1.2h-1.2zM235.8 120.1h1.2v1.2h-1.2zM217.2 120.0h1.2v1.2h-1.2zM237.2 112.4h1.2v1.2h-1.2zM230.4 116.6h1.2v1.2h-1.2zM243.3 111.6h1.2v1.2h-1.2zM225.7 120.5h1.2v1.2h-1.2zM228.0 118.9h1.2v1.2h-1.2zM231.8 120.4h1.2v1.2h-1.2zM229.9 125.2h1.2v1.2h-1.2zM236.9 113.6h1.2v1.2h-1.2zM230.9 118.4h1.2v1.2h-1.2zM234.8 114.5h1.2v1.2h-1.2zM229.6 121.7h1.2v1.2h-1.2zM243.0 108.6h1.2v1.2h-1.2zM243.6 99.2h1.2v1.2h-1.2zM246.1 102.6h1.2v1.2h-1.2zM232.2 120.4h1.2v1.2h-1.2zM247.2 113.8h1.2v1.2h-1.2zM226.0 118.0h1.2v1.2h-1.2zM226.6 110.4h1.2v1.2h-1.2zM228.8 123.9h1.2v1.2h-1.2zM231.2 114.6h1.2v1.2h-1.2zM248.9 107.1h1.2v1.2h-1.2zM232.8 111.8h1.2v1.2h-1.2zM238.3 103.9h1.2v1.2h-1.2zM230.2 112.3h1.2v1.2h-1.2zM227.6 122.3h1.2v1.2h-1.2zM243.1 113.0h1.2v1.2h-1.2zM241.5 102.9h1.2v1.2h-1.2zM244.3 124.7h1.2v1.2h-1.2zM243.5 104.1h1.2v1.2h-1.2zM220.4 120.1h1.2v1.2h-1.2zM239.4 107.1h1.2v1.2h-1.2zM251.3 89.8h1.2v1.2h-1.2zM237.2 114.7h1.2v1.2h-1.2zM230.9 120.0h1.2v1.2h-1.2zM221.6 113.7h1.2v1.2h-1.2zM230.4 120.9h1.2v1.2h-1.2zM237.2 112.1h1.2v1.2h-1.2zM229.6 118.3h1.2v1.2h-1.2zM214.8 110.5h1.2v1.2h-1.2zM248.5 98.6h1.2v1.2h-1.2zM230.5 118.4h1.2v1.2h-1.2zM233.5 117.0h1.2v1.2h-1.2zM246.2 108.9h1.2v1.2h-1.2zM232.5 128.3h1.2v1.2h-1.2zM240.5 116.6h1.2v1.2h-1.2zM229.2 114.7h1.2v1.2h-1.2zM235.6 120.3h1.2v1.2h-1.2zM230.2 112.8h1.2v1.2h-1.2zM240.5 105.5h1.2v1.2h-1.2zM236.8 120.3h1.2v1.2h-1.2zM239.4 126.1h1.2v1.2h-1.2zM229.4 121.7h1.2v1.2h-1.2zM228.8 115.8h1.2v1.2h-1.2zM233.5 116.6h1.2v1.2h-1.2zM256.3 107.1h1.2v1.2h-1.2zM218.2 133.0h1.2v1.2h-1.2zM239.1 122.1h1.2v1.2h-1.2zM228.4 119.5h1.2v1.2h-1.2zM232.7 120.9h1.2v1.2h-1.2zM234.6 126.8h1.2v1.2h-1.2zM241.4 120.5h1.2v1.2h-1.2zM229.9 119.1h1.2v1.2h-1.2zM229.7 117.2h1.2v1.2h-1.2zM225.8 127.6h1.2v1.2h-1.2zM246.3 93.5h1.2v1.2h-1.2zM226.1 113.2h1.2v1.2h-1.2zM239.1 114.6h1.2v1.2h-1.2zM230.0 112.7h1.2v1.2h-1.2zM248.2 118.4h1.2v1.2h-1.2zM226.3 121.4h1.2v1.2h-1.2zM229.6 117.9h1.2v1.2h-1.2zM225.6 115.9h1.2v1.2h-1.2zM229.7 115.6h1.2v1.2h-1.2zM241.4 111.5h1.2v1.2h-1.2zM226.3 119.9h1.2v1.2h-1.2zM231.1 110.6h1.2v1.2h-1.2zM222.5 121.8h1.2v1.2h-1.2zM235.4 121.1h1.2v1.2h-1.2zM238.0 110.1h1.2v1.2h-1.2zM226.8 126.5h1.2v1.2h-1.2zM238.4 119.7h1.2v1.2h-1.2zM239.7 113.3h1.2v1.2h-1.2zM233.4 118.3h1.2v1.2h-1.2zM245.4 104.8h1.2v1.2h-1.2zM248.0 106.6h1.2v1.2h-1.2zM247.3 106.6h1.2v1.2h-1.2zM240.5 104.5h1.2v1.2h-1.2zM246.4 100.0h1.2v1.2h-1.2zM254.8 106.7h1.2v1.2h-1.2zM241.0 104.2h1.2v1.2h-1.2zM258.0 98.1h1.2v1.2h-1.2zM250.5 107.7h1.2v1.2h-1.2zM237.6 100.4h1.2v1.2h-1.2zM257.9 97.5h1.2v1.2h-1.2zM247.7 92.3h1.2v1.2h-1.2zM264.3 62.1h1.2v1.2h-1.2zM238.5 98.9h1.2v1.2h-1.2zM253.8 110.0h1.2v1.2h-1.2zM244.4 102.2h1.2v1.2h-1.2zM242.7 104.3h1.2v1.2h-1.2zM248.7 108.4h1.2v1.2h-1.2zM241.2 103.4h1.2v1.2h-1.2zM239.3 101.3h1.2v1.2h-1.2zM243.7 94.4h1.2v1.2h-1.2zM254.3 106.3h1.2v1.2h-1.2zM269.0 93.5h1.2v1.2h-1.2zM239.0 103.5h1.2v1.2h-1.2zM243.6 86.5h1.2v1.2h-1.2zM236.6 94.6h1.2v1.2h-1.2zM251.9 89.2h1.2v1.2h-1.2zM246.1 101.6h1.2v1.2h-1.2zM246.9 89.3h1.2v1.2h-1.2zM248.6 93.8h1.2v1.2h-1.2zM239.6 102.8h1.2v1.2h-1.2zM270.9 94.4h1.2v1.2h-1.2zM254.8 76.7h1.2v1.2h-1.2zM248.9 110.2h1.2v1.2h-1.2zM262.1 91.4h1.2v1.2h-1.2zM246.2 108.9h1.2v1.2h-1.2zM242.4 89.0h1.2v1.2h-1.2zM244.3 93.4h1.2v1.2h-1.2zM243.6 104.4h1.2v1.2h-1.2zM242.8 81.7h1.2v1.2h-1.2zM271.4 75.2h1.2v1.2h-1.2zM242.7 94.8h1.2v1.2h-1.2zM245.8 86.5h1.2v1.2h-1.2zM277.4 75.0h1.2v1.2h-1.2zM245.2 105.8h1.2v1.2h-1.2zM258.9 95.7h1.2v1.2h-1.2zM257.8 90.6h1.2v1.2h-1.2zM260.1 103.2h1.2v1.2h-1.2zM267.7 88.0h1.2v1.2h-1.2zM253.8 84.2h1.2v1.2h-1.2zM240.7 99.9h1.2v1.2h-1.2zM267.3 97.4h1.2v1.2h-1.2zM246.6 109.0h1.2v1.2h-1.2zM250.9 108.2h1.2v1.2h-1.2zM246.7 102.2h1.2v1.2h-1.2zM249.4 103.3h1.2v1.2h-1.2zM271.2 98.3h1.2v1.2h-1.2zM246.4 104.7h1.2v1.2h-1.2zM248.4 112.2h1.2v1.2h-1.2zM261.9 91.9h1.2v1.2h-1.2zM240.3 102.1h1.2v1.2h-1.2zM254.6 106.7h1.2v1.2h-1.2zM243.5 106.3h1.2v1.2h-1.2zM271.9 74.8h1.2v1.2h-1.2zM244.3 103.4h1.2v1.2h-1.2zM248.3 110.5h1.2v1.2h-1.2zM263.7 78.3h1.2v1.2h-1.2zM241.7 106.1h1.2v1.2h-1.2zM238.4 94.6h1.2v1.2h-1.2zM244.2 103.4h1.2v1.2h-1.2zM244.5 92.9h1.2v1.2h-1.2zM287.9 66.9h1.2v1.2h-1.2zM238.1 94.8h1.2v1.2h-1.2zM245.7 104.2h1.2v1.2h-1.2zM245.1 108.2h1.2v1.2h-1.2zM270.0 103.3h1.2v1.2h-1.2zM293.1 85.1h1.2v1.2h-1.2zM245.0 101.1h1.2v1.2h-1.2zM247.5 107.9h1.2v1.2h-1.2zM238.2 89.7h1.2v1.2h-1.2zM254.9 104.8h1.2v1.2h-1.2zM229.5 78.0h1.2v1.2h-1.2zM305.3 52.9h1.2v1.2h-1.2zM211.9 98.7h1.2v1.2h-1.2zM205.8 115.0h1.2v1.2h-1.2z" fill="#55583f" fill-opacity="0.42"/>
<line x1="187.5" y1="35.6" x2="187.5" y2="151.6" stroke="#231f20" stroke-width="1.3" />
<line x1="186.9" y1="151" x2="319.3" y2="151" stroke="#231f20" stroke-width="1.3" />
<line x1="184.4" y1="146.7" x2="187.5" y2="146.7" stroke="#231f20" stroke-width="0.9" />
<line x1="192.20000000000002" y1="151" x2="192.20000000000002" y2="154" stroke="#231f20" stroke-width="0.9" />
<text x="180.3" y="149.6" font-size="8.2" text-anchor="end">−2</text>
<text x="192.4" y="164.6" font-size="8.2" text-anchor="middle">−2</text>
<line x1="184.4" y1="130.35" x2="187.5" y2="130.35" stroke="#231f20" stroke-width="0.9" />
<line x1="212.5" y1="151" x2="212.5" y2="154" stroke="#231f20" stroke-width="0.9" />
<text x="180.3" y="133.25" font-size="8.2" text-anchor="end">−1</text>
<text x="212.7" y="164.6" font-size="8.2" text-anchor="middle">−1</text>
<line x1="184.4" y1="114.0" x2="187.5" y2="114.0" stroke="#231f20" stroke-width="0.9" />
<line x1="232.8" y1="151" x2="232.8" y2="154" stroke="#231f20" stroke-width="0.9" />
<text x="180.3" y="116.9" font-size="8.2" text-anchor="end">0</text>
<text x="233.0" y="164.6" font-size="8.2" text-anchor="middle">0</text>
<line x1="184.4" y1="97.65" x2="187.5" y2="97.65" stroke="#231f20" stroke-width="0.9" />
<line x1="253.10000000000002" y1="151" x2="253.10000000000002" y2="154" stroke="#231f20" stroke-width="0.9" />
<text x="180.3" y="100.55000000000001" font-size="8.2" text-anchor="end">1</text>
<text x="253.3" y="164.6" font-size="8.2" text-anchor="middle">1</text>
<line x1="184.4" y1="81.3" x2="187.5" y2="81.3" stroke="#231f20" stroke-width="0.9" />
<line x1="273.40000000000003" y1="151" x2="273.40000000000003" y2="154" stroke="#231f20" stroke-width="0.9" />
<text x="180.3" y="84.2" font-size="8.2" text-anchor="end">2</text>
<text x="273.6" y="164.6" font-size="8.2" text-anchor="middle">2</text>
<line x1="184.4" y1="64.94999999999999" x2="187.5" y2="64.94999999999999" stroke="#231f20" stroke-width="0.9" />
<line x1="293.70000000000005" y1="151" x2="293.70000000000005" y2="154" stroke="#231f20" stroke-width="0.9" />
<text x="180.3" y="67.85" font-size="8.2" text-anchor="end">3</text>
<text x="293.90000000000003" y="164.6" font-size="8.2" text-anchor="middle">3</text>
<line x1="184.4" y1="48.599999999999994" x2="187.5" y2="48.599999999999994" stroke="#231f20" stroke-width="0.9" />
<line x1="314.0" y1="151" x2="314.0" y2="154" stroke="#231f20" stroke-width="0.9" />
<text x="180.3" y="51.49999999999999" font-size="8.2" text-anchor="end">4</text>
<text x="314.2" y="164.6" font-size="8.2" text-anchor="middle">4</text>
<text x="253.4" y="28.5" font-size="9.6" text-anchor="middle" textLength="49.4" lengthAdjust="spacingAndGlyphs">all peptides</text>
<text x="253" y="176.2" font-size="9.8" text-anchor="middle" textLength="62" lengthAdjust="spacingAndGlyphs" style="stroke-width:0.2px">log2 (S/I) at 10 min</text>
<text x="0" y="0" font-size="9.6" text-anchor="middle" textLength="62.5" lengthAdjust="spacingAndGlyphs" style="stroke-width:0.2px" transform="translate(165.6,93.6) rotate(-90)">log2 (S/I) at 30 min</text>
<line x1="382.6" y1="34.5" x2="382.6" y2="151.5" stroke="#cfcfcf" stroke-width="0.8" />
<line x1="359.8" y1="128.5" x2="475" y2="128.5" stroke="#cfcfcf" stroke-width="0.8" />
<line x1="360" y1="34.3" x2="360" y2="152.2" stroke="#231f20" stroke-width="1.35" />
<line x1="359.4" y1="151.6" x2="474.5" y2="151.6" stroke="#231f20" stroke-width="1.3" />
<line x1="357" y1="151.4" x2="360" y2="151.4" stroke="#231f20" stroke-width="0.9" />
<line x1="359.70000000000005" y1="151.6" x2="359.70000000000005" y2="154.4" stroke="#231f20" stroke-width="0.9" />
<text x="353.2" y="154.3" font-size="8.2" text-anchor="end">−1</text>
<text x="359.90000000000003" y="163.6" font-size="8.2" text-anchor="middle">−1</text>
<line x1="357" y1="128.5" x2="360" y2="128.5" stroke="#231f20" stroke-width="0.9" />
<line x1="382.6" y1="151.6" x2="382.6" y2="154.4" stroke="#231f20" stroke-width="0.9" />
<text x="353.2" y="131.4" font-size="8.2" text-anchor="end">0</text>
<text x="382.8" y="163.6" font-size="8.2" text-anchor="middle">0</text>
<line x1="357" y1="105.6" x2="360" y2="105.6" stroke="#231f20" stroke-width="0.9" />
<line x1="405.5" y1="151.6" x2="405.5" y2="154.4" stroke="#231f20" stroke-width="0.9" />
<text x="353.2" y="108.5" font-size="8.2" text-anchor="end">1</text>
<text x="405.7" y="163.6" font-size="8.2" text-anchor="middle">1</text>
<line x1="357" y1="82.7" x2="360" y2="82.7" stroke="#231f20" stroke-width="0.9" />
<line x1="428.40000000000003" y1="151.6" x2="428.40000000000003" y2="154.4" stroke="#231f20" stroke-width="0.9" />
<text x="353.2" y="85.60000000000001" font-size="8.2" text-anchor="end">2</text>
<text x="428.6" y="163.6" font-size="8.2" text-anchor="middle">2</text>
<line x1="357" y1="59.80000000000001" x2="360" y2="59.80000000000001" stroke="#231f20" stroke-width="0.9" />
<line x1="451.3" y1="151.6" x2="451.3" y2="154.4" stroke="#231f20" stroke-width="0.9" />
<text x="353.2" y="62.70000000000001" font-size="8.2" text-anchor="end">3</text>
<text x="451.5" y="163.6" font-size="8.2" text-anchor="middle">3</text>
<line x1="357" y1="36.900000000000006" x2="360" y2="36.900000000000006" stroke="#231f20" stroke-width="0.9" />
<line x1="474.20000000000005" y1="151.6" x2="474.20000000000005" y2="154.4" stroke="#231f20" stroke-width="0.9" />
<text x="353.2" y="39.800000000000004" font-size="8.2" text-anchor="end">4</text>
<text x="474.40000000000003" y="163.6" font-size="8.2" text-anchor="middle">4</text>
<text x="418" y="27.8" font-size="9.6" text-anchor="middle" textLength="86" lengthAdjust="spacingAndGlyphs">cytoskeleton-related</text>
<text x="416" y="178.2" font-size="9.8" text-anchor="middle" textLength="63" lengthAdjust="spacingAndGlyphs" style="stroke-width:0.2px">log2 (S/I) at 10 min</text>
<text x="0" y="0" font-size="9.6" text-anchor="middle" textLength="63" lengthAdjust="spacingAndGlyphs" style="stroke-width:0.2px" transform="translate(338.4,94.2) rotate(-90)">log2 (S/I) at 30 min</text>
<circle cx="382.8" cy="69.2" r="2.0" fill="none" stroke="#3aa83a" stroke-width="0.85"/>
<circle cx="382.8" cy="76.2" r="2.0" fill="none" stroke="#3aa83a" stroke-width="0.85"/>
<circle cx="382.8" cy="108.2" r="2.0" fill="none" stroke="#3aa83a" stroke-width="0.85"/>
<circle cx="382.8" cy="110.8" r="2.0" fill="none" stroke="#3aa83a" stroke-width="0.85"/>
<circle cx="381.2" cy="119.2" r="2.0" fill="none" stroke="#3aa83a" stroke-width="0.85"/>
<circle cx="378.5" cy="122.3" r="2.0" fill="none" stroke="#3aa83a" stroke-width="0.85"/>
<circle cx="383" cy="125.4" r="2.0" fill="none" stroke="#3aa83a" stroke-width="0.85"/>
<circle cx="383.8" cy="128.5" r="2.0" fill="none" stroke="#3aa83a" stroke-width="0.85"/>
<circle cx="390.8" cy="123.5" r="2.0" fill="none" stroke="#3aa83a" stroke-width="0.85"/>
<circle cx="394.2" cy="122" r="2.0" fill="none" stroke="#3aa83a" stroke-width="0.85"/>
<circle cx="400" cy="128.5" r="2.0" fill="none" stroke="#3aa83a" stroke-width="0.85"/>
<circle cx="400.5" cy="138.5" r="2.0" fill="none" stroke="#3aa83a" stroke-width="0.85"/>
<circle cx="408.9" cy="128.5" r="2.0" fill="none" stroke="#3aa83a" stroke-width="0.85"/>
<circle cx="413" cy="128.5" r="2.0" fill="none" stroke="#3aa83a" stroke-width="0.85"/>
<circle cx="413" cy="112.8" r="2.0" fill="none" stroke="#3aa83a" stroke-width="0.85"/>
<circle cx="401.2" cy="111.5" r="2.0" fill="none" stroke="#3aa83a" stroke-width="0.85"/>
<circle cx="399.7" cy="112.3" r="2.0" fill="none" stroke="#3aa83a" stroke-width="0.85"/>
<circle cx="400.8" cy="96.2" r="2.0" fill="none" stroke="#3aa83a" stroke-width="0.85"/>
<circle cx="401.5" cy="99" r="2.0" fill="none" stroke="#3aa83a" stroke-width="0.85"/>
<circle cx="404.6" cy="100.8" r="2.0" fill="none" stroke="#3aa83a" stroke-width="0.85"/>
<circle cx="401.2" cy="103.8" r="2.0" fill="none" stroke="#3aa83a" stroke-width="0.85"/>
<circle cx="405.4" cy="106.6" r="2.0" fill="none" stroke="#3aa83a" stroke-width="0.85"/>
<circle cx="408.9" cy="91.5" r="2.0" fill="none" stroke="#3aa83a" stroke-width="0.85"/>
<circle cx="409.5" cy="96.5" r="2.0" fill="none" stroke="#3aa83a" stroke-width="0.85"/>
<circle cx="411.5" cy="86.6" r="2.0" fill="none" stroke="#3aa83a" stroke-width="0.85"/>
<circle cx="419.2" cy="83.5" r="2.0" fill="none" stroke="#3aa83a" stroke-width="0.85"/>
<circle cx="421.5" cy="83.5" r="2.0" fill="none" stroke="#3aa83a" stroke-width="0.85"/>
<circle cx="427.7" cy="82.8" r="2.0" fill="none" stroke="#3aa83a" stroke-width="0.85"/>
<circle cx="419.2" cy="93.4" r="2.0" fill="none" stroke="#3aa83a" stroke-width="0.85"/>
<circle cx="424.6" cy="108.9" r="2.0" fill="none" stroke="#3aa83a" stroke-width="0.85"/>
<circle cx="426.5" cy="64.9" r="2.0" fill="none" stroke="#3aa83a" stroke-width="0.85"/>
<circle cx="427" cy="66.6" r="2.0" fill="none" stroke="#3aa83a" stroke-width="0.85"/>
<circle cx="427.7" cy="69.7" r="2.0" fill="none" stroke="#3aa83a" stroke-width="0.85"/>
<circle cx="434.9" cy="68.8" r="2.0" fill="none" stroke="#3aa83a" stroke-width="0.85"/>
<circle cx="465" cy="96.4" r="2.0" fill="none" stroke="#3aa83a" stroke-width="0.85"/>
<circle cx="386" cy="124" r="2.0" fill="none" stroke="#3aa83a" stroke-width="0.85"/>
<circle cx="388" cy="127.5" r="2.0" fill="none" stroke="#3aa83a" stroke-width="0.85"/>
<circle cx="384" cy="127" r="2.0" fill="none" stroke="#3aa83a" stroke-width="0.85"/>
<path d="M380.4,80.2h4.8l-2.4,4.1z" fill="#b5132f"/>
<path d="M393.4,97.1h4.8l-2.4,4.1z" fill="#b5132f"/>
<path d="M404.2,97.4h4.8l-2.4,4.1z" fill="#b5132f"/>
<path d="M395.8,102.4h4.8l-2.4,4.1z" fill="#b5132f"/>
<path d="M404.5,103.6h4.8l-2.4,4.1z" fill="#b5132f"/>
<path d="M403.4,109.7h4.8l-2.4,4.1z" fill="#b5132f"/>
<path d="M389.1,114.8h4.8l-2.4,4.1z" fill="#b5132f"/>
<path d="M380.4,119.7h4.8l-2.4,4.1z" fill="#b5132f"/>
<path d="M385.0,119.7h4.8l-2.4,4.1z" fill="#b5132f"/>
<path d="M385.3,126.7h4.8l-2.4,4.1z" fill="#b5132f"/>
<path d="M392.2,126.7h4.8l-2.4,4.1z" fill="#b5132f"/>
<path d="M428.4,72.0h4.8l-2.4,4.1z" fill="#b5132f"/>
<path d="M423.4,79.7h4.8l-2.4,4.1z" fill="#b5132f"/>
<path d="M382.6,119.7h4.8l-2.4,4.1z" fill="#b5132f"/>
<rect x="380.7" y="90.2" width="4.2" height="4.2" fill="#6e1d45"/>
<rect x="407.9" y="80.7" width="4.2" height="4.2" fill="#1d3f6b"/>
<path d="M483.8,78.7h5l-2.5,4.2z" fill="#a31a31"/>
<text x="492" y="83.2" font-size="8.2" textLength="12.7" lengthAdjust="spacingAndGlyphs">VIM</text>
<rect x="484" y="90.2" width="4.7" height="4.6" fill="#1d3f6b"/>
<text x="492" y="95" font-size="8.2" textLength="18" lengthAdjust="spacingAndGlyphs">LCP1</text>
<circle cx="486.2" cy="104.9" r="2.3" fill="none" stroke="#3aa83a" stroke-width="0.9"/>
<text x="492" y="107.2" font-size="8.2" textLength="20.8" lengthAdjust="spacingAndGlyphs">others</text>
<text x="7.2" y="213.4" font-size="12.2" font-weight="bold">C</text>
<text x="55.2" y="228.6" font-size="10" textLength="140" lengthAdjust="spacingAndGlyphs">CD4 from 2 independent donors</text>
<line x1="52" y1="232.5" x2="261.7" y2="232.5" stroke="#231f20" stroke-width="0.95" />
<text x="83.5" y="241.5" font-size="7.6" text-anchor="middle">10'</text>
<line x1="71.6" y1="243.5" x2="95.4" y2="243.5" stroke="#231f20" stroke-width="0.95" />
<text x="112.35" y="241.5" font-size="7.6" text-anchor="middle">30'</text>
<line x1="100.5" y1="243.5" x2="124.2" y2="243.5" stroke="#231f20" stroke-width="0.95" />
<text x="140.39999999999998" y="241.5" font-size="7.6" text-anchor="middle">60'</text>
<line x1="128.2" y1="243.5" x2="152.6" y2="243.5" stroke="#231f20" stroke-width="0.95" />
<text x="192.0" y="241.5" font-size="7.6" text-anchor="middle">10'</text>
<line x1="180.2" y1="243.5" x2="203.8" y2="243.5" stroke="#231f20" stroke-width="0.95" />
<text x="218.2" y="241.5" font-size="7.6" text-anchor="middle">30'</text>
<line x1="207" y1="243.5" x2="229.4" y2="243.5" stroke="#231f20" stroke-width="0.95" />
<text x="246.0" y="241.5" font-size="7.6" text-anchor="middle">60'</text>
<line x1="234.3" y1="243.5" x2="257.7" y2="243.5" stroke="#231f20" stroke-width="0.95" />
<text x="44.4" y="252.5" font-size="8.1" text-anchor="end" textLength="25" lengthAdjust="spacingAndGlyphs">Beads:</text>
<text x="60.8" y="252.2" font-size="7.2" text-anchor="middle">NT</text>
<text x="77.6" y="252.2" font-size="7.2" text-anchor="middle">S</text>
<text x="92.6" y="252.2" font-size="7.2" text-anchor="middle">I</text>
<text x="106.2" y="252.2" font-size="7.2" text-anchor="middle">S</text>
<text x="120.8" y="252.2" font-size="7.2" text-anchor="middle">I</text>
<text x="133.5" y="252.2" font-size="7.2" text-anchor="middle">S</text>
<text x="148.5" y="252.2" font-size="7.2" text-anchor="middle">I</text>
<text x="168.5" y="252.2" font-size="7.2" text-anchor="middle">NT</text>
<text x="184.5" y="252.2" font-size="7.2" text-anchor="middle">S</text>
<text x="199.8" y="252.2" font-size="7.2" text-anchor="middle">I</text>
<text x="212" y="252.2" font-size="7.2" text-anchor="middle">S</text>
<text x="226.7" y="252.2" font-size="7.2" text-anchor="middle">I</text>
<text x="239.7" y="252.2" font-size="7.2" text-anchor="middle">S</text>
<text x="253.7" y="252.2" font-size="7.2" text-anchor="middle">I</text>
<text x="268.3" y="249.6" font-size="8.01" textLength="18.2" lengthAdjust="spacingAndGlyphs">[kDa]</text>
<line x1="261.9" y1="260.8" x2="268.6" y2="260.8" stroke="#231f20" stroke-width="0.9" />
<text x="272.7" y="263.4" font-size="8.6">55</text>
<line x1="261.9" y1="283.6" x2="268.6" y2="283.6" stroke="#231f20" stroke-width="0.9" />
<text x="272.7" y="286.3" font-size="8.6">55</text>
<text x="44.4" y="265.4" font-size="8.1" text-anchor="end">pS39</text>
<text x="44.4" y="274.3" font-size="8.4" text-anchor="end" textLength="12.8" lengthAdjust="spacingAndGlyphs">Vim</text>
<text x="44.4" y="295" font-size="8.4" text-anchor="end" textLength="12.8" lengthAdjust="spacingAndGlyphs">Vim</text>
<rect x="162" y="255" width="98.5" height="22.5" fill="#f4f4f4" />
<rect x="55.1" y="266.65" width="14.7" height="1.90" rx="0.95" fill="#ababab" filter="url(#bl)"/>
<rect x="72.5" y="267.80" width="8.5" height="2.40" rx="1.20" fill="#4d4d4d" filter="url(#bl)"/>
<rect x="85.8" y="269.20" width="8.7" height="2.20" rx="1.10" fill="#8c8c8c" filter="url(#bl)"/>
<rect x="97.3" y="268.75" width="9.5" height="3.10" rx="1.55" fill="#080808" filter="url(#bl)"/>
<rect x="110.6" y="269.55" width="10.0" height="2.30" rx="1.15" fill="#666666" filter="url(#bl)"/>
<rect x="124.3" y="269.50" width="9.6" height="3.20" rx="1.60" fill="#080808" filter="url(#bl)"/>
<rect x="137.5" y="269.55" width="11.6" height="2.30" rx="1.15" fill="#737373" filter="url(#bl)"/>
<rect x="54.5" y="288.30" width="15.7" height="2.80" rx="1.40" fill="#1f1f1f" filter="url(#bl)"/>
<rect x="72.5" y="290.00" width="10.0" height="2.80" rx="1.40" fill="#383838" filter="url(#bl)"/>
<rect x="85.3" y="290.40" width="10.5" height="2.80" rx="1.40" fill="#383838" filter="url(#bl)"/>
<rect x="99.0" y="290.90" width="9.9" height="2.80" rx="1.40" fill="#424242" filter="url(#bl)"/>
<rect x="112.7" y="292.10" width="10.0" height="2.80" rx="1.40" fill="#383838" filter="url(#bl)"/>
<rect x="126.5" y="293.00" width="9.9" height="2.80" rx="1.40" fill="#525252" filter="url(#bl)"/>
<rect x="140.3" y="293.00" width="10.9" height="2.80" rx="1.40" fill="#616161" filter="url(#bl)"/>
<rect x="164.6" y="264.05" width="9.6" height="1.90" rx="0.95" fill="#999999" filter="url(#bl)"/>
<rect x="180.1" y="265.05" width="9.8" height="2.30" rx="1.15" fill="#595959" filter="url(#bl)"/>
<rect x="193.8" y="265.95" width="10.0" height="2.10" rx="1.05" fill="#a6a6a6" filter="url(#bl)"/>
<rect x="207.3" y="265.10" width="10.1" height="3.00" rx="1.50" fill="#080808" filter="url(#bl)"/>
<rect x="220.1" y="265.85" width="10.6" height="2.30" rx="1.15" fill="#666666" filter="url(#bl)"/>
<rect x="234.0" y="265.10" width="10.4" height="3.00" rx="1.50" fill="#080808" filter="url(#bl)"/>
<rect x="248.2" y="265.50" width="9.4" height="2.20" rx="1.10" fill="#8c8c8c" filter="url(#bl)"/>
<rect x="164.3" y="289.65" width="10.4" height="2.70" rx="1.35" fill="#191919" filter="url(#bl)"/>
<rect x="179.5" y="289.65" width="11.0" height="2.70" rx="1.35" fill="#1f1f1f" filter="url(#bl)"/>
<rect x="193.8" y="289.65" width="10.9" height="2.70" rx="1.35" fill="#1f1f1f" filter="url(#bl)"/>
<rect x="207.3" y="289.15" width="10.7" height="2.70" rx="1.35" fill="#1f1f1f" filter="url(#bl)"/>
<rect x="220.1" y="289.15" width="10.6" height="2.70" rx="1.35" fill="#1f1f1f" filter="url(#bl)"/>
<rect x="233.3" y="288.65" width="11.1" height="2.70" rx="1.35" fill="#1f1f1f" filter="url(#bl)"/>
<rect x="247.2" y="287.95" width="10.4" height="2.70" rx="1.35" fill="#1f1f1f" filter="url(#bl)"/>
<line x1="177.7" y1="250" x2="177.7" y2="299.4" stroke="#2a2a2a" stroke-width="1.2" />
<text x="333.0" y="212.7" font-size="12.2" font-weight="bold">D</text>
<text x="400.7" y="211" font-size="8.1" text-anchor="middle" textLength="16" lengthAdjust="spacingAndGlyphs">CD4</text>
<rect x="384.6" y="242.6" width="12.7" height="47.4" fill="#3aaa35" />
<rect x="405.1" y="261.56" width="12.7" height="28.439999999999998" fill="#c8102e" />
<line x1="377.2" y1="215.9" x2="377.2" y2="291" stroke="#231f20" stroke-width="1.1" />
<line x1="374.2" y1="290.0" x2="377.2" y2="290.0" stroke="#231f20" stroke-width="0.9" />
<text x="370.4" y="293.0" font-size="8.6" text-anchor="end">0.0</text>
<line x1="374.2" y1="266.3" x2="377.2" y2="266.3" stroke="#231f20" stroke-width="0.9" />
<text x="370.4" y="269.3" font-size="8.6" text-anchor="end">0.5</text>
<line x1="374.2" y1="242.6" x2="377.2" y2="242.6" stroke="#231f20" stroke-width="0.9" />
<text x="370.4" y="245.6" font-size="8.6" text-anchor="end">1.0</text>
<line x1="374.2" y1="218.9" x2="377.2" y2="218.9" stroke="#231f20" stroke-width="0.9" />
<text x="370.4" y="221.9" font-size="8.6" text-anchor="end">1.5</text>
<line x1="376.7" y1="290.5" x2="424.1" y2="290.5" stroke="#231f20" stroke-width="1.0" />
<line x1="390.7" y1="290" x2="390.7" y2="292.2" stroke="#231f20" stroke-width="0.8" />
<line x1="411.4" y1="290" x2="411.4" y2="292.2" stroke="#231f20" stroke-width="0.8" />
<line x1="411.5" y1="261.56" x2="411.5" y2="257.5" stroke="#231f20" stroke-width="0.85" />
<line x1="409.4" y1="257.5" x2="414.2" y2="257.5" stroke="#231f20" stroke-width="0.85" />
<circle cx="386.6" cy="242.6" r="1.3" fill="#111"/>
<circle cx="390.8" cy="242.6" r="1.3" fill="#111"/>
<circle cx="395.0" cy="242.6" r="1.3" fill="#111"/>
<circle cx="409.0" cy="256.6" r="1.3" fill="#111"/>
<circle cx="414.2" cy="257.5" r="1.3" fill="#111"/>
<circle cx="411.6" cy="264.4" r="1.3" fill="#111"/>
<circle cx="411.6" cy="268.7" r="1.3" fill="#111"/>
<path d="M390.5,237.6V233.5H411.5V252.3" fill="none" stroke="#231f20" stroke-width="0.9"/>
<text x="401" y="233.3" font-size="8.1" text-anchor="middle" textLength="5.5" lengthAdjust="spacingAndGlyphs">**</text>
<text x="0" y="0" font-size="9.8" text-anchor="middle" textLength="61.5" lengthAdjust="spacingAndGlyphs" style="stroke-width:0.2px" transform="translate(353.8,251.7) rotate(-90)">Ratio pS39 vim/vim</text>
<text x="390.8" y="303.5" font-size="8.6" text-anchor="middle">S</text>
<text x="411.3" y="303.5" font-size="8.6" text-anchor="middle">I</text>
<line x1="381.4" y1="308.5" x2="420.8" y2="308.5" stroke="#231f20" stroke-width="1.2" />
<text x="400.6" y="318.8" font-size="8.6" text-anchor="middle">30'</text>
<text x="6.9" y="347.9" font-size="12.2" font-weight="bold">E</text>
<text x="51" y="362.7" font-size="10" textLength="20.5" lengthAdjust="spacingAndGlyphs">CD4</text>
<line x1="51" y1="368.5" x2="88.8" y2="368.5" stroke="#231f20" stroke-width="0.95" />
<text x="77" y="377.6" font-size="7.8" text-anchor="middle">30'</text>
<line x1="65.4" y1="379.5" x2="88.8" y2="379.5" stroke="#231f20" stroke-width="0.95" />
<text x="44.4" y="388" font-size="8.1" text-anchor="end" textLength="25.5" lengthAdjust="spacingAndGlyphs">Beads:</text>
<text x="58.6" y="387.4" font-size="7.2" text-anchor="middle">NT</text>
<text x="71" y="387.4" font-size="7.2" text-anchor="middle">S</text>
<text x="84.6" y="387.4" font-size="7.2" text-anchor="middle">I</text>
<text x="42.8" y="404" font-size="8.2" text-anchor="end" textLength="24" lengthAdjust="spacingAndGlyphs">pLCP1</text>
<text x="42.8" y="418.8" font-size="8.2" text-anchor="end" textLength="19.6" lengthAdjust="spacingAndGlyphs">LCP1</text>
<text x="95.2" y="362.8" font-size="10" textLength="139.4" lengthAdjust="spacingAndGlyphs">CD8 from 2 independent donors</text>
<line x1="95.2" y1="367.5" x2="295.3" y2="367.5" stroke="#231f20" stroke-width="0.95" />
<text x="121.65" y="377.4" font-size="7.8" text-anchor="middle">10'</text>
<line x1="109.3" y1="379.5" x2="134" y2="379.5" stroke="#231f20" stroke-width="0.95" />
<text x="149.0" y="377.4" font-size="7.8" text-anchor="middle">30'</text>
<line x1="136.8" y1="379.5" x2="161.2" y2="379.5" stroke="#231f20" stroke-width="0.95" />
<text x="177.25" y="377.4" font-size="7.8" text-anchor="middle">60'</text>
<line x1="163.7" y1="379.5" x2="190.8" y2="379.5" stroke="#231f20" stroke-width="0.95" />
<text x="224.89999999999998" y="377.4" font-size="7.8" text-anchor="middle">10'</text>
<line x1="212.2" y1="379.5" x2="237.6" y2="379.5" stroke="#231f20" stroke-width="0.95" />
<text x="253.10000000000002" y="377.4" font-size="7.8" text-anchor="middle">30'</text>
<line x1="240.4" y1="379.5" x2="265.8" y2="379.5" stroke="#231f20" stroke-width="0.95" />
<text x="281.75" y="377.4" font-size="7.8" text-anchor="middle">60'</text>
<line x1="268" y1="379.5" x2="295.5" y2="379.5" stroke="#231f20" stroke-width="0.95" />
<text x="101.3" y="387.7" font-size="7.2" text-anchor="middle">NT</text>
<text x="116.3" y="387.7" font-size="7.2" text-anchor="middle">S</text>
<text x="129.4" y="387.7" font-size="7.2" text-anchor="middle">I</text>
<text x="141.7" y="387.7" font-size="7.2" text-anchor="middle">S</text>
<text x="157.6" y="387.7" font-size="7.2" text-anchor="middle">I</text>
<text x="170.7" y="387.7" font-size="7.2" text-anchor="middle">S</text>
<text x="186.5" y="387.7" font-size="7.2" text-anchor="middle">I</text>
<text x="203.5" y="387.7" font-size="7.2" text-anchor="middle">NT</text>
<text x="219.6" y="387.7" font-size="7.2" text-anchor="middle">S</text>
<text x="233" y="387.7" font-size="7.2" text-anchor="middle">I</text>
<text x="247.8" y="387.7" font-size="7.2" text-anchor="middle">S</text>
<text x="263" y="387.7" font-size="7.2" text-anchor="middle">I</text>
<text x="275.7" y="387.7" font-size="7.2" text-anchor="middle">S</text>
<text x="290.7" y="387.7" font-size="7.2" text-anchor="middle">I</text>
<text x="298.8" y="389.2" font-size="8.3" textLength="18.5" lengthAdjust="spacingAndGlyphs">[kDa]</text>
<line x1="296" y1="399.4" x2="301.4" y2="399.4" stroke="#231f20" stroke-width="0.9" />
<text x="304.6" y="401.9" font-size="8.6">55</text>
<line x1="296" y1="413.6" x2="301.4" y2="413.6" stroke="#231f20" stroke-width="0.9" />
<text x="304.6" y="416.2" font-size="8.6">55</text>
<rect x="53.9" y="410.85" width="7.2" height="2.70" rx="1.35" fill="#808080" filter="url(#bl)"/>
<rect x="66.1" y="411.05" width="8.9" height="2.70" rx="1.35" fill="#191919" filter="url(#bl)"/>
<rect x="78.5" y="411.25" width="8.6" height="2.70" rx="1.35" fill="#474747" filter="url(#bl)"/>
<rect x="111.0" y="395.65" width="9.0" height="2.30" rx="1.15" fill="#666666" filter="url(#bl)"/>
<rect x="135.6" y="393.75" width="12.9" height="6.10" rx="3.00" fill="#000000" filter="url(#bl)"/>
<rect x="151.9" y="395.65" width="8.3" height="2.70" rx="1.35" fill="#616161" filter="url(#bl)"/>
<rect x="164.1" y="393.55" width="13.1" height="6.50" rx="3.00" fill="#000000" filter="url(#bl)"/>
<rect x="178.1" y="394.95" width="12.6" height="4.10" rx="2.05" fill="#141414" filter="url(#bl)"/>
<rect x="95.5" y="411.45" width="10.6" height="3.10" rx="1.55" fill="#141414" filter="url(#bl)"/>
<rect x="110.2" y="411.45" width="10.6" height="3.10" rx="1.55" fill="#141414" filter="url(#bl)"/>
<rect x="124.0" y="411.45" width="10.7" height="3.10" rx="1.55" fill="#141414" filter="url(#bl)"/>
<rect x="137.1" y="411.45" width="11.1" height="3.10" rx="1.55" fill="#141414" filter="url(#bl)"/>
<rect x="151.9" y="411.45" width="8.8" height="3.10" rx="1.55" fill="#141414" filter="url(#bl)"/>
<rect x="164.6" y="411.45" width="11.1" height="3.10" rx="1.55" fill="#141414" filter="url(#bl)"/>
<rect x="179.3" y="411.45" width="11.2" height="3.10" rx="1.55" fill="#141414" filter="url(#bl)"/>
<rect x="214.5" y="395.20" width="9.5" height="2.00" rx="1.00" fill="#a6a6a6" filter="url(#bl)"/>
<rect x="242.2" y="395.60" width="10.1" height="2.00" rx="1.00" fill="#9e9e9e" filter="url(#bl)"/>
<rect x="271.1" y="395.75" width="10.5" height="2.50" rx="1.25" fill="#737373" filter="url(#bl)"/>
<rect x="284.2" y="396.25" width="9.5" height="2.10" rx="1.05" fill="#999999" filter="url(#bl)"/>
<rect x="275.8" y="395.55" width="5.8" height="2.90" rx="1.45" fill="#141414" filter="url(#bl)"/>
<rect x="200.3" y="411.50" width="7.4" height="3.00" rx="1.50" fill="#a6a6a6" filter="url(#bl)"/>
<rect x="214.1" y="411.50" width="9.8" height="3.00" rx="1.50" fill="#0d0d0d" filter="url(#bl)"/>
<rect x="226.8" y="411.50" width="10.9" height="3.00" rx="1.50" fill="#0d0d0d" filter="url(#bl)"/>
<rect x="243.0" y="411.50" width="10.9" height="3.00" rx="1.50" fill="#0d0d0d" filter="url(#bl)"/>
<rect x="258.0" y="411.50" width="8.7" height="3.00" rx="1.50" fill="#262626" filter="url(#bl)"/>
<rect x="270.7" y="411.50" width="9.8" height="3.00" rx="1.50" fill="#191919" filter="url(#bl)"/>
<rect x="286.3" y="411.50" width="8.0" height="3.00" rx="1.50" fill="#262626" filter="url(#bl)"/>
<line x1="107.8" y1="390" x2="107.8" y2="420.4" stroke="#2a2a2a" stroke-width="1.2" />
<line x1="211.3" y1="389.5" x2="211.3" y2="420.4" stroke="#2a2a2a" stroke-width="1.2" />
<text x="334.7" y="348.8" font-size="12.2" font-weight="bold">F</text>
<rect x="383.3" y="376.2" width="11.2" height="49.6" fill="#3aaa35" />
<rect x="400.8" y="401.0" width="10.5" height="24.8" fill="#c8102e" />
<rect x="418" y="376.2" width="10.8" height="49.6" fill="#3aaa35" />
<rect x="435.5" y="405.464" width="10.8" height="20.336" fill="#c8102e" />
<line x1="383.3" y1="376.2" x2="394.5" y2="376.2" stroke="#111" stroke-width="2.3" />
<line x1="418" y1="376.2" x2="428.8" y2="376.2" stroke="#111" stroke-width="2.3" />
<line x1="377.2" y1="348.4" x2="377.2" y2="426.8" stroke="#231f20" stroke-width="1.1" />
<line x1="374.2" y1="425.8" x2="377.2" y2="425.8" stroke="#231f20" stroke-width="0.9" />
<text x="370.6" y="428.8" font-size="8.6" text-anchor="end">0.0</text>
<line x1="374.2" y1="401.0" x2="377.2" y2="401.0" stroke="#231f20" stroke-width="0.9" />
<text x="370.6" y="404.0" font-size="8.6" text-anchor="end">0.5</text>
<line x1="374.2" y1="376.2" x2="377.2" y2="376.2" stroke="#231f20" stroke-width="0.9" />
<text x="370.6" y="379.2" font-size="8.6" text-anchor="end">1.0</text>
<line x1="374.2" y1="351.4" x2="377.2" y2="351.4" stroke="#231f20" stroke-width="0.9" />
<text x="370.6" y="354.4" font-size="8.6" text-anchor="end">1.5</text>
<line x1="376.7" y1="425.5" x2="451.8" y2="425.5" stroke="#231f20" stroke-width="1.0" />
<line x1="388.9" y1="425.8" x2="388.9" y2="428.0" stroke="#231f20" stroke-width="0.8" />
<line x1="406" y1="425.8" x2="406" y2="428.0" stroke="#231f20" stroke-width="0.8" />
<line x1="423.4" y1="425.8" x2="423.4" y2="428.0" stroke="#231f20" stroke-width="0.8" />
<line x1="441" y1="425.8" x2="441" y2="428.0" stroke="#231f20" stroke-width="0.8" />
<line x1="406" y1="401.0" x2="406" y2="396.288" stroke="#231f20" stroke-width="0.85" />
<line x1="404" y1="396.288" x2="408.2" y2="396.288" stroke="#231f20" stroke-width="0.85" />
<line x1="441" y1="405.464" x2="441" y2="402.488" stroke="#231f20" stroke-width="0.85" />
<line x1="438.8" y1="402.488" x2="443.2" y2="402.488" stroke="#231f20" stroke-width="0.85" />
<circle cx="405.9" cy="387.6" r="1.45" fill="#111"/>
<circle cx="405.9" cy="392.1" r="1.45" fill="#111"/>
<circle cx="401.3" cy="400.5" r="1.45" fill="#111"/>
<circle cx="410.2" cy="400.5" r="1.45" fill="#111"/>
<circle cx="405.9" cy="402.0" r="1.45" fill="#111"/>
<circle cx="440.3" cy="384.6" r="1.45" fill="#111"/>
<circle cx="442.2" cy="394.6" r="1.45" fill="#111"/>
<circle cx="438.8" cy="396.5" r="1.45" fill="#111"/>
<circle cx="436.2" cy="405.0" r="1.45" fill="#111"/>
<circle cx="444.8" cy="405.5" r="1.45" fill="#111"/>
<circle cx="441" cy="408.4" r="1.45" fill="#111"/>
<circle cx="443.4" cy="410.9" r="1.45" fill="#111"/>
<circle cx="439.4" cy="409.4" r="1.45" fill="#111"/>
<circle cx="442.5" cy="407.4" r="1.45" fill="#111"/>
<circle cx="440.6" cy="421.3" r="1.45" fill="#111"/>
<path d="M388.5,371.6V367.5H405.5V383.6" fill="none" stroke="#231f20" stroke-width="0.85"/>
<path d="M423.5,371.6V367.5H440.5V381.6" fill="none" stroke="#231f20" stroke-width="0.85"/>
<text x="397.1" y="366" font-size="8.1" text-anchor="middle" textLength="12" lengthAdjust="spacingAndGlyphs">****</text>
<text x="431.8" y="366" font-size="8.1" text-anchor="middle" textLength="12" lengthAdjust="spacingAndGlyphs">****</text>
<text x="0" y="0" font-size="9.8" text-anchor="middle" textLength="55" lengthAdjust="spacingAndGlyphs" style="stroke-width:0.2px" transform="translate(354.8,387.5) rotate(-90)">Ratio pLCP1/LCP1</text>
<text x="388.5" y="440" font-size="8.6" text-anchor="middle">S</text>
<text x="405.2" y="440" font-size="8.6" text-anchor="middle">I</text>
<text x="423.2" y="440" font-size="8.6" text-anchor="middle">S</text>
<text x="440.5" y="440" font-size="8.6" text-anchor="middle">I</text>
<line x1="380.4" y1="444.5" x2="412.7" y2="444.5" stroke="#231f20" stroke-width="1.2" />
<line x1="415.3" y1="444.5" x2="447.6" y2="444.5" stroke="#231f20" stroke-width="1.2" />
<text x="395.9" y="455.7" font-size="8.6" text-anchor="middle">CD4</text>
<text x="430.6" y="455.7" font-size="8.6" text-anchor="middle">CD8</text>
<line x1="380.4" y1="460.5" x2="448.1" y2="460.5" stroke="#231f20" stroke-width="1.2" />
<text x="414.6" y="471" font-size="8.6" text-anchor="middle">30'</text>
<text x="7.1" y="499.4" font-size="12.2" font-weight="bold">G</text>
<text x="90.7" y="498.5" font-size="9.6" textLength="98.2" lengthAdjust="spacingAndGlyphs">Jurkat + Raji co-culture</text>
<line x1="61.8" y1="503.5" x2="218.5" y2="503.5" stroke="#231f20" stroke-width="0.95" />
<text x="100.4" y="512.5" font-size="8.1" text-anchor="middle" textLength="30" lengthAdjust="spacingAndGlyphs">30' SEE</text>
<text x="180.8" y="512.5" font-size="8.1" text-anchor="middle" textLength="29.6" lengthAdjust="spacingAndGlyphs">60' SEE</text>
<line x1="61.8" y1="515.5" x2="139.8" y2="515.5" stroke="#231f20" stroke-width="0.95" />
<line x1="143" y1="515.5" x2="218.5" y2="515.5" stroke="#231f20" stroke-width="0.95" />
<text x="57.8" y="525.5" font-size="8.1" text-anchor="end" textLength="15.2" lengthAdjust="spacingAndGlyphs">Raji:</text>
<text x="81.65" y="525.5" font-size="8.1" text-anchor="middle">Ctrl</text>
<line x1="61.8" y1="528.5" x2="101.5" y2="528.5" stroke="#231f20" stroke-width="0.95" />
<text x="121.25" y="525.5" font-size="8.1" text-anchor="middle">PDL2</text>
<line x1="102.7" y1="528.5" x2="139.8" y2="528.5" stroke="#231f20" stroke-width="0.95" />
<text x="161.6" y="525.5" font-size="8.1" text-anchor="middle">Ctrl</text>
<line x1="143" y1="528.5" x2="180.2" y2="528.5" stroke="#231f20" stroke-width="0.95" />
<text x="200.75" y="525.5" font-size="8.1" text-anchor="middle">PDL2</text>
<line x1="183" y1="528.5" x2="218.5" y2="528.5" stroke="#231f20" stroke-width="0.95" />
<text x="57.8" y="539" font-size="8.1" text-anchor="end" textLength="23.3" lengthAdjust="spacingAndGlyphs">Jurkat:</text>
<text x="72.9" y="539" font-size="7.9" text-anchor="middle">Ctrl</text>
<text x="92.1" y="539" font-size="7.9" text-anchor="middle">PD1</text>
<text x="112.3" y="539" font-size="7.9" text-anchor="middle">Ctrl</text>
<text x="131.4" y="539" font-size="7.9" text-anchor="middle">PD1</text>
<text x="150.7" y="539" font-size="7.9" text-anchor="middle">Ctrl</text>
<text x="170.3" y="539" font-size="7.9" text-anchor="middle">PD1</text>
<text x="189.8" y="539" font-size="7.9" text-anchor="middle">Ctrl</text>
<text x="209.7" y="539" font-size="7.9" text-anchor="middle">PD1</text>
<text x="224.1" y="544.2" font-size="8.3" textLength="17.5" lengthAdjust="spacingAndGlyphs">[kDa]</text>
<line x1="219.8" y1="553.2" x2="226.6" y2="553.2" stroke="#231f20" stroke-width="0.9" />
<text x="229.7" y="556.2" font-size="8.6">55</text>
<line x1="219.8" y1="571.4" x2="226.6" y2="571.4" stroke="#231f20" stroke-width="0.9" />
<text x="229.7" y="574.2" font-size="8.6">55</text>
<text x="57.3" y="558" font-size="8.4" text-anchor="end" textLength="25" lengthAdjust="spacingAndGlyphs">pLCP1</text>
<text x="57.3" y="578" font-size="8.4" text-anchor="end" textLength="20.2" lengthAdjust="spacingAndGlyphs">LCP1</text>
<rect x="60.5" y="544.5" width="158.5" height="16.5" fill="#f6f6f6" />
<rect x="60.5" y="565.5" width="158.5" height="13" fill="#f6f6f6" />
<rect x="64.5" y="550.00" width="17.0" height="2.80" rx="1.40" fill="#808080" filter="url(#bl)"/>
<rect x="85.3" y="550.00" width="16.8" height="2.80" rx="1.40" fill="#808080" filter="url(#bl)"/>
<rect x="104.3" y="550.00" width="15.8" height="2.80" rx="1.40" fill="#616161" filter="url(#bl)"/>
<rect x="123.9" y="550.00" width="16.4" height="2.80" rx="1.40" fill="#b2b2b2" filter="url(#bl)"/>
<rect x="144.2" y="550.00" width="16.7" height="2.80" rx="1.40" fill="#0d0d0d" filter="url(#bl)"/>
<rect x="164.8" y="550.00" width="15.8" height="2.80" rx="1.40" fill="#191919" filter="url(#bl)"/>
<rect x="184.4" y="550.00" width="14.1" height="2.80" rx="1.40" fill="#000000" filter="url(#bl)"/>
<rect x="204.0" y="550.00" width="12.5" height="2.80" rx="1.40" fill="#595959" filter="url(#bl)"/>
<rect x="104.8" y="549.80" width="5.9" height="2.80" rx="1.40" fill="#262626" filter="url(#bl)"/>
<rect x="64.5" y="570.30" width="18.0" height="3.40" rx="1.70" fill="#666666" filter="url(#bl)"/>
<rect x="85.1" y="570.30" width="17.0" height="3.40" rx="1.70" fill="#6b6b6b" filter="url(#bl)"/>
<rect x="103.7" y="570.30" width="16.4" height="3.40" rx="1.70" fill="#666666" filter="url(#bl)"/>
<rect x="122.3" y="570.30" width="17.4" height="3.40" rx="1.70" fill="#6b6b6b" filter="url(#bl)"/>
<rect x="142.9" y="570.30" width="17.1" height="3.40" rx="1.70" fill="#6b6b6b" filter="url(#bl)"/>
<rect x="162.5" y="570.30" width="17.2" height="3.40" rx="1.70" fill="#666666" filter="url(#bl)"/>
<rect x="181.5" y="570.30" width="17.0" height="3.40" rx="1.70" fill="#6b6b6b" filter="url(#bl)"/>
<rect x="200.8" y="570.30" width="16.7" height="3.40" rx="1.70" fill="#595959" filter="url(#bl)"/>
<text x="180.4" y="597.5" font-size="8.1" text-anchor="middle" textLength="41.2" lengthAdjust="spacingAndGlyphs">30' no SEE</text>
<line x1="142.3" y1="600.5" x2="219" y2="600.5" stroke="#231f20" stroke-width="0.95" />
<text x="58.7" y="610.8" font-size="8.1" text-anchor="end" textLength="15.5" lengthAdjust="spacingAndGlyphs">Raji:</text>
<text x="71.6" y="610.8" font-size="8.1" text-anchor="middle">Ctrl</text>
<text x="93" y="610.8" font-size="8.1" text-anchor="middle">PDL2</text>
<text x="113" y="610.8" font-size="8.1" text-anchor="middle">–</text>
<text x="129.5" y="610.8" font-size="8.1" text-anchor="middle">–</text>
<text x="161.4" y="610.8" font-size="8.1" text-anchor="middle">Ctrl</text>
<text x="200.6" y="610.8" font-size="8.1" text-anchor="middle">PDL2</text>
<line x1="142.3" y1="613.5" x2="180.5" y2="613.5" stroke="#231f20" stroke-width="0.95" />
<line x1="183.2" y1="613.5" x2="218.5" y2="613.5" stroke="#231f20" stroke-width="0.95" />
<text x="58.7" y="624.5" font-size="8.1" text-anchor="end" textLength="23.7" lengthAdjust="spacingAndGlyphs">Jurkat:</text>
<text x="71.3" y="624.5" font-size="8.1" text-anchor="middle">–</text>
<text x="91.3" y="624.5" font-size="8.1" text-anchor="middle">–</text>
<text x="113.5" y="624.5" font-size="7.9" text-anchor="middle">Ctrl</text>
<text x="133.3" y="624.5" font-size="7.9" text-anchor="middle">PD1</text>
<text x="151.7" y="624.5" font-size="7.9" text-anchor="middle">Ctrl</text>
<text x="171.4" y="624.5" font-size="7.9" text-anchor="middle">PD1</text>
<text x="191.8" y="624.5" font-size="7.9" text-anchor="middle">Ctrl</text>
<text x="210.5" y="624.5" font-size="7.9" text-anchor="middle">PD1</text>
<text x="225.7" y="627.8" font-size="8.3" textLength="18.4" lengthAdjust="spacingAndGlyphs">[kDa]</text>
<line x1="221.7" y1="637.4" x2="228.5" y2="637.4" stroke="#231f20" stroke-width="0.9" />
<text x="231.2" y="640" font-size="8.6">55</text>
<line x1="221.7" y1="655.5" x2="228.5" y2="655.5" stroke="#231f20" stroke-width="0.9" />
<text x="231.2" y="658.4" font-size="8.6">55</text>
<text x="56.5" y="643.8" font-size="8.4" text-anchor="end" textLength="24" lengthAdjust="spacingAndGlyphs">pLCP1</text>
<text x="56.5" y="665.2" font-size="8.4" text-anchor="end" textLength="19" lengthAdjust="spacingAndGlyphs">LCP1</text>
<rect x="61.3" y="626.6" width="158.7" height="18" fill="#f6f6f6" />
<rect x="61.3" y="651.5" width="158.7" height="15" fill="#f8f8f8" />
<rect x="106.9" y="635.35" width="16.4" height="2.10" rx="1.05" fill="#ededed" filter="url(#bl)"/>
<rect x="125.6" y="635.35" width="15.7" height="2.10" rx="1.05" fill="#ededed" filter="url(#bl)"/>
<rect x="145.3" y="635.35" width="15.6" height="2.10" rx="1.05" fill="#ededed" filter="url(#bl)"/>
<rect x="163.2" y="635.35" width="17.4" height="2.10" rx="1.05" fill="#ededed" filter="url(#bl)"/>
<rect x="182.8" y="635.35" width="15.7" height="2.10" rx="1.05" fill="#ededed" filter="url(#bl)"/>
<rect x="201.8" y="635.35" width="16.4" height="2.10" rx="1.05" fill="#ededed" filter="url(#bl)"/>
<rect x="65.1" y="656.40" width="17.4" height="3.60" rx="1.80" fill="#404040" filter="url(#bl)"/>
<rect x="86.3" y="656.40" width="17.4" height="3.60" rx="1.80" fill="#525252" filter="url(#bl)"/>
<rect x="106.9" y="656.40" width="16.4" height="3.60" rx="1.80" fill="#525252" filter="url(#bl)"/>
<rect x="125.6" y="656.40" width="15.7" height="3.60" rx="1.80" fill="#5c5c5c" filter="url(#bl)"/>
<rect x="145.3" y="656.40" width="15.6" height="3.60" rx="1.80" fill="#5c5c5c" filter="url(#bl)"/>
<rect x="163.2" y="656.40" width="17.4" height="3.60" rx="1.80" fill="#525252" filter="url(#bl)"/>
<rect x="182.8" y="656.40" width="15.7" height="3.60" rx="1.80" fill="#5c5c5c" filter="url(#bl)"/>
<rect x="201.8" y="656.40" width="16.4" height="3.60" rx="1.80" fill="#666666" filter="url(#bl)"/>
<text x="331.4" y="500.2" font-size="12.2" font-weight="bold">H</text>
<rect x="387" y="533.4000000000001" width="8.9" height="57.8" fill="#3aaa35" />
<rect x="406.8" y="535.134" width="8.4" height="56.065999999999995" fill="#3aaa35" />
<rect x="425.1" y="533.4000000000001" width="9.1" height="57.8" fill="#c8102e" />
<rect x="444.1" y="566.346" width="9.1" height="24.854" fill="#c8102e" />
<line x1="377.2" y1="501.50000000000006" x2="377.2" y2="592.2" stroke="#231f20" stroke-width="1.1" />
<line x1="374.2" y1="591.2" x2="377.2" y2="591.2" stroke="#231f20" stroke-width="0.9" />
<text x="370.4" y="594.2" font-size="8.6" text-anchor="end">0.0</text>
<line x1="374.2" y1="562.3000000000001" x2="377.2" y2="562.3000000000001" stroke="#231f20" stroke-width="0.9" />
<text x="370.4" y="565.3000000000001" font-size="8.6" text-anchor="end">0.5</text>
<line x1="374.2" y1="533.4000000000001" x2="377.2" y2="533.4000000000001" stroke="#231f20" stroke-width="0.9" />
<text x="370.4" y="536.4000000000001" font-size="8.6" text-anchor="end">1.0</text>
<line x1="374.2" y1="504.50000000000006" x2="377.2" y2="504.50000000000006" stroke="#231f20" stroke-width="0.9" />
<text x="370.4" y="507.50000000000006" font-size="8.6" text-anchor="end">1.5</text>
<line x1="376.7" y1="591.5" x2="464" y2="591.5" stroke="#231f20" stroke-width="1.0" />
<line x1="391.5" y1="591.2" x2="391.5" y2="593.4000000000001" stroke="#231f20" stroke-width="0.8" />
<line x1="411.2" y1="591.2" x2="411.2" y2="593.4000000000001" stroke="#231f20" stroke-width="0.8" />
<line x1="429.5" y1="591.2" x2="429.5" y2="593.4000000000001" stroke="#231f20" stroke-width="0.8" />
<line x1="448.7" y1="591.2" x2="448.7" y2="593.4000000000001" stroke="#231f20" stroke-width="0.8" />
<line x1="411.2" y1="535.134" x2="411.2" y2="532.244" stroke="#231f20" stroke-width="0.8" />
<line x1="409.4" y1="532.244" x2="413" y2="532.244" stroke="#231f20" stroke-width="0.8" />
<line x1="448.7" y1="566.346" x2="448.7" y2="556.5200000000001" stroke="#231f20" stroke-width="0.8" />
<line x1="446.7" y1="556.5200000000001" x2="450.7" y2="556.5200000000001" stroke="#231f20" stroke-width="0.8" />
<circle cx="388.7" cy="533.4" r="1.3" fill="#111"/>
<circle cx="392" cy="533.4" r="1.3" fill="#111"/>
<circle cx="394.8" cy="533.4" r="1.3" fill="#111"/>
<circle cx="410.2" cy="531.7" r="1.3" fill="#111"/>
<circle cx="408.6" cy="535.1" r="1.3" fill="#111"/>
<circle cx="411" cy="536.9" r="1.3" fill="#111"/>
<circle cx="426.3" cy="533.4" r="1.3" fill="#111"/>
<circle cx="429.4" cy="533.4" r="1.3" fill="#111"/>
<circle cx="432.4" cy="533.4" r="1.3" fill="#111"/>
<circle cx="448.5" cy="550.7" r="1.3" fill="#111"/>
<circle cx="448.5" cy="563.5" r="1.3" fill="#111"/>
<circle cx="448.5" cy="573.3" r="1.3" fill="#111"/>
<circle cx="448.5" cy="582.0" r="1.3" fill="#111"/>
<path d="M391.5,527.4V520.5H410.5V527.4" fill="none" stroke="#231f20" stroke-width="0.85"/>
<path d="M429.5,527.4V520.5H448.5V548.4" fill="none" stroke="#231f20" stroke-width="0.85"/>
<path d="M408.5,505.6V500.5H448.5V503.4" fill="none" stroke="#231f20" stroke-width="0.85"/>
<text x="400.6" y="517.2" font-size="8.1" text-anchor="middle">ns</text>
<text x="439.1" y="519.6" font-size="8.1" text-anchor="middle" textLength="6" lengthAdjust="spacingAndGlyphs">**</text>
<text x="429.8" y="501" font-size="8.1" text-anchor="middle" textLength="6" lengthAdjust="spacingAndGlyphs">**</text>
<text x="0" y="0" font-size="9.8" text-anchor="middle" textLength="51.5" lengthAdjust="spacingAndGlyphs" style="stroke-width:0.2px" transform="translate(353.8,548) rotate(-90)">Ratio pLCP1/LCP1</text>
<text x="391.5" y="604.3" font-size="8.3" text-anchor="middle">Ctrl</text>
<text x="410.1" y="604.3" font-size="8.3" text-anchor="middle">PD1</text>
<text x="429.3" y="604.3" font-size="8.3" text-anchor="middle">Ctrl</text>
<text x="448.4" y="604.3" font-size="8.3" text-anchor="middle">PD1</text>
<line x1="382.9" y1="610.5" x2="418.9" y2="610.5" stroke="#231f20" stroke-width="1.2" />
<line x1="421.7" y1="610.5" x2="457.1" y2="610.5" stroke="#231f20" stroke-width="1.2" />
<text x="400.8" y="620.6" font-size="8.3" text-anchor="middle" textLength="28.6" lengthAdjust="spacingAndGlyphs">Raji Ctrl</text>
<text x="439.3" y="620.6" font-size="8.3" text-anchor="middle" textLength="35" lengthAdjust="spacingAndGlyphs">Raji PDL2</text>
<line x1="382.9" y1="626.5" x2="457.1" y2="626.5" stroke="#231f20" stroke-width="1.2" />
<text x="420.5" y="636.6" font-size="8.3" text-anchor="middle">30'</text>
<rect x="0" y="0" width="520" height="1.05" fill="#4a4a4a"/><rect x="0" y="0" width="1.05" height="674" fill="#595959"/><rect x="518.9" y="0" width="1.1" height="674" fill="#3a3a3a"/><rect x="0" y="672.75" width="520" height="1.25" fill="#363636"/>
</svg></body></html>
